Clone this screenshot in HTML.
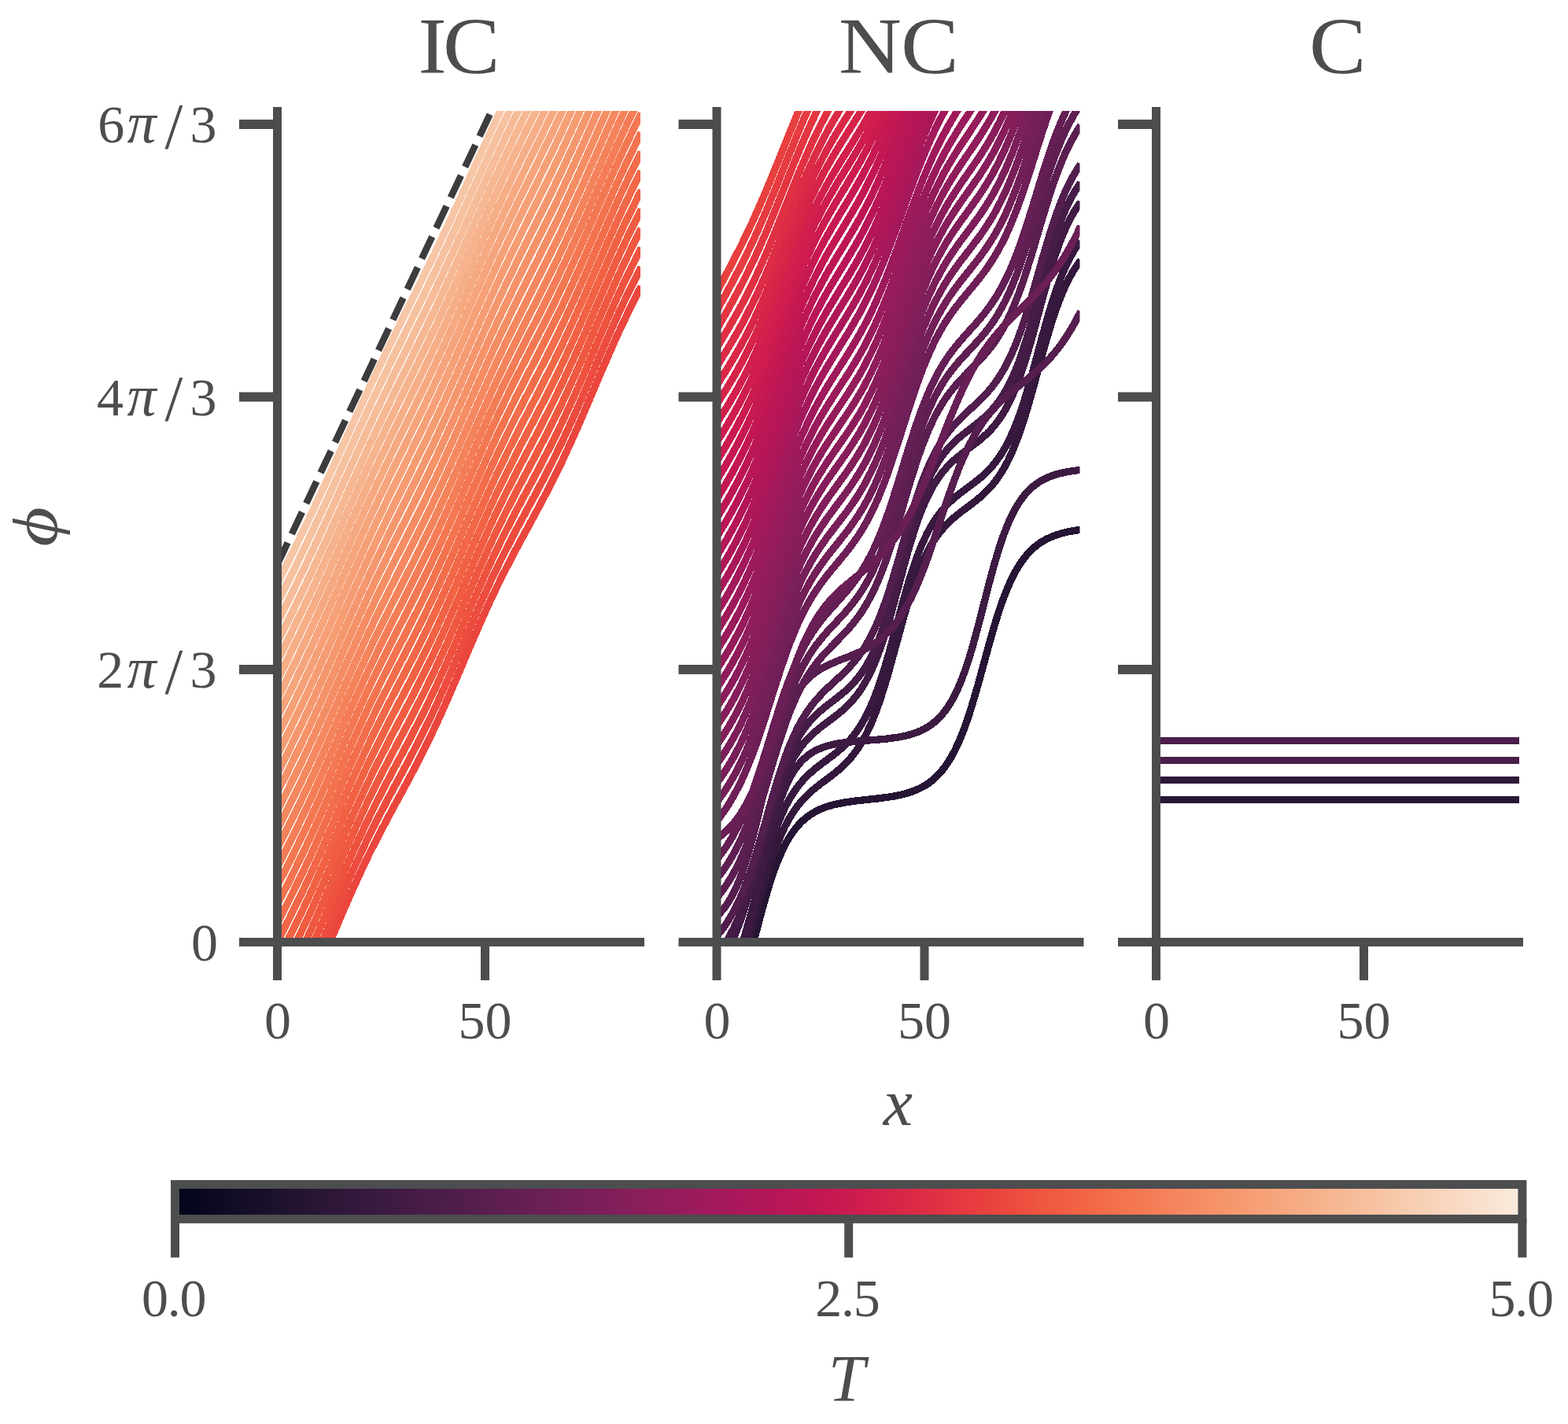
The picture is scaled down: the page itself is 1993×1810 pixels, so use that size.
<!DOCTYPE html>
<html lang="en"><head><meta charset="utf-8"><title>CDW phase profiles: IC, NC, C</title>
<style>html,body{margin:0;padding:0;background:#fff;}svg{display:block;}text{font-family:"Liberation Serif","DejaVu Serif",serif;fill:#4c4d4f;}.it{font-style:italic;}</style></head><body>
<svg xmlns="http://www.w3.org/2000/svg" width="1993" height="1810" viewBox="0 0 1993 1810">
<rect width="1993" height="1810" fill="#fff"/>
<defs>
<clipPath id="c0"><rect x="352.5" y="141.0" width="461.5" height="1056.5"/></clipPath>
<clipPath id="c1"><rect x="911.0" y="141.0" width="461.5" height="1056.5"/></clipPath>
<clipPath id="c2"><rect x="1469.5" y="141.0" width="461.5" height="1056.5"/></clipPath>
<linearGradient id="rk" x1="0" y1="0" x2="1" y2="0"><stop offset="0.0000" stop-color="#03051a"/><stop offset="0.0156" stop-color="#07071d"/><stop offset="0.0312" stop-color="#0d0a21"/><stop offset="0.0469" stop-color="#130d25"/><stop offset="0.0625" stop-color="#180f29"/><stop offset="0.0781" stop-color="#1e122d"/><stop offset="0.0938" stop-color="#241432"/><stop offset="0.1094" stop-color="#2a1636"/><stop offset="0.1250" stop-color="#30173a"/><stop offset="0.1406" stop-color="#35193e"/><stop offset="0.1562" stop-color="#3c1a42"/><stop offset="0.1719" stop-color="#421b45"/><stop offset="0.1875" stop-color="#481c48"/><stop offset="0.2031" stop-color="#4e1d4b"/><stop offset="0.2188" stop-color="#541e4e"/><stop offset="0.2344" stop-color="#5b1e51"/><stop offset="0.2500" stop-color="#611f53"/><stop offset="0.2656" stop-color="#681f55"/><stop offset="0.2812" stop-color="#6e1f57"/><stop offset="0.2969" stop-color="#751f58"/><stop offset="0.3125" stop-color="#7b1f59"/><stop offset="0.3281" stop-color="#821e5a"/><stop offset="0.3438" stop-color="#891e5b"/><stop offset="0.3594" stop-color="#901d5b"/><stop offset="0.3750" stop-color="#971c5b"/><stop offset="0.3906" stop-color="#9e1a5b"/><stop offset="0.4062" stop-color="#a4195b"/><stop offset="0.4219" stop-color="#ab185a"/><stop offset="0.4375" stop-color="#b21758"/><stop offset="0.4531" stop-color="#b91657"/><stop offset="0.4688" stop-color="#bf1654"/><stop offset="0.4844" stop-color="#c51852"/><stop offset="0.5000" stop-color="#cb1b4f"/><stop offset="0.5156" stop-color="#d11f4c"/><stop offset="0.5312" stop-color="#d62449"/><stop offset="0.5469" stop-color="#db2946"/><stop offset="0.5625" stop-color="#df2f44"/><stop offset="0.5781" stop-color="#e33641"/><stop offset="0.5938" stop-color="#e73d3f"/><stop offset="0.6094" stop-color="#ea443e"/><stop offset="0.6250" stop-color="#ec4c3e"/><stop offset="0.6406" stop-color="#ee543f"/><stop offset="0.6562" stop-color="#f05c42"/><stop offset="0.6719" stop-color="#f16445"/><stop offset="0.6875" stop-color="#f26b49"/><stop offset="0.7031" stop-color="#f3734e"/><stop offset="0.7188" stop-color="#f47a54"/><stop offset="0.7344" stop-color="#f4815a"/><stop offset="0.7500" stop-color="#f58860"/><stop offset="0.7656" stop-color="#f58f66"/><stop offset="0.7812" stop-color="#f5966c"/><stop offset="0.7969" stop-color="#f69c73"/><stop offset="0.8125" stop-color="#f6a37a"/><stop offset="0.8281" stop-color="#f6a981"/><stop offset="0.8438" stop-color="#f6b089"/><stop offset="0.8594" stop-color="#f6b691"/><stop offset="0.8750" stop-color="#f6bc99"/><stop offset="0.8906" stop-color="#f7c2a2"/><stop offset="0.9062" stop-color="#f7c9aa"/><stop offset="0.9219" stop-color="#f7cfb3"/><stop offset="0.9375" stop-color="#f8d4bc"/><stop offset="0.9531" stop-color="#f8dac5"/><stop offset="0.9688" stop-color="#f9e0cd"/><stop offset="0.9844" stop-color="#fae6d6"/><stop offset="1.0000" stop-color="#faebdd"/></linearGradient>
</defs>
<g clip-path="url(#c0)" fill="none" stroke-width="9.3" stroke-linecap="butt" stroke-linejoin="round" shape-rendering="crispEdges">
<path d="M406.9 1226.6L410.8 1217.6L414.7 1208.5L418.6 1199.4L422.5 1190.2L426.4 1181.1L430.3 1171.9L434.1 1162.8L438.0 1153.8L441.9 1144.9L445.8 1136.0L449.7 1127.3L453.6 1118.8L457.5 1110.3L461.4 1102.0L465.2 1093.9L469.1 1085.9L473.0 1078.1L476.9 1070.4L480.8 1062.8L484.7 1055.3L488.6 1047.9L492.5 1040.6L496.3 1033.4L500.2 1026.2L504.1 1019.0L508.0 1011.9L511.9 1004.7L515.8 997.5L519.7 990.2L523.6 982.9L527.4 975.5L531.3 968.0L535.2 960.4L539.1 952.6L543.0 944.7L546.9 936.7L550.8 928.5L554.7 920.2L558.5 911.8L562.4 903.1L566.3 894.4L570.2 885.5L574.1 876.6L578.0 867.5L581.9 858.4L585.8 849.3L589.6 840.1L593.5 830.9L597.4 821.8L601.3 812.7L605.2 803.8L609.1 794.9L613.0 786.1L616.9 777.4L620.7 768.9L624.6 760.5L628.5 752.3L632.4 744.2L636.3 736.3L640.2 728.5L644.1 720.9L648.0 713.3L651.9 705.9L655.7 698.5L659.6 691.3L663.5 684.0L667.4 676.9L671.3 669.7L675.2 662.5L679.1 655.3L683.0 648.1L686.8 640.8L690.7 633.5L694.6 626.1L698.5 618.5L702.4 610.8L706.3 603.0L710.2 595.1L714.1 587.0L717.9 578.8L721.8 570.4L725.7 561.9L729.6 553.2L733.5 544.4L737.4 535.5L741.3 526.5L745.2 517.4L749.0 508.3L752.9 499.2L756.8 490.0L760.7 480.8L764.6 471.7L768.5 462.7L772.4 453.7L776.3 444.9L780.1 436.1L784.0 427.5L787.9 419.1L791.8 410.8L795.7 402.6L799.6 394.6L803.5 386.7L807.4 379.0L811.2 371.4L815.1 363.9" stroke="#eb463e"/>
<path d="M395.3 1229.3L399.2 1220.6L403.0 1211.9L406.9 1203.0L410.8 1194.0L414.7 1185.0L418.6 1175.9L422.5 1166.8L426.4 1157.6L430.3 1148.5L434.1 1139.5L438.0 1130.4L441.9 1121.5L445.8 1112.7L449.7 1104.0L453.6 1095.4L457.5 1087.0L461.4 1078.6L465.2 1070.5L469.1 1062.5L473.0 1054.6L476.9 1046.8L480.8 1039.2L484.7 1031.6L488.6 1024.2L492.5 1016.8L496.3 1009.5L500.2 1002.3L504.1 995.1L508.0 987.9L511.9 980.6L515.8 973.4L519.7 966.1L523.6 958.7L527.4 951.3L531.3 943.8L535.2 936.1L539.1 928.4L543.0 920.5L546.9 912.5L550.8 904.3L554.7 896.0L558.5 887.5L562.4 879.0L566.3 870.3L570.2 861.4L574.1 852.5L578.0 843.5L581.9 834.4L585.8 825.3L589.6 816.2L593.5 807.1L597.4 798.0L601.3 788.9L605.2 780.0L609.1 771.1L613.0 762.3L616.9 753.6L620.7 745.1L624.6 736.7L628.5 728.5L632.4 720.4L636.3 712.4L640.2 704.6L644.1 696.9L648.0 689.3L651.9 681.8L655.7 674.4L659.6 667.1L663.5 659.8L667.4 652.6L671.3 645.4L675.2 638.1L679.1 630.9L683.0 623.6L686.8 616.3L690.7 608.9L694.6 601.5L698.5 593.9L702.4 586.2L706.3 578.4L710.2 570.4L714.1 562.3L717.9 554.1L721.8 545.7L725.7 537.2L729.6 528.6L733.5 519.8L737.4 511.0L741.3 502.0L745.2 493.0L749.0 483.9L752.9 474.8L756.8 465.6L760.7 456.5L764.6 447.4L768.5 438.4L772.4 429.5L776.3 420.6L780.1 411.9L784.0 403.3L787.9 394.9L791.8 386.5L795.7 378.4L799.6 370.3L803.5 362.4L807.4 354.6L811.2 347.0L815.1 339.4" stroke="#ec4c3e"/>
<path d="M383.6 1230.6L387.5 1222.4L391.4 1214.0L395.3 1205.5L399.2 1196.9L403.0 1188.2L406.9 1179.3L410.8 1170.4L414.7 1161.4L418.6 1152.3L422.5 1143.3L426.4 1134.2L430.3 1125.1L434.1 1116.0L438.0 1107.1L441.9 1098.1L445.8 1089.3L449.7 1080.6L453.6 1072.0L457.5 1063.6L461.4 1055.2L465.2 1047.0L469.1 1039.0L473.0 1031.0L476.9 1023.2L480.8 1015.5L484.7 1008.0L488.6 1000.5L492.5 993.0L496.3 985.7L500.2 978.4L504.1 971.1L508.0 963.9L511.9 956.6L515.8 949.3L519.7 942.0L523.6 934.6L527.4 927.1L531.3 919.5L535.2 911.9L539.1 904.1L543.0 896.2L546.9 888.2L550.8 880.0L554.7 871.8L558.5 863.3L562.4 854.8L566.3 846.1L570.2 837.3L574.1 828.4L578.0 819.5L581.9 810.4L585.8 801.4L589.6 792.3L593.5 783.2L597.4 774.1L601.3 765.1L605.2 756.1L609.1 747.3L613.0 738.5L616.9 729.8L620.7 721.3L624.6 712.9L628.5 704.6L632.4 696.5L636.3 688.5L640.2 680.7L644.1 672.9L648.0 665.3L651.9 657.7L655.7 650.3L659.6 642.9L663.5 635.6L667.4 628.3L671.3 621.0L675.2 613.8L679.1 606.5L683.0 599.2L686.8 591.8L690.7 584.4L694.6 576.9L698.5 569.3L702.4 561.6L706.3 553.7L710.2 545.8L714.1 537.7L717.9 529.5L721.8 521.1L725.7 512.6L729.6 504.0L733.5 495.3L737.4 486.4L741.3 477.5L745.2 468.5L749.0 459.4L752.9 450.4L756.8 441.3L760.7 432.2L764.6 423.1L768.5 414.1L772.4 405.2L776.3 396.4L780.1 387.7L784.0 379.1L787.9 370.6L791.8 362.3L795.7 354.1L799.6 346.0L803.5 338.1L807.4 330.3L811.2 322.6L815.1 315.0" stroke="#ee523f"/>
<path d="M375.8 1222.8L379.7 1214.8L383.6 1206.7L387.5 1198.5L391.4 1190.2L395.3 1181.7L399.2 1173.1L403.0 1164.4L406.9 1155.6L410.8 1146.8L414.7 1137.8L418.6 1128.8L422.5 1119.7L426.4 1110.7L430.3 1101.6L434.1 1092.6L438.0 1083.6L441.9 1074.7L445.8 1065.9L449.7 1057.2L453.6 1048.6L457.5 1040.1L461.4 1031.8L465.2 1023.6L469.1 1015.5L473.0 1007.5L476.9 999.6L480.8 991.9L484.7 984.3L488.6 976.7L492.5 969.3L496.3 961.9L500.2 954.5L504.1 947.2L508.0 939.9L511.9 932.5L515.8 925.2L519.7 917.8L523.6 910.4L527.4 902.9L531.3 895.3L535.2 887.7L539.1 879.9L543.0 872.0L546.9 864.0L550.8 855.8L554.7 847.5L558.5 839.1L562.4 830.6L566.3 821.9L570.2 813.2L574.1 804.3L578.0 795.4L581.9 786.4L585.8 777.4L589.6 768.3L593.5 759.3L597.4 750.2L601.3 741.2L605.2 732.3L609.1 723.4L613.0 714.7L616.9 706.0L620.7 697.5L624.6 689.1L628.5 680.8L632.4 672.6L636.3 664.6L640.2 656.7L644.1 648.9L648.0 641.2L651.9 633.7L655.7 626.2L659.6 618.7L663.5 611.4L667.4 604.0L671.3 596.7L675.2 589.4L679.1 582.1L683.0 574.7L686.8 567.3L690.7 559.8L694.6 552.3L698.5 544.7L702.4 536.9L706.3 529.1L710.2 521.1L714.1 513.0L717.9 504.8L721.8 496.5L725.7 488.0L729.6 479.4L733.5 470.7L737.4 461.9L741.3 453.0L745.2 444.0L749.0 435.0L752.9 425.9L756.8 416.9L760.7 407.8L764.6 398.8L768.5 389.9L772.4 381.0L776.3 372.2L780.1 363.5L784.0 354.9L787.9 346.4L791.8 338.1L795.7 329.8L799.6 321.8L803.5 313.8L807.4 306.0L811.2 298.2L815.1 290.6" stroke="#ef5840"/>
<path d="M360.3 1229.7L364.2 1222.1L368.1 1214.5L371.9 1206.8L375.8 1198.9L379.7 1191.0L383.6 1182.9L387.5 1174.7L391.4 1166.4L395.3 1157.9L399.2 1149.4L403.0 1140.7L406.9 1131.9L410.8 1123.1L414.7 1114.2L418.6 1105.2L422.5 1096.2L426.4 1087.2L430.3 1078.1L434.1 1069.1L438.0 1060.2L441.9 1051.3L445.8 1042.5L449.7 1033.8L453.6 1025.2L457.5 1016.7L461.4 1008.3L465.2 1000.1L469.1 991.9L473.0 983.9L476.9 976.0L480.8 968.3L484.7 960.6L488.6 953.0L492.5 945.5L496.3 938.0L500.2 930.6L504.1 923.2L508.0 915.9L511.9 908.5L515.8 901.1L519.7 893.7L523.6 886.3L527.4 878.7L531.3 871.1L535.2 863.4L539.1 855.6L543.0 847.7L546.9 839.7L550.8 831.6L554.7 823.3L558.5 814.9L562.4 806.4L566.3 797.8L570.2 789.0L574.1 780.2L578.0 771.3L581.9 762.4L585.8 753.4L589.6 744.3L593.5 735.3L597.4 726.3L601.3 717.3L605.2 708.4L609.1 699.6L613.0 690.8L616.9 682.2L620.7 673.6L624.6 665.2L628.5 656.9L632.4 648.7L636.3 640.7L640.2 632.7L644.1 624.9L648.0 617.2L651.9 609.6L655.7 602.0L659.6 594.6L663.5 587.1L667.4 579.7L671.3 572.4L675.2 565.0L679.1 557.7L683.0 550.3L686.8 542.8L690.7 535.3L694.6 527.8L698.5 520.1L702.4 512.3L706.3 504.5L710.2 496.5L714.1 488.4L717.9 480.2L721.8 471.9L725.7 463.4L729.6 454.8L733.5 446.1L737.4 437.3L741.3 428.5L745.2 419.5L749.0 410.6L752.9 401.5L756.8 392.5L760.7 383.5L764.6 374.5L768.5 365.6L772.4 356.7L776.3 347.9L780.1 339.2L784.0 330.6L787.9 322.2L791.8 313.8L795.7 305.6L799.6 297.5L803.5 289.5L807.4 281.6L811.2 273.9L815.1 266.2" stroke="#f05c42"/>
<path d="M352.5 1220.9L356.4 1213.4L360.3 1205.9L364.2 1198.3L368.1 1190.6L371.9 1182.9L375.8 1175.0L379.7 1167.1L383.6 1159.0L387.5 1150.8L391.4 1142.5L395.3 1134.1L399.2 1125.6L403.0 1116.9L406.9 1108.2L410.8 1099.4L414.7 1090.5L418.6 1081.6L422.5 1072.6L426.4 1063.6L430.3 1054.6L434.1 1045.6L438.0 1036.7L441.9 1027.8L445.8 1019.0L449.7 1010.3L453.6 1001.7L457.5 993.2L461.4 984.8L465.2 976.5L469.1 968.4L473.0 960.3L476.9 952.4L480.8 944.6L484.7 936.9L488.6 929.2L492.5 921.7L496.3 914.2L500.2 906.7L504.1 899.3L508.0 891.9L511.9 884.5L515.8 877.1L519.7 869.6L523.6 862.1L527.4 854.6L531.3 846.9L535.2 839.2L539.1 831.4L543.0 823.5L546.9 815.5L550.8 807.3L554.7 799.1L558.5 790.7L562.4 782.2L566.3 773.6L570.2 764.9L574.1 756.1L578.0 747.2L581.9 738.3L585.8 729.4L589.6 720.4L593.5 711.4L597.4 702.4L601.3 693.4L605.2 684.6L609.1 675.7L613.0 667.0L616.9 658.3L620.7 649.8L624.6 641.4L628.5 633.0L632.4 624.8L636.3 616.8L640.2 608.8L644.1 600.9L648.0 593.2L651.9 585.5L655.7 577.9L659.6 570.4L663.5 562.9L667.4 555.5L671.3 548.1L675.2 540.7L679.1 533.3L683.0 525.8L686.8 518.3L690.7 510.8L694.6 503.2L698.5 495.5L702.4 487.8L706.3 479.9L710.2 471.9L714.1 463.8L717.9 455.6L721.8 447.3L725.7 438.8L729.6 430.2L733.5 421.6L737.4 412.8L741.3 404.0L745.2 395.1L749.0 386.1L752.9 377.1L756.8 368.1L760.7 359.2L764.6 350.2L768.5 341.3L772.4 332.4L776.3 323.7L780.1 315.0L784.0 306.4L787.9 297.9L791.8 289.5L795.7 281.3L799.6 273.2L803.5 265.2L807.4 257.3L811.2 249.5L815.1 241.8" stroke="#f16244"/>
<path d="M352.5 1197.1L356.4 1189.6L360.3 1182.1L364.2 1174.5L368.1 1166.8L371.9 1159.0L375.8 1151.2L379.7 1143.2L383.6 1135.1L387.5 1127.0L391.4 1118.7L395.3 1110.3L399.2 1101.8L403.0 1093.2L406.9 1084.5L410.8 1075.7L414.7 1066.8L418.6 1057.9L422.5 1049.0L426.4 1040.0L430.3 1031.1L434.1 1022.1L438.0 1013.2L441.9 1004.3L445.8 995.5L449.7 986.8L453.6 978.2L457.5 969.7L461.4 961.3L465.2 953.0L469.1 944.8L473.0 936.7L476.9 928.8L480.8 920.9L484.7 913.1L488.6 905.5L492.5 897.9L496.3 890.3L500.2 882.8L504.1 875.3L508.0 867.9L511.9 860.4L515.8 853.0L519.7 845.5L523.6 838.0L527.4 830.4L531.3 822.7L535.2 815.0L539.1 807.2L543.0 799.3L546.9 791.2L550.8 783.1L554.7 774.8L558.5 766.5L562.4 758.0L566.3 749.4L570.2 740.8L574.1 732.0L578.0 723.2L581.9 714.3L585.8 705.3L589.6 696.4L593.5 687.4L597.4 678.5L601.3 669.5L605.2 660.7L609.1 651.8L613.0 643.1L616.9 634.5L620.7 625.9L624.6 617.5L628.5 609.1L632.4 600.9L636.3 592.8L640.2 584.8L644.1 576.9L648.0 569.1L651.9 561.4L655.7 553.8L659.6 546.2L663.5 538.7L667.4 531.2L671.3 523.8L675.2 516.3L679.1 508.9L683.0 501.4L686.8 493.9L690.7 486.3L694.6 478.7L698.5 471.0L702.4 463.2L706.3 455.3L710.2 447.3L714.1 439.2L717.9 431.0L721.8 422.7L725.7 414.2L729.6 405.7L733.5 397.0L737.4 388.3L741.3 379.5L745.2 370.6L749.0 361.7L752.9 352.7L756.8 343.8L760.7 334.8L764.6 325.9L768.5 317.0L772.4 308.1L776.3 299.4L780.1 290.7L784.0 282.1L787.9 273.6L791.8 265.3L795.7 257.0L799.6 248.9L803.5 240.8L807.4 232.9L811.2 225.1L815.1 217.4" stroke="#f26747"/>
<path d="M352.5 1173.4L356.4 1165.8L360.3 1158.2L364.2 1150.6L368.1 1142.9L371.9 1135.2L375.8 1127.3L379.7 1119.3L383.6 1111.3L387.5 1103.1L391.4 1094.8L395.3 1086.4L399.2 1078.0L403.0 1069.4L406.9 1060.7L410.8 1051.9L414.7 1043.1L418.6 1034.3L422.5 1025.3L426.4 1016.4L430.3 1007.5L434.1 998.5L438.0 989.7L441.9 980.8L445.8 972.0L449.7 963.3L453.6 954.7L457.5 946.2L461.4 937.8L465.2 929.4L469.1 921.2L473.0 913.1L476.9 905.1L480.8 897.2L484.7 889.4L488.6 881.7L492.5 874.0L496.3 866.5L500.2 858.9L504.1 851.4L508.0 843.9L511.9 836.4L515.8 828.9L519.7 821.4L523.6 813.8L527.4 806.2L531.3 798.6L535.2 790.8L539.1 783.0L543.0 775.0L546.9 767.0L550.8 758.9L554.7 750.6L558.5 742.3L562.4 733.8L566.3 725.3L570.2 716.6L574.1 707.9L578.0 699.1L581.9 690.2L585.8 681.3L589.6 672.4L593.5 663.4L597.4 654.5L601.3 645.6L605.2 636.7L609.1 627.9L613.0 619.2L616.9 610.6L620.7 602.0L624.6 593.6L628.5 585.2L632.4 577.0L636.3 568.8L640.2 560.8L644.1 552.9L648.0 545.1L651.9 537.3L655.7 529.6L659.6 522.0L663.5 514.5L667.4 507.0L671.3 499.5L675.2 492.0L679.1 484.5L683.0 477.0L686.8 469.4L690.7 461.8L694.6 454.2L698.5 446.4L702.4 438.6L706.3 430.7L710.2 422.7L714.1 414.6L717.9 406.4L721.8 398.1L725.7 389.7L729.6 381.1L733.5 372.5L737.4 363.8L741.3 355.0L745.2 346.1L749.0 337.3L752.9 328.3L756.8 319.4L760.7 310.5L764.6 301.6L768.5 292.7L772.4 283.9L776.3 275.1L780.1 266.4L784.0 257.9L787.9 249.4L791.8 241.0L795.7 232.7L799.6 224.6L803.5 216.5L807.4 208.6L811.2 200.7L815.1 192.9" stroke="#f26d4b"/>
<path d="M352.5 1149.6L356.4 1142.0L360.3 1134.4L364.2 1126.8L368.1 1119.1L371.9 1111.3L375.8 1103.4L379.7 1095.4L383.6 1087.4L387.5 1079.2L391.4 1071.0L395.3 1062.6L399.2 1054.1L403.0 1045.6L406.9 1036.9L410.8 1028.2L414.7 1019.4L418.6 1010.6L422.5 1001.7L426.4 992.8L430.3 983.9L434.1 975.0L438.0 966.1L441.9 957.3L445.8 948.5L449.7 939.8L453.6 931.2L457.5 922.6L461.4 914.2L465.2 905.9L469.1 897.6L473.0 889.5L476.9 881.5L480.8 873.5L484.7 865.7L488.6 857.9L492.5 850.2L496.3 842.6L500.2 835.0L504.1 827.5L508.0 819.9L511.9 812.4L515.8 804.9L519.7 797.3L523.6 789.7L527.4 782.1L531.3 774.4L535.2 766.6L539.1 758.8L543.0 750.8L546.9 742.8L550.8 734.6L554.7 726.4L558.5 718.1L562.4 709.6L566.3 701.1L570.2 692.4L574.1 683.7L578.0 675.0L581.9 666.1L585.8 657.3L589.6 648.4L593.5 639.4L597.4 630.5L601.3 621.7L605.2 612.8L609.1 604.0L613.0 595.3L616.9 586.7L620.7 578.1L624.6 569.7L628.5 561.3L632.4 553.0L636.3 544.9L640.2 536.8L644.1 528.9L648.0 521.0L651.9 513.2L655.7 505.5L659.6 497.9L663.5 490.3L667.4 482.7L671.3 475.2L675.2 467.6L679.1 460.1L683.0 452.6L686.8 445.0L690.7 437.4L694.6 429.7L698.5 421.9L702.4 414.1L706.3 406.2L710.2 398.2L714.1 390.0L717.9 381.8L721.8 373.5L725.7 365.1L729.6 356.6L733.5 348.0L737.4 339.3L741.3 330.5L745.2 321.7L749.0 312.8L752.9 303.9L756.8 295.0L760.7 286.1L764.6 277.2L768.5 268.4L772.4 259.6L776.3 250.8L780.1 242.2L784.0 233.6L787.9 225.1L791.8 216.7L795.7 208.4L799.6 200.3L803.5 192.2L807.4 184.2L811.2 176.3L815.1 168.5" stroke="#f3734e"/>
<path d="M352.5 1125.8L356.4 1118.3L360.3 1110.6L364.2 1103.0L368.1 1095.2L371.9 1087.4L375.8 1079.5L379.7 1071.6L383.6 1063.5L387.5 1055.4L391.4 1047.1L395.3 1038.7L399.2 1030.3L403.0 1021.8L406.9 1013.1L410.8 1004.4L414.7 995.7L418.6 986.9L422.5 978.0L426.4 969.1L430.3 960.2L434.1 951.4L438.0 942.5L441.9 933.7L445.8 924.9L449.7 916.2L453.6 907.6L457.5 899.1L461.4 890.6L465.2 882.3L469.1 874.0L473.0 865.9L476.9 857.8L480.8 849.8L484.7 841.9L488.6 834.1L492.5 826.4L496.3 818.7L500.2 811.1L504.1 803.5L508.0 795.9L511.9 788.4L515.8 780.8L519.7 773.2L523.6 765.6L527.4 757.9L531.3 750.2L535.2 742.4L539.1 734.5L543.0 726.6L546.9 718.6L550.8 710.4L554.7 702.2L558.5 693.9L562.4 685.4L566.3 676.9L570.2 668.3L574.1 659.6L578.0 650.9L581.9 642.0L585.8 633.2L589.6 624.3L593.5 615.4L597.4 606.6L601.3 597.7L605.2 588.9L609.1 580.1L613.0 571.4L616.9 562.7L620.7 554.2L624.6 545.7L628.5 537.4L632.4 529.1L636.3 520.9L640.2 512.8L644.1 504.8L648.0 496.9L651.9 489.1L655.7 481.4L659.6 473.7L663.5 466.1L667.4 458.5L671.3 450.9L675.2 443.3L679.1 435.7L683.0 428.2L686.8 420.5L690.7 412.9L694.6 405.2L698.5 397.4L702.4 389.6L706.3 381.6L710.2 373.6L714.1 365.5L717.9 357.3L721.8 349.0L725.7 340.5L729.6 332.0L733.5 323.4L737.4 314.8L741.3 306.0L745.2 297.2L749.0 288.4L752.9 279.5L756.8 270.6L760.7 261.8L764.6 252.9L768.5 244.1L772.4 235.3L776.3 226.5L780.1 217.9L784.0 209.3L787.9 200.8L791.8 192.4L795.7 184.2L799.6 176.0L803.5 167.9L807.4 159.9L811.2 152.0L815.1 144.1" stroke="#f37852"/>
<path d="M352.5 1102.1L356.4 1094.5L360.3 1086.8L364.2 1079.1L368.1 1071.4L371.9 1063.6L375.8 1055.7L379.7 1047.7L383.6 1039.7L387.5 1031.5L391.4 1023.3L395.3 1015.0L399.2 1006.5L403.0 998.0L406.9 989.4L410.8 980.8L414.7 972.0L418.6 963.3L422.5 954.4L426.4 945.6L430.3 936.7L434.1 927.9L438.0 919.0L441.9 910.2L445.8 901.5L449.7 892.8L453.6 884.2L457.5 875.6L461.4 867.2L465.2 858.8L469.1 850.6L473.0 842.4L476.9 834.3L480.8 826.3L484.7 818.4L488.6 810.6L492.5 802.8L496.3 795.1L500.2 787.4L504.1 779.8L508.0 772.2L511.9 764.6L515.8 757.0L519.7 749.4L523.6 741.7L527.4 734.1L531.3 726.3L535.2 718.5L539.1 710.7L543.0 702.7L546.9 694.7L550.8 686.5L554.7 678.3L558.5 670.0L562.4 661.6L566.3 653.1L570.2 644.5L574.1 635.9L578.0 627.2L581.9 618.4L585.8 609.6L589.6 600.7L593.5 591.9L597.4 583.0L601.3 574.2L605.2 565.4L609.1 556.6L613.0 547.9L616.9 539.3L620.7 530.7L624.6 522.2L628.5 513.9L632.4 505.6L636.3 497.4L640.2 489.3L644.1 481.3L648.0 473.3L651.9 465.5L655.7 457.7L659.6 450.0L663.5 442.3L667.4 434.7L671.3 427.1L675.2 419.5L679.1 411.9L683.0 404.3L686.8 396.7L690.7 389.0L694.6 381.3L698.5 373.5L702.4 365.6L706.3 357.7L710.2 349.7L714.1 341.6L717.9 333.4L721.8 325.1L725.7 316.7L729.6 308.2L733.5 299.6L737.4 291.0L741.3 282.3L745.2 273.5L749.0 264.7L752.9 255.9L756.8 247.0L760.7 238.1L764.6 229.3L768.5 220.5L772.4 211.7L776.3 203.0L780.1 194.4L784.0 185.8L787.9 177.3L791.8 168.9L795.7 160.6L799.6 152.4L803.5 144.3L807.4 136.2L811.2 128.3L815.1 120.4" stroke="#f47d57"/>
<path d="M352.5 1078.3L356.4 1070.7L360.3 1063.0L364.2 1055.3L368.1 1047.6L371.9 1039.8L375.8 1031.9L379.7 1023.9L383.6 1015.9L387.5 1007.7L391.4 999.5L395.3 991.2L399.2 982.8L403.0 974.3L406.9 965.7L410.8 957.1L414.7 948.4L418.6 939.6L422.5 930.8L426.4 922.0L430.3 913.2L434.1 904.4L438.0 895.5L441.9 886.8L445.8 878.0L449.7 869.3L453.6 860.7L457.5 852.2L461.4 843.7L465.2 835.4L469.1 827.1L473.0 818.9L476.9 810.8L480.8 802.8L484.7 794.8L488.6 787.0L492.5 779.2L496.3 771.4L500.2 763.7L504.1 756.1L508.0 748.4L511.9 740.8L515.8 733.2L519.7 725.5L523.6 717.9L527.4 710.2L531.3 702.4L535.2 694.6L539.1 686.7L543.0 678.8L546.9 670.8L550.8 662.6L554.7 654.4L558.5 646.1L562.4 637.7L566.3 629.3L570.2 620.7L574.1 612.1L578.0 603.4L581.9 594.7L585.8 585.9L589.6 577.0L593.5 568.2L597.4 559.4L601.3 550.6L605.2 541.8L609.1 533.0L613.0 524.3L616.9 515.7L620.7 507.2L624.6 498.7L628.5 490.3L632.4 482.0L636.3 473.8L640.2 465.7L644.1 457.6L648.0 449.7L651.9 441.8L655.7 434.0L659.6 426.3L663.5 418.5L667.4 410.9L671.3 403.2L675.2 395.6L679.1 388.0L683.0 380.4L686.8 372.7L690.7 365.0L694.6 357.3L698.5 349.5L702.4 341.6L706.3 333.7L710.2 325.7L714.1 317.6L717.9 309.4L721.8 301.1L725.7 292.7L729.6 284.2L733.5 275.7L737.4 267.1L741.3 258.4L745.2 249.7L749.0 240.9L752.9 232.1L756.8 223.3L760.7 214.4L764.6 205.6L768.5 196.8L772.4 188.1L776.3 179.4L780.1 170.7L784.0 162.1L787.9 153.7L791.8 145.3L795.7 136.9L799.6 128.7L803.5 120.6L807.4 112.5" stroke="#f4835b"/>
<path d="M352.5 1054.6L356.4 1046.9L360.3 1039.2L364.2 1031.5L368.1 1023.7L371.9 1015.9L375.8 1008.0L379.7 1000.0L383.6 992.0L387.5 983.8L391.4 975.6L395.3 967.3L399.2 958.9L403.0 950.4L406.9 941.9L410.8 933.3L414.7 924.6L418.6 915.9L422.5 907.1L426.4 898.3L430.3 889.5L434.1 880.7L438.0 871.9L441.9 863.1L445.8 854.4L449.7 845.7L453.6 837.1L457.5 828.5L461.4 820.1L465.2 811.7L469.1 803.4L473.0 795.2L476.9 787.0L480.8 779.0L484.7 771.0L488.6 763.1L492.5 755.3L496.3 747.5L500.2 739.8L504.1 732.1L508.0 724.4L511.9 716.7L515.8 709.1L519.7 701.4L523.6 693.7L527.4 686.0L531.3 678.2L535.2 670.4L539.1 662.5L543.0 654.5L546.9 646.5L550.8 638.4L554.7 630.1L558.5 621.9L562.4 613.5L566.3 605.0L570.2 596.5L574.1 587.9L578.0 579.2L581.9 570.5L585.8 561.7L589.6 552.9L593.5 544.1L597.4 535.3L601.3 526.5L605.2 517.7L609.1 509.0L613.0 500.3L616.9 491.7L620.7 483.1L624.6 474.6L628.5 466.2L632.4 457.9L636.3 449.7L640.2 441.6L644.1 433.5L648.0 425.5L651.9 417.6L655.7 409.8L659.6 402.0L663.5 394.2L667.4 386.5L671.3 378.9L675.2 371.2L679.1 363.5L683.0 355.9L686.8 348.2L690.7 340.5L694.6 332.7L698.5 324.9L702.4 317.0L706.3 309.0L710.2 301.0L714.1 292.9L717.9 284.7L721.8 276.4L725.7 268.0L729.6 259.6L733.5 251.1L737.4 242.5L741.3 233.8L745.2 225.1L749.0 216.3L752.9 207.5L756.8 198.7L760.7 189.9L764.6 181.1L768.5 172.3L772.4 163.6L776.3 154.9L780.1 146.3L784.0 137.7L787.9 129.2L791.8 120.8L795.7 112.5" stroke="#f58860"/>
<path d="M352.5 1030.8L356.4 1023.1L360.3 1015.4L364.2 1007.6L368.1 999.8L371.9 992.0L375.8 984.1L379.7 976.1L383.6 968.0L387.5 959.9L391.4 951.6L395.3 943.3L399.2 934.9L403.0 926.5L406.9 917.9L410.8 909.3L414.7 900.7L418.6 892.0L422.5 883.2L426.4 874.4L430.3 865.6L434.1 856.8L438.0 848.1L441.9 839.3L445.8 830.6L449.7 821.9L453.6 813.3L457.5 804.7L461.4 796.2L465.2 787.8L469.1 779.5L473.0 771.3L476.9 763.1L480.8 755.0L484.7 747.0L488.6 739.1L492.5 731.2L496.3 723.4L500.2 715.6L504.1 707.9L508.0 700.2L511.9 692.5L515.8 684.8L519.7 677.1L523.6 669.3L527.4 661.6L531.3 653.8L535.2 645.9L539.1 638.0L543.0 630.0L546.9 622.0L550.8 613.8L554.7 605.6L558.5 597.3L562.4 588.9L566.3 580.5L570.2 571.9L574.1 563.3L578.0 554.7L581.9 545.9L585.8 537.2L589.6 528.4L593.5 519.6L597.4 510.8L601.3 502.0L605.2 493.3L609.1 484.6L613.0 475.9L616.9 467.3L620.7 458.7L624.6 450.2L628.5 441.8L632.4 433.5L636.3 425.2L640.2 417.1L644.1 409.0L648.0 401.0L651.9 393.0L655.7 385.2L659.6 377.3L663.5 369.6L667.4 361.8L671.3 354.1L675.2 346.4L679.1 338.7L683.0 331.0L686.8 323.3L690.7 315.5L694.6 307.7L698.5 299.8L702.4 291.9L706.3 284.0L710.2 275.9L714.1 267.8L717.9 259.6L721.8 251.3L725.7 242.9L729.6 234.4L733.5 225.9L737.4 217.3L741.3 208.6L745.2 199.9L749.0 191.2L752.9 182.4L756.8 173.6L760.7 164.8L764.6 156.0L768.5 147.3L772.4 138.5L776.3 129.9L780.1 121.2L784.0 112.7" stroke="#f58d64"/>
<path d="M352.5 1007.1L356.4 999.3L360.3 991.6L364.2 983.8L368.1 975.9L371.9 968.1L375.8 960.1L379.7 952.1L383.6 944.0L387.5 935.9L391.4 927.6L395.3 919.3L399.2 911.0L403.0 902.5L406.9 894.0L410.8 885.4L414.7 876.7L418.6 868.0L422.5 859.3L426.4 850.5L430.3 841.7L434.1 832.9L438.0 824.2L441.9 815.4L445.8 806.7L449.7 798.0L453.6 789.4L457.5 780.8L461.4 772.3L465.2 763.9L469.1 755.6L473.0 747.3L476.9 739.1L480.8 731.0L484.7 723.0L488.6 715.0L492.5 707.1L496.3 699.2L500.2 691.4L504.1 683.6L508.0 675.9L511.9 668.1L515.8 660.4L519.7 652.6L523.6 644.9L527.4 637.1L531.3 629.2L535.2 621.3L539.1 613.4L543.0 605.4L546.9 597.3L550.8 589.1L554.7 580.9L558.5 572.6L562.4 564.2L566.3 555.7L570.2 547.2L574.1 538.6L578.0 530.0L581.9 521.3L585.8 512.5L589.6 503.8L593.5 495.0L597.4 486.2L601.3 477.4L605.2 468.7L609.1 459.9L613.0 451.3L616.9 442.6L620.7 434.1L624.6 425.6L628.5 417.2L632.4 408.8L636.3 400.6L640.2 392.4L644.1 384.3L648.0 376.2L651.9 368.3L655.7 360.3L659.6 352.5L663.5 344.7L667.4 336.9L671.3 329.1L675.2 321.4L679.1 313.6L683.0 305.9L686.8 298.1L690.7 290.3L694.6 282.5L698.5 274.6L702.4 266.6L706.3 258.6L710.2 250.6L714.1 242.4L717.9 234.2L721.8 225.9L725.7 217.5L729.6 209.0L733.5 200.5L737.4 191.9L741.3 183.2L745.2 174.5L749.0 165.8L752.9 157.0L756.8 148.2L760.7 139.4L764.6 130.7L768.5 121.9L772.4 113.2" stroke="#f59269"/>
<path d="M352.5 983.4L356.4 975.6L360.3 967.8L364.2 959.9L368.1 952.1L371.9 944.1L375.8 936.2L379.7 928.1L383.6 920.1L387.5 911.9L391.4 903.7L395.3 895.3L399.2 887.0L403.0 878.5L406.9 870.0L410.8 861.4L414.7 852.7L418.6 844.1L422.5 835.3L426.4 826.6L430.3 817.8L434.1 809.0L438.0 800.3L441.9 791.5L445.8 782.8L449.7 774.1L453.6 765.5L457.5 756.9L461.4 748.4L465.2 740.0L469.1 731.6L473.0 723.3L476.9 715.1L480.8 707.0L484.7 698.9L488.6 690.9L492.5 682.9L496.3 675.0L500.2 667.2L504.1 659.3L508.0 651.5L511.9 643.8L515.8 636.0L519.7 628.2L523.6 620.4L527.4 612.5L531.3 604.7L535.2 596.7L539.1 588.8L543.0 580.7L546.9 572.6L550.8 564.5L554.7 556.2L558.5 547.9L562.4 539.5L566.3 531.0L570.2 522.5L574.1 513.9L578.0 505.3L581.9 496.6L585.8 487.8L589.6 479.1L593.5 470.3L597.4 461.5L601.3 452.8L605.2 444.0L609.1 435.3L613.0 426.6L616.9 418.0L620.7 409.4L624.6 400.9L628.5 392.5L632.4 384.2L636.3 375.9L640.2 367.7L644.1 359.5L648.0 351.5L651.9 343.5L655.7 335.5L659.6 327.6L663.5 319.8L667.4 312.0L671.3 304.2L675.2 296.4L679.1 288.6L683.0 280.8L686.8 273.0L690.7 265.1L694.6 257.3L698.5 249.3L702.4 241.4L706.3 233.3L710.2 225.2L714.1 217.0L717.9 208.8L721.8 200.4L725.7 192.0L729.6 183.6L733.5 175.0L737.4 166.4L741.3 157.8L745.2 149.1L749.0 140.3L752.9 131.6L756.8 122.8L760.7 114.0" stroke="#f5976e"/>
<path d="M352.5 959.6L356.4 951.8L360.3 943.9L364.2 936.1L368.1 928.2L371.9 920.2L375.8 912.2L379.7 904.2L383.6 896.1L387.5 887.9L391.4 879.7L395.3 871.4L399.2 863.0L403.0 854.5L406.9 846.0L410.8 837.4L414.7 828.8L418.6 820.1L422.5 811.4L426.4 802.7L430.3 793.9L434.1 785.1L438.0 776.4L441.9 767.6L445.8 758.9L449.7 750.2L453.6 741.6L457.5 733.0L461.4 724.5L465.2 716.1L469.1 707.7L473.0 699.4L476.9 691.1L480.8 683.0L484.7 674.9L488.6 666.8L492.5 658.8L496.3 650.9L500.2 643.0L504.1 635.1L508.0 627.3L511.9 619.5L515.8 611.7L519.7 603.8L523.6 596.0L527.4 588.1L531.3 580.2L535.2 572.3L539.1 564.3L543.0 556.2L546.9 548.1L550.8 539.9L554.7 531.6L558.5 523.3L562.4 514.9L566.3 506.5L570.2 497.9L574.1 489.3L578.0 480.7L581.9 472.0L585.8 463.3L589.6 454.5L593.5 445.8L597.4 437.0L601.3 428.3L605.2 419.5L609.1 410.8L613.0 402.1L616.9 393.5L620.7 385.0L624.6 376.4L628.5 368.0L632.4 359.6L636.3 351.3L640.2 343.1L644.1 335.0L648.0 326.9L651.9 318.8L655.7 310.9L659.6 302.9L663.5 295.0L667.4 287.2L671.3 279.3L675.2 271.5L679.1 263.7L683.0 255.9L686.8 248.0L690.7 240.2L694.6 232.2L698.5 224.3L702.4 216.3L706.3 208.2L710.2 200.1L714.1 191.9L717.9 183.6L721.8 175.3L725.7 166.9L729.6 158.4L733.5 149.8L737.4 141.2L741.3 132.6L745.2 123.9L749.0 115.2" stroke="#f69c73"/>
<path d="M352.5 935.9L356.4 928.0L360.3 920.1L364.2 912.2L368.1 904.3L371.9 896.4L375.8 888.4L379.7 880.3L383.6 872.2L387.5 864.0L391.4 855.8L395.3 847.5L399.2 839.1L403.0 830.6L406.9 822.1L410.8 813.5L414.7 804.9L418.6 796.3L422.5 787.6L426.4 778.8L430.3 770.1L434.1 761.3L438.0 752.6L441.9 743.9L445.8 735.1L449.7 726.5L453.6 717.8L457.5 709.3L461.4 700.7L465.2 692.3L469.1 683.9L473.0 675.6L476.9 667.3L480.8 659.1L484.7 651.0L488.6 642.9L492.5 634.9L496.3 626.9L500.2 619.0L504.1 611.1L508.0 603.2L511.9 595.4L515.8 587.5L519.7 579.6L523.6 571.8L527.4 563.9L531.3 556.0L535.2 548.0L539.1 540.0L543.0 531.9L546.9 523.8L550.8 515.6L554.7 507.3L558.5 499.0L562.4 490.6L566.3 482.1L570.2 473.6L574.1 465.0L578.0 456.4L581.9 447.7L585.8 439.0L589.6 430.3L593.5 421.5L597.4 412.8L601.3 404.0L605.2 395.3L609.1 386.6L613.0 377.9L616.9 369.3L620.7 360.8L624.6 352.2L628.5 343.8L632.4 335.4L636.3 327.1L640.2 318.9L644.1 310.7L648.0 302.6L651.9 294.5L655.7 286.5L659.6 278.5L663.5 270.6L667.4 262.7L671.3 254.9L675.2 247.0L679.1 239.2L683.0 231.3L686.8 223.4L690.7 215.5L694.6 207.6L698.5 199.6L702.4 191.6L706.3 183.5L710.2 175.4L714.1 167.1L717.9 158.9L721.8 150.5L725.7 142.1L729.6 133.6L733.5 125.1L737.4 116.5L741.3 107.9" stroke="#f6a077"/>
<path d="M352.5 912.1L356.4 904.2L360.3 896.3L364.2 888.4L368.1 880.5L371.9 872.5L375.8 864.5L379.7 856.4L383.6 848.3L387.5 840.1L391.4 831.9L395.3 823.6L399.2 815.2L403.0 806.8L406.9 798.3L410.8 789.7L414.7 781.1L418.6 772.5L422.5 763.8L426.4 755.1L430.3 746.4L434.1 737.6L438.0 728.9L441.9 720.2L445.8 711.5L449.7 702.8L453.6 694.2L457.5 685.6L461.4 677.1L465.2 668.6L469.1 660.2L473.0 651.9L476.9 643.6L480.8 635.4L484.7 627.2L488.6 619.2L492.5 611.1L496.3 603.1L500.2 595.2L504.1 587.2L508.0 579.3L511.9 571.5L515.8 563.6L519.7 555.7L523.6 547.8L527.4 539.9L531.3 532.0L535.2 524.0L539.1 516.0L543.0 507.9L546.9 499.7L550.8 491.5L554.7 483.3L558.5 475.0L562.4 466.6L566.3 458.1L570.2 449.6L574.1 441.1L578.0 432.4L581.9 423.8L585.8 415.1L589.6 406.4L593.5 397.7L597.4 388.9L601.3 380.2L605.2 371.5L609.1 362.8L613.0 354.1L616.9 345.5L620.7 336.9L624.6 328.4L628.5 320.0L632.4 311.6L636.3 303.3L640.2 295.0L644.1 286.8L648.0 278.7L651.9 270.6L655.7 262.6L659.6 254.6L663.5 246.6L667.4 238.7L671.3 230.8L675.2 223.0L679.1 215.1L683.0 207.2L686.8 199.3L690.7 191.4L694.6 183.4L698.5 175.4L702.4 167.4L706.3 159.3L710.2 151.2L714.1 142.9L717.9 134.7L721.8 126.3L725.7 117.9L729.6 109.5" stroke="#f6a47c"/>
<path d="M352.5 888.4L356.4 880.5L360.3 872.6L364.2 864.6L368.1 856.7L371.9 848.7L375.8 840.7L379.7 832.6L383.6 824.5L387.5 816.3L391.4 808.1L395.3 799.8L399.2 791.5L403.0 783.0L406.9 774.6L410.8 766.0L414.7 757.5L418.6 748.8L422.5 740.2L426.4 731.5L430.3 722.8L434.1 714.1L438.0 705.4L441.9 696.7L445.8 688.0L449.7 679.3L453.6 670.7L457.5 662.1L461.4 653.6L465.2 645.1L469.1 636.7L473.0 628.4L476.9 620.1L480.8 611.9L484.7 603.7L488.6 595.6L492.5 587.5L496.3 579.5L500.2 571.6L504.1 563.6L508.0 555.7L511.9 547.8L515.8 539.9L519.7 532.0L523.6 524.1L527.4 516.2L531.3 508.2L535.2 500.2L539.1 492.2L543.0 484.1L546.9 476.0L550.8 467.8L554.7 459.6L558.5 451.3L562.4 442.9L566.3 434.5L570.2 426.0L574.1 417.4L578.0 408.8L581.9 400.2L585.8 391.5L589.6 382.9L593.5 374.1L597.4 365.4L601.3 356.7L605.2 348.0L609.1 339.3L613.0 330.7L616.9 322.1L620.7 313.5L624.6 305.0L628.5 296.6L632.4 288.2L636.3 279.8L640.2 271.6L644.1 263.4L648.0 255.2L651.9 247.1L655.7 239.1L659.6 231.1L663.5 223.1L667.4 215.2L671.3 207.3L675.2 199.4L679.1 191.5L683.0 183.6L686.8 175.7L690.7 167.7L694.6 159.8L698.5 151.8L702.4 143.7L706.3 135.6L710.2 127.5L714.1 119.3L717.9 111.0" stroke="#f6a981"/>
<path d="M352.5 864.6L356.4 856.7L360.3 848.8L364.2 840.9L368.1 832.9L371.9 824.9L375.8 816.9L379.7 808.9L383.6 800.8L387.5 792.6L391.4 784.4L395.3 776.1L399.2 767.8L403.0 759.4L406.9 750.9L410.8 742.4L414.7 733.9L418.6 725.3L422.5 716.6L426.4 708.0L430.3 699.3L434.1 690.6L438.0 681.9L441.9 673.2L445.8 664.6L449.7 655.9L453.6 647.3L457.5 638.8L461.4 630.2L465.2 621.8L469.1 613.4L473.0 605.0L476.9 596.7L480.8 588.5L484.7 580.3L488.6 572.2L492.5 564.1L496.3 556.1L500.2 548.1L504.1 540.2L508.0 532.2L511.9 524.3L515.8 516.4L519.7 508.5L523.6 500.6L527.4 492.7L531.3 484.7L535.2 476.8L539.1 468.7L543.0 460.7L546.9 452.5L550.8 444.4L554.7 436.1L558.5 427.9L562.4 419.5L566.3 411.1L570.2 402.6L574.1 394.1L578.0 385.6L581.9 376.9L585.8 368.3L589.6 359.6L593.5 351.0L597.4 342.3L601.3 333.6L605.2 324.9L609.1 316.2L613.0 307.6L616.9 299.0L620.7 290.5L624.6 282.0L628.5 273.5L632.4 265.1L636.3 256.8L640.2 248.5L644.1 240.3L648.0 232.1L651.9 224.0L655.7 215.9L659.6 207.9L663.5 200.0L667.4 192.0L671.3 184.1L675.2 176.2L679.1 168.3L683.0 160.4L686.8 152.5L690.7 144.5L694.6 136.6L698.5 128.6L702.4 120.5L706.3 112.5" stroke="#f6ae87"/>
<path d="M352.5 840.9L356.4 832.9L360.3 825.0L364.2 817.1L368.1 809.2L371.9 801.2L375.8 793.2L379.7 785.1L383.6 777.0L387.5 768.9L391.4 760.7L395.3 752.4L399.2 744.1L403.0 735.7L406.9 727.3L410.8 718.8L414.7 710.3L418.6 701.7L422.5 693.1L426.4 684.5L430.3 675.9L434.1 667.2L438.0 658.5L441.9 649.9L445.8 641.2L449.7 632.6L453.6 624.0L457.5 615.5L461.4 607.0L465.2 598.5L469.1 590.1L473.0 581.7L476.9 573.5L480.8 565.2L484.7 557.0L488.6 548.9L492.5 540.8L496.3 532.8L500.2 524.8L504.1 516.8L508.0 508.9L511.9 501.0L515.8 493.1L519.7 485.2L523.6 477.3L527.4 469.3L531.3 461.4L535.2 453.4L539.1 445.4L543.0 437.3L546.9 429.2L550.8 421.1L554.7 412.9L558.5 404.6L562.4 396.3L566.3 387.9L570.2 379.5L574.1 371.0L578.0 362.4L581.9 353.9L585.8 345.3L589.6 336.6L593.5 328.0L597.4 319.3L601.3 310.6L605.2 302.0L609.1 293.3L613.0 284.7L616.9 276.1L620.7 267.6L624.6 259.1L628.5 250.7L632.4 242.3L636.3 233.9L640.2 225.6L644.1 217.4L648.0 209.2L651.9 201.1L655.7 193.1L659.6 185.0L663.5 177.0L667.4 169.1L671.3 161.1L675.2 153.2L679.1 145.3L683.0 137.4L686.8 129.5L690.7 121.6L694.6 113.6" stroke="#f6b38d"/>
<path d="M352.5 817.1L356.4 809.2L360.3 801.3L364.2 793.3L368.1 785.4L371.9 777.4L375.8 769.4L379.7 761.4L383.6 753.3L387.5 745.2L391.4 737.0L395.3 728.7L399.2 720.4L403.0 712.1L406.9 703.7L410.8 695.2L414.7 686.7L418.6 678.2L422.5 669.6L426.4 661.0L430.3 652.4L434.1 643.8L438.0 635.1L441.9 626.5L445.8 617.9L449.7 609.3L453.6 600.7L457.5 592.2L461.4 583.7L465.2 575.2L469.1 566.8L473.0 558.5L476.9 550.2L480.8 541.9L484.7 533.8L488.6 525.6L492.5 517.5L496.3 509.5L500.2 501.5L504.1 493.5L508.0 485.6L511.9 477.7L515.8 469.7L519.7 461.8L523.6 453.9L527.4 446.0L531.3 438.0L535.2 430.1L539.1 422.1L543.0 414.0L546.9 405.9L550.8 397.8L554.7 389.6L558.5 381.3L562.4 373.0L566.3 364.7L570.2 356.3L574.1 347.8L578.0 339.3L581.9 330.8L585.8 322.2L589.6 313.6L593.5 305.0L597.4 296.3L601.3 287.7L605.2 279.1L609.1 270.4L613.0 261.8L616.9 253.3L620.7 244.7L624.6 236.2L628.5 227.8L632.4 219.4L636.3 211.1L640.2 202.8L644.1 194.6L648.0 186.4L651.9 178.2L655.7 170.2L659.6 162.1L663.5 154.1L667.4 146.2L671.3 138.2L675.2 130.3L679.1 122.4L683.0 114.5" stroke="#f6b893"/>
<path d="M352.5 792.1L356.4 784.2L360.3 776.3L364.2 768.4L368.1 760.5L371.9 752.5L375.8 744.5L379.7 736.5L383.6 728.4L387.5 720.3L391.4 712.1L395.3 703.9L399.2 695.7L403.0 687.3L406.9 679.0L410.8 670.5L414.7 662.1L418.6 653.6L422.5 645.0L426.4 636.5L430.3 627.9L434.1 619.3L438.0 610.7L441.9 602.1L445.8 593.5L449.7 584.9L453.6 576.4L457.5 567.9L461.4 559.4L465.2 551.0L469.1 542.6L473.0 534.3L476.9 526.0L480.8 517.8L484.7 509.6L488.6 501.5L492.5 493.4L496.3 485.4L500.2 477.4L504.1 469.5L508.0 461.5L511.9 453.6L515.8 445.7L519.7 437.8L523.6 429.9L527.4 422.0L531.3 414.1L535.2 406.1L539.1 398.1L543.0 390.1L546.9 382.0L550.8 373.9L554.7 365.8L558.5 357.5L562.4 349.3L566.3 341.0L570.2 332.6L574.1 324.2L578.0 315.7L581.9 307.2L585.8 298.7L589.6 290.1L593.5 281.5L597.4 272.9L601.3 264.3L605.2 255.7L609.1 247.1L613.0 238.6L616.9 230.0L620.7 221.5L624.6 213.0L628.5 204.6L632.4 196.2L636.3 187.9L640.2 179.6L644.1 171.4L648.0 163.2L651.9 155.1L655.7 147.1L659.6 139.0L663.5 131.0L667.4 123.1L671.3 115.1" stroke="#f6bc99"/>
<path d="M352.5 767.1L356.4 759.2L360.3 751.3L364.2 743.4L368.1 735.5L371.9 727.5L375.8 719.6L379.7 711.6L383.6 703.5L387.5 695.4L391.4 687.3L395.3 679.1L399.2 670.8L403.0 662.5L406.9 654.2L410.8 645.8L414.7 637.4L418.6 628.9L422.5 620.4L426.4 611.8L430.3 603.3L434.1 594.7L438.0 586.1L441.9 577.6L445.8 569.0L449.7 560.5L453.6 552.0L457.5 543.5L461.4 535.1L465.2 526.7L469.1 518.3L473.0 510.0L476.9 501.7L480.8 493.5L484.7 485.4L488.6 477.3L492.5 469.2L496.3 461.2L500.2 453.2L504.1 445.3L508.0 437.3L511.9 429.4L515.8 421.5L519.7 413.6L523.6 405.8L527.4 397.8L531.3 389.9L535.2 382.0L539.1 374.0L543.0 366.0L546.9 358.0L550.8 349.9L554.7 341.7L558.5 333.5L562.4 325.3L566.3 317.0L570.2 308.7L574.1 300.3L578.0 291.9L581.9 283.4L585.8 274.9L589.6 266.3L593.5 257.8L597.4 249.2L601.3 240.7L605.2 232.1L609.1 223.5L613.0 215.0L616.9 206.5L620.7 198.0L624.6 189.5L628.5 181.1L632.4 172.8L636.3 164.5L640.2 156.2L644.1 148.0L648.0 139.8L651.9 131.7L655.7 123.7L659.6 115.6" stroke="#f6c19f"/>
<path d="M352.5 742.1L356.4 734.2L360.3 726.3L364.2 718.4L368.1 710.5L371.9 702.6L375.8 694.6L379.7 686.6L383.6 678.5L387.5 670.5L391.4 662.3L395.3 654.2L399.2 645.9L403.0 637.6L406.9 629.3L410.8 621.0L414.7 612.5L418.6 604.1L422.5 595.6L426.4 587.1L430.3 578.6L434.1 570.0L438.0 561.5L441.9 553.0L445.8 544.4L449.7 535.9L453.6 527.4L457.5 519.0L461.4 510.6L465.2 502.2L469.1 493.8L473.0 485.5L476.9 477.3L480.8 469.1L484.7 461.0L488.6 452.9L492.5 444.8L496.3 436.8L500.2 428.8L504.1 420.9L508.0 413.0L511.9 405.0L515.8 397.2L519.7 389.3L523.6 381.4L527.4 373.5L531.3 365.6L535.2 357.6L539.1 349.7L543.0 341.7L546.9 333.6L550.8 325.6L554.7 317.4L558.5 309.3L562.4 301.1L566.3 292.8L570.2 284.5L574.1 276.1L578.0 267.7L581.9 259.3L585.8 250.8L589.6 242.3L593.5 233.8L597.4 225.2L601.3 216.7L605.2 208.1L609.1 199.6L613.0 191.1L616.9 182.6L620.7 174.1L624.6 165.7L628.5 157.3L632.4 149.0L636.3 140.7L640.2 132.4L644.1 124.2L648.0 116.1" stroke="#f7c6a6"/>
</g>
<path clip-path="url(#c0)" d="M352.5 717.6L652.5 82.2" fill="none" stroke="#3c3c3e" stroke-width="8.6" stroke-dasharray="30.8 12.2"/>
<g clip-path="url(#c1)" fill="none" stroke-width="9.3" stroke-linecap="butt" stroke-linejoin="round" shape-rendering="crispEdges">
<path d="M951.1 1222.7L953.2 1214.9L955.4 1207.0L957.5 1198.9L959.6 1190.8L961.7 1182.7L963.8 1174.6L965.9 1166.6L968.0 1158.8L970.1 1151.1L972.3 1143.6L974.4 1136.3L976.5 1129.2L978.6 1122.4L980.7 1115.9L982.8 1109.7L984.9 1103.8L987.0 1098.2L989.2 1092.9L991.3 1087.8L993.4 1083.1L995.5 1078.6L997.6 1074.4L999.7 1070.5L1001.8 1066.8L1003.9 1063.3L1006.1 1060.1L1008.2 1057.0L1010.3 1054.2L1012.4 1051.6L1014.5 1049.1L1016.6 1046.8L1018.7 1044.7L1020.8 1042.7L1023.0 1040.8L1025.1 1039.1L1027.2 1037.5L1029.3 1036.0L1031.4 1034.6L1033.5 1033.3L1035.6 1032.1L1037.7 1030.9L1039.9 1029.9L1042.0 1028.9L1044.1 1028.0L1046.2 1027.1L1048.3 1026.3L1050.4 1025.6L1052.5 1024.9L1054.6 1024.3L1056.8 1023.7L1058.9 1023.1L1061.0 1022.6L1063.1 1022.1L1065.2 1021.6L1067.3 1021.2L1069.4 1020.8L1071.5 1020.4L1073.7 1020.0L1075.8 1019.7L1077.9 1019.4L1080.0 1019.0L1082.1 1018.8L1084.2 1018.5L1086.3 1018.2L1088.4 1017.9L1090.6 1017.7L1092.7 1017.4L1094.8 1017.2L1096.9 1017.0L1099.0 1016.7L1101.1 1016.5L1103.2 1016.3L1105.3 1016.1L1107.5 1015.8L1109.6 1015.6L1111.7 1015.4L1113.8 1015.1L1115.9 1014.9L1118.0 1014.6L1120.1 1014.4L1122.2 1014.1L1124.4 1013.8L1126.5 1013.6L1128.6 1013.3L1130.7 1012.9L1132.8 1012.6L1134.9 1012.2L1137.0 1011.9L1139.1 1011.5L1141.3 1011.0L1143.4 1010.6L1145.5 1010.1L1147.6 1009.6L1149.7 1009.1L1151.8 1008.5L1153.9 1007.9L1156.0 1007.2L1158.2 1006.5L1160.3 1005.7L1162.4 1004.9L1164.5 1004.1L1166.6 1003.2L1168.7 1002.2L1170.8 1001.1L1172.9 1000.0L1175.1 998.8L1177.2 997.5L1179.3 996.1L1181.4 994.6L1183.5 993.0L1185.6 991.3L1187.7 989.5L1189.8 987.5L1192.0 985.4L1194.1 983.2L1196.2 980.8L1198.3 978.2L1200.4 975.5L1202.5 972.6L1204.6 969.5L1206.7 966.1L1208.9 962.6L1211.0 958.8L1213.1 954.8L1215.2 950.6L1217.3 946.1L1219.4 941.3L1221.5 936.3L1223.6 931.0L1225.8 925.5L1227.9 919.6L1230.0 913.5L1232.1 907.1L1234.2 900.5L1236.3 893.6L1238.4 886.6L1240.5 879.3L1242.7 871.9L1244.8 864.3L1246.9 856.6L1249.0 848.9L1251.1 841.1L1253.2 833.4L1255.3 825.7L1257.4 818.0L1259.6 810.5L1261.7 803.2L1263.8 796.0L1265.9 789.0L1268.0 782.3L1270.1 775.8L1272.2 769.6L1274.3 763.6L1276.5 757.9L1278.6 752.5L1280.7 747.3L1282.8 742.4L1284.9 737.8L1287.0 733.5L1289.1 729.3L1291.2 725.5L1293.4 721.8L1295.5 718.4L1297.6 715.2L1299.7 712.2L1301.8 709.4L1303.9 706.7L1306.0 704.3L1308.1 702.0L1310.3 699.8L1312.4 697.8L1314.5 695.9L1316.6 694.1L1318.7 692.5L1320.8 691.0L1322.9 689.5L1325.0 688.2L1327.2 686.9L1329.3 685.8L1331.4 684.7L1333.5 683.7L1335.6 682.7L1337.7 681.9L1339.8 681.0L1341.9 680.3L1344.1 679.5L1346.2 678.9L1348.3 678.2L1350.4 677.7L1352.5 677.1L1354.6 676.6L1356.7 676.1L1358.8 675.7L1361.0 675.3L1363.1 674.9L1365.2 674.5L1367.3 674.2L1369.4 673.9L1371.5 673.6L1373.6 673.3" stroke="#251433"/>
<path d="M942.7 1224.7L944.8 1217.9L946.9 1210.8L949.0 1203.6L951.1 1196.1L953.2 1188.6L955.4 1180.9L957.5 1173.2L959.6 1165.4L961.7 1157.6L963.8 1149.8L965.9 1142.1L968.0 1134.5L970.1 1127.1L972.3 1119.8L974.4 1112.7L976.5 1105.8L978.6 1099.2L980.7 1092.8L982.8 1086.6L984.9 1080.7L987.0 1075.1L989.2 1069.7L991.3 1064.6L993.4 1059.8L995.5 1055.2L997.6 1050.9L999.7 1046.8L1001.8 1042.9L1003.9 1039.2L1006.1 1035.7L1008.2 1032.4L1010.3 1029.3L1012.4 1026.4L1014.5 1023.6L1016.6 1021.0L1018.7 1018.5L1020.8 1016.1L1023.0 1013.8L1025.1 1011.7L1027.2 1009.6L1029.3 1007.7L1031.4 1005.8L1033.5 1003.9L1035.6 1002.2L1037.7 1000.5L1039.9 998.8L1042.0 997.1L1044.1 995.5L1046.2 993.9L1048.3 992.4L1050.4 990.8L1052.5 989.2L1054.6 987.6L1056.8 986.0L1058.9 984.4L1061.0 982.7L1063.1 981.0L1065.2 979.3L1067.3 977.5L1069.4 975.6L1071.5 973.6L1073.7 971.6L1075.8 969.4L1077.9 967.2L1080.0 964.9L1082.1 962.4L1084.2 959.8L1086.3 957.0L1088.4 954.1L1090.6 951.1L1092.7 947.8L1094.8 944.4L1096.9 940.8L1099.0 936.9L1101.1 932.9L1103.2 928.6L1105.3 924.0L1107.5 919.3L1109.6 914.2L1111.7 908.9L1113.8 903.4L1115.9 897.5L1118.0 891.5L1120.1 885.1L1122.2 878.5L1124.4 871.7L1126.5 864.6L1128.6 857.4L1130.7 850.0L1132.8 842.4L1134.9 834.7L1137.0 827.0L1139.1 819.2L1141.3 811.4L1143.4 803.6L1145.5 795.9L1147.6 788.3L1149.7 780.9L1151.8 773.6L1153.9 766.5L1156.0 759.6L1158.2 752.9L1160.3 746.5L1162.4 740.4L1164.5 734.5L1166.6 728.8L1168.7 723.5L1170.8 718.4L1172.9 713.5L1175.1 708.9L1177.2 704.6L1179.3 700.4L1181.4 696.5L1183.5 692.9L1185.6 689.4L1187.7 686.1L1189.8 683.0L1192.0 680.0L1194.1 677.2L1196.2 674.6L1198.3 672.1L1200.4 669.7L1202.5 667.4L1204.6 665.3L1206.7 663.2L1208.9 661.2L1211.0 659.3L1213.1 657.5L1215.2 655.7L1217.3 654.0L1219.4 652.4L1221.5 650.7L1223.6 649.1L1225.8 647.5L1227.9 645.9L1230.0 644.4L1232.1 642.8L1234.2 641.2L1236.3 639.6L1238.4 638.0L1240.5 636.3L1242.7 634.6L1244.8 632.8L1246.9 631.0L1249.0 629.2L1251.1 627.2L1253.2 625.2L1255.3 623.0L1257.4 620.8L1259.6 618.5L1261.7 616.0L1263.8 613.4L1265.9 610.7L1268.0 607.8L1270.1 604.7L1272.2 601.5L1274.3 598.1L1276.5 594.4L1278.6 590.6L1280.7 586.6L1282.8 582.3L1284.9 577.8L1287.0 573.0L1289.1 568.0L1291.2 562.7L1293.4 557.1L1295.5 551.3L1297.6 545.2L1299.7 538.9L1301.8 532.3L1303.9 525.5L1306.0 518.5L1308.1 511.2L1310.3 503.8L1312.4 496.3L1314.5 488.6L1316.6 480.8L1318.7 473.0L1320.8 465.2L1322.9 457.5L1325.0 449.8L1327.2 442.2L1329.3 434.7L1331.4 427.4L1333.5 420.3L1335.6 413.4L1337.7 406.7L1339.8 400.3L1341.9 394.1L1344.1 388.2L1346.2 382.6L1348.3 377.2L1350.4 372.1L1352.5 367.2L1354.6 362.6L1356.7 358.2L1358.8 354.1L1361.0 350.2L1363.1 346.5L1365.2 343.0L1367.3 339.7L1369.4 336.6L1371.5 333.6L1373.6 330.9" stroke="#33183c"/>
<path d="M934.2 1226.7L936.3 1221.0L938.5 1214.9L940.6 1208.6L942.7 1202.1L944.8 1195.3L946.9 1188.3L949.0 1181.1L951.1 1173.7L953.2 1166.1L955.4 1158.4L957.5 1150.6L959.6 1142.8L961.7 1135.0L963.8 1127.2L965.9 1119.4L968.0 1111.8L970.1 1104.2L972.3 1096.9L974.4 1089.7L976.5 1082.7L978.6 1076.0L980.7 1069.5L982.8 1063.2L984.9 1057.2L987.0 1051.5L989.2 1046.1L991.3 1040.9L993.4 1036.0L995.5 1031.3L997.6 1026.9L999.7 1022.7L1001.8 1018.8L1003.9 1015.0L1006.1 1011.5L1008.2 1008.2L1010.3 1005.0L1012.4 1002.0L1014.5 999.2L1016.6 996.5L1018.7 994.0L1020.8 991.6L1023.0 989.3L1025.1 987.2L1027.2 985.1L1029.3 983.1L1031.4 981.2L1033.5 979.4L1035.6 977.6L1037.7 975.9L1039.9 974.2L1042.0 972.6L1044.1 971.0L1046.2 969.4L1048.3 967.8L1050.4 966.3L1052.5 964.7L1054.6 963.1L1056.8 961.6L1058.9 959.9L1061.0 958.3L1063.1 956.6L1065.2 954.9L1067.3 953.1L1069.4 951.3L1071.5 949.4L1073.7 947.4L1075.8 945.3L1077.9 943.1L1080.0 940.8L1082.1 938.4L1084.2 935.8L1086.3 933.1L1088.4 930.3L1090.6 927.3L1092.7 924.1L1094.8 920.7L1096.9 917.2L1099.0 913.4L1101.1 909.4L1103.2 905.2L1105.3 900.7L1107.5 896.0L1109.6 891.1L1111.7 885.8L1113.8 880.3L1115.9 874.6L1118.0 868.6L1120.1 862.3L1122.2 855.7L1124.4 848.9L1126.5 841.9L1128.6 834.7L1130.7 827.3L1132.8 819.8L1134.9 812.1L1137.0 804.3L1139.1 796.5L1141.3 788.7L1143.4 780.8L1145.5 773.1L1147.6 765.4L1149.7 757.9L1151.8 750.5L1153.9 743.3L1156.0 736.3L1158.2 729.6L1160.3 723.1L1162.4 716.8L1164.5 710.9L1166.6 705.1L1168.7 699.7L1170.8 694.5L1172.9 689.6L1175.1 684.9L1177.2 680.5L1179.3 676.3L1181.4 672.3L1183.5 668.6L1185.6 665.1L1187.7 661.7L1189.8 658.6L1192.0 655.6L1194.1 652.8L1196.2 650.1L1198.3 647.6L1200.4 645.2L1202.5 642.9L1204.6 640.7L1206.7 638.6L1208.9 636.7L1211.0 634.7L1213.1 632.9L1215.2 631.1L1217.3 629.4L1219.4 627.7L1221.5 626.1L1223.6 624.5L1225.8 622.9L1227.9 621.4L1230.0 619.8L1232.1 618.2L1234.2 616.7L1236.3 615.1L1238.4 613.5L1240.5 611.8L1242.7 610.2L1244.8 608.4L1246.9 606.7L1249.0 604.8L1251.1 602.9L1253.2 600.9L1255.3 598.8L1257.4 596.6L1259.6 594.3L1261.7 591.9L1263.8 589.4L1265.9 586.7L1268.0 583.8L1270.1 580.8L1272.2 577.7L1274.3 574.3L1276.5 570.7L1278.6 567.0L1280.7 563.0L1282.8 558.8L1284.9 554.3L1287.0 549.6L1289.1 544.7L1291.2 539.4L1293.4 534.0L1295.5 528.2L1297.6 522.2L1299.7 515.9L1301.8 509.4L1303.9 502.6L1306.0 495.6L1308.1 488.4L1310.3 481.0L1312.4 473.4L1314.5 465.7L1316.6 458.0L1318.7 450.2L1320.8 442.3L1322.9 434.5L1325.0 426.7L1327.2 419.1L1329.3 411.5L1331.4 404.2L1333.5 397.0L1335.6 390.0L1337.7 383.2L1339.8 376.7L1341.9 370.5L1344.1 364.5L1346.2 358.8L1348.3 353.3L1350.4 348.1L1352.5 343.2L1354.6 338.5L1356.7 334.1L1358.8 329.9L1361.0 325.9L1363.1 322.2L1365.2 318.6L1367.3 315.3L1369.4 312.1L1371.5 309.2L1373.6 306.3" stroke="#37193f"/>
<path d="M936.3 1225.7L938.5 1220.3L940.6 1214.6L942.7 1208.6L944.8 1202.1L946.9 1195.2L949.0 1187.9L951.1 1180.2L953.2 1172.1L955.4 1163.7L957.5 1154.9L959.6 1145.9L961.7 1136.7L963.8 1127.3L965.9 1117.8L968.0 1108.3L970.1 1098.9L972.3 1089.6L974.4 1080.4L976.5 1071.5L978.6 1062.9L980.7 1054.6L982.8 1046.6L984.9 1039.1L987.0 1031.9L989.2 1025.2L991.3 1018.9L993.4 1012.9L995.5 1007.4L997.6 1002.2L999.7 997.4L1001.8 993.0L1003.9 988.9L1006.1 985.1L1008.2 981.5L1010.3 978.3L1012.4 975.3L1014.5 972.5L1016.6 970.0L1018.7 967.6L1020.8 965.5L1023.0 963.5L1025.1 961.7L1027.2 960.0L1029.3 958.5L1031.4 957.1L1033.5 955.8L1035.6 954.6L1037.7 953.5L1039.9 952.5L1042.0 951.5L1044.1 950.7L1046.2 949.9L1048.3 949.2L1050.4 948.5L1052.5 947.9L1054.6 947.3L1056.8 946.8L1058.9 946.3L1061.0 945.9L1063.1 945.5L1065.2 945.1L1067.3 944.7L1069.4 944.4L1071.5 944.1L1073.7 943.8L1075.8 943.6L1077.9 943.3L1080.0 943.1L1082.1 942.9L1084.2 942.7L1086.3 942.5L1088.4 942.3L1090.6 942.1L1092.7 941.9L1094.8 941.7L1096.9 941.6L1099.0 941.4L1101.1 941.2L1103.2 941.1L1105.3 940.9L1107.5 940.8L1109.6 940.6L1111.7 940.4L1113.8 940.3L1115.9 940.1L1118.0 939.9L1120.1 939.7L1122.2 939.5L1124.4 939.3L1126.5 939.1L1128.6 938.8L1130.7 938.6L1132.8 938.3L1134.9 938.0L1137.0 937.7L1139.1 937.4L1141.3 937.1L1143.4 936.7L1145.5 936.3L1147.6 935.9L1149.7 935.4L1151.8 935.0L1153.9 934.4L1156.0 933.9L1158.2 933.3L1160.3 932.6L1162.4 931.9L1164.5 931.2L1166.6 930.4L1168.7 929.5L1170.8 928.6L1172.9 927.5L1175.1 926.5L1177.2 925.3L1179.3 924.0L1181.4 922.7L1183.5 921.2L1185.6 919.6L1187.7 917.9L1189.8 916.1L1192.0 914.1L1194.1 912.0L1196.2 909.7L1198.3 907.3L1200.4 904.7L1202.5 901.8L1204.6 898.8L1206.7 895.6L1208.9 892.1L1211.0 888.4L1213.1 884.4L1215.2 880.2L1217.3 875.7L1219.4 870.8L1221.5 865.7L1223.6 860.3L1225.8 854.6L1227.9 848.5L1230.0 842.2L1232.1 835.5L1234.2 828.6L1236.3 821.3L1238.4 813.8L1240.5 806.1L1242.7 798.2L1244.8 790.1L1246.9 781.9L1249.0 773.7L1251.1 765.3L1253.2 757.1L1255.3 748.8L1257.4 740.7L1259.6 732.7L1261.7 724.9L1263.8 717.4L1265.9 710.1L1268.0 703.0L1270.1 696.3L1272.2 689.8L1274.3 683.6L1276.5 677.8L1278.6 672.3L1280.7 667.1L1282.8 662.2L1284.9 657.6L1287.0 653.2L1289.1 649.2L1291.2 645.4L1293.4 641.8L1295.5 638.5L1297.6 635.4L1299.7 632.5L1301.8 629.8L1303.9 627.3L1306.0 625.0L1308.1 622.8L1310.3 620.8L1312.4 618.9L1314.5 617.2L1316.6 615.6L1318.7 614.1L1320.8 612.7L1322.9 611.4L1325.0 610.2L1327.2 609.1L1329.3 608.0L1331.4 607.1L1333.5 606.2L1335.6 605.4L1337.7 604.6L1339.8 603.9L1341.9 603.2L1344.1 602.6L1346.2 602.0L1348.3 601.5L1350.4 601.0L1352.5 600.5L1354.6 600.1L1356.7 599.7L1358.8 599.3L1361.0 599.0L1363.1 598.7L1365.2 598.4L1367.3 598.1L1369.4 597.8L1371.5 597.6L1373.6 597.4" stroke="#3c1a42"/>
<path d="M915.2 1224.4L917.3 1221.2L919.4 1217.8L921.6 1214.3L923.7 1210.5L925.8 1206.5L927.9 1202.3L930.0 1197.8L932.1 1193.1L934.2 1188.1L936.3 1182.9L938.5 1177.3L940.6 1171.5L942.7 1165.5L944.8 1159.2L946.9 1152.6L949.0 1145.7L951.1 1138.6L953.2 1131.4L955.4 1123.9L957.5 1116.3L959.6 1108.5L961.7 1100.7L963.8 1092.8L965.9 1084.8L968.0 1076.9L970.1 1069.1L972.3 1061.4L974.4 1053.8L976.5 1046.3L978.6 1039.1L980.7 1032.1L982.8 1025.3L984.9 1018.8L987.0 1012.5L989.2 1006.5L991.3 1000.7L993.4 995.3L995.5 990.1L997.6 985.2L999.7 980.5L1001.8 976.1L1003.9 971.9L1006.1 968.0L1008.2 964.2L1010.3 960.7L1012.4 957.4L1014.5 954.3L1016.6 951.3L1018.7 948.5L1020.8 945.8L1023.0 943.3L1025.1 940.9L1027.2 938.7L1029.3 936.5L1031.4 934.5L1033.5 932.5L1035.6 930.6L1037.7 928.8L1039.9 927.0L1042.0 925.3L1044.1 923.6L1046.2 922.0L1048.3 920.4L1050.4 918.8L1052.5 917.2L1054.6 915.6L1056.8 914.1L1058.9 912.5L1061.0 910.9L1063.1 909.2L1065.2 907.6L1067.3 905.8L1069.4 904.1L1071.5 902.3L1073.7 900.4L1075.8 898.4L1077.9 896.3L1080.0 894.2L1082.1 891.9L1084.2 889.5L1086.3 887.0L1088.4 884.4L1090.6 881.6L1092.7 878.6L1094.8 875.5L1096.9 872.2L1099.0 868.6L1101.1 864.9L1103.2 861.0L1105.3 856.8L1107.5 852.4L1109.6 847.7L1111.7 842.8L1113.8 837.6L1115.9 832.2L1118.0 826.4L1120.1 820.4L1122.2 814.2L1124.4 807.6L1126.5 800.9L1128.6 793.8L1130.7 786.6L1132.8 779.2L1134.9 771.6L1137.0 763.8L1139.1 756.0L1141.3 748.1L1143.4 740.2L1145.5 732.3L1147.6 724.5L1149.7 716.7L1151.8 709.1L1153.9 701.6L1156.0 694.3L1158.2 687.2L1160.3 680.4L1162.4 673.8L1164.5 667.4L1166.6 661.4L1168.7 655.6L1170.8 650.0L1172.9 644.8L1175.1 639.8L1177.2 635.1L1179.3 630.6L1181.4 626.4L1183.5 622.4L1185.6 618.6L1187.7 615.0L1189.8 611.7L1192.0 608.5L1194.1 605.5L1196.2 602.6L1198.3 599.9L1200.4 597.4L1202.5 595.0L1204.6 592.7L1206.7 590.5L1208.9 588.4L1211.0 586.4L1213.1 584.5L1215.2 582.7L1217.3 580.9L1219.4 579.2L1221.5 577.5L1223.6 575.9L1225.8 574.2L1227.9 572.6L1230.0 571.1L1232.1 569.5L1234.2 567.9L1236.3 566.3L1238.4 564.7L1240.5 563.1L1242.7 561.5L1244.8 559.8L1246.9 558.0L1249.0 556.2L1251.1 554.3L1253.2 552.4L1255.3 550.3L1257.4 548.2L1259.6 546.0L1261.7 543.6L1263.8 541.1L1265.9 538.5L1268.0 535.7L1270.1 532.8L1272.2 529.7L1274.3 526.5L1276.5 523.0L1278.6 519.3L1280.7 515.4L1282.8 511.3L1284.9 507.0L1287.0 502.4L1289.1 497.5L1291.2 492.4L1293.4 487.0L1295.5 481.3L1297.6 475.4L1299.7 469.2L1301.8 462.7L1303.9 456.0L1306.0 449.0L1308.1 441.8L1310.3 434.4L1312.4 426.9L1314.5 419.2L1316.6 411.4L1318.7 403.5L1320.8 395.6L1322.9 387.7L1325.0 379.8L1327.2 372.0L1329.3 364.3L1331.4 356.8L1333.5 349.5L1335.6 342.4L1337.7 335.5L1339.8 328.8L1341.9 322.4L1344.1 316.3L1346.2 310.4L1348.3 304.8L1350.4 299.5L1352.5 294.5L1354.6 289.7L1356.7 285.1L1358.8 280.8L1361.0 276.8L1363.1 273.0L1365.2 269.3L1367.3 265.9L1369.4 262.7L1371.5 259.7L1373.6 256.8" stroke="#401b44"/>
<path d="M911.0 1212.7L913.1 1210.3L915.2 1207.7L917.3 1205.0L919.4 1202.1L921.6 1199.0L923.7 1195.8L925.8 1192.4L927.9 1188.7L930.0 1184.9L932.1 1180.8L934.2 1176.5L936.3 1172.0L938.5 1167.2L940.6 1162.1L942.7 1156.7L944.8 1151.1L946.9 1145.2L949.0 1139.1L951.1 1132.6L953.2 1125.9L955.4 1119.0L957.5 1111.8L959.6 1104.4L961.7 1096.9L963.8 1089.2L965.9 1081.3L968.0 1073.4L970.1 1065.5L972.3 1057.5L974.4 1049.6L976.5 1041.7L978.6 1034.0L980.7 1026.4L982.8 1019.0L984.9 1011.8L987.0 1004.8L989.2 998.0L991.3 991.6L993.4 985.3L995.5 979.4L997.6 973.7L999.7 968.3L1001.8 963.2L1003.9 958.3L1006.1 953.7L1008.2 949.4L1010.3 945.2L1012.4 941.4L1014.5 937.7L1016.6 934.2L1018.7 930.9L1020.8 927.9L1023.0 924.9L1025.1 922.2L1027.2 919.5L1029.3 917.1L1031.4 914.7L1033.5 912.4L1035.6 910.3L1037.7 908.2L1039.9 906.3L1042.0 904.4L1044.1 902.5L1046.2 900.8L1048.3 899.0L1050.4 897.3L1052.5 895.7L1054.6 894.0L1056.8 892.4L1058.9 890.8L1061.0 889.2L1063.1 887.5L1065.2 885.9L1067.3 884.2L1069.4 882.5L1071.5 880.7L1073.7 878.9L1075.8 877.0L1077.9 875.0L1080.0 873.0L1082.1 870.9L1084.2 868.7L1086.3 866.3L1088.4 863.9L1090.6 861.3L1092.7 858.6L1094.8 855.7L1096.9 852.6L1099.0 849.4L1101.1 846.0L1103.2 842.4L1105.3 838.5L1107.5 834.5L1109.6 830.2L1111.7 825.6L1113.8 820.8L1115.9 815.8L1118.0 810.4L1120.1 804.8L1122.2 799.0L1124.4 792.8L1126.5 786.4L1128.6 779.7L1130.7 772.8L1132.8 765.6L1134.9 758.2L1137.0 750.7L1139.1 743.0L1141.3 735.1L1143.4 727.2L1145.5 719.3L1147.6 711.3L1149.7 703.4L1151.8 695.5L1153.9 687.8L1156.0 680.2L1158.2 672.8L1160.3 665.6L1162.4 658.6L1164.5 651.8L1166.6 645.3L1168.7 639.1L1170.8 633.1L1172.9 627.4L1175.1 622.0L1177.2 616.9L1179.3 612.0L1181.4 607.4L1183.5 603.0L1185.6 598.9L1187.7 595.0L1189.8 591.3L1192.0 587.8L1194.1 584.6L1196.2 581.5L1198.3 578.5L1200.4 575.8L1202.5 573.1L1204.6 570.6L1206.7 568.3L1208.9 566.0L1211.0 563.9L1213.1 561.8L1215.2 559.8L1217.3 557.9L1219.4 556.1L1221.5 554.3L1223.6 552.6L1225.8 550.9L1227.9 549.2L1230.0 547.6L1232.1 546.0L1234.2 544.4L1236.3 542.7L1238.4 541.1L1240.5 539.4L1242.7 537.7L1244.8 536.0L1246.9 534.3L1249.0 532.4L1251.1 530.6L1253.2 528.6L1255.3 526.6L1257.4 524.5L1259.6 522.3L1261.7 519.9L1263.8 517.5L1265.9 514.9L1268.0 512.2L1270.1 509.3L1272.2 506.3L1274.3 503.0L1276.5 499.6L1278.6 496.0L1280.7 492.2L1282.8 488.1L1284.9 483.8L1287.0 479.3L1289.1 474.5L1291.2 469.5L1293.4 464.2L1295.5 458.6L1297.6 452.7L1299.7 446.5L1301.8 440.1L1303.9 433.5L1306.0 426.5L1308.1 419.4L1310.3 412.0L1312.4 404.5L1314.5 396.8L1316.6 388.9L1318.7 381.0L1320.8 373.1L1322.9 365.1L1325.0 357.2L1327.2 349.3L1329.3 341.6L1331.4 334.0L1333.5 326.6L1335.6 319.3L1337.7 312.3L1339.8 305.6L1341.9 299.0L1344.1 292.8L1346.2 286.8L1348.3 281.1L1350.4 275.7L1352.5 270.6L1354.6 265.7L1356.7 261.1L1358.8 256.7L1361.0 252.5L1363.1 248.6L1365.2 245.0L1367.3 241.5L1369.4 238.2L1371.5 235.1L1373.6 232.1" stroke="#451c47"/>
<path d="M911.0 1189.9L913.1 1187.4L915.2 1184.8L917.3 1182.1L919.4 1179.3L921.6 1176.3L923.7 1173.2L925.8 1169.9L927.9 1166.5L930.0 1162.9L932.1 1159.1L934.2 1155.1L936.3 1150.9L938.5 1146.5L940.6 1141.8L942.7 1137.0L944.8 1131.9L946.9 1126.6L949.0 1121.0L951.1 1115.3L953.2 1109.2L955.4 1103.0L957.5 1096.5L959.6 1089.9L961.7 1083.0L963.8 1076.0L965.9 1068.9L968.0 1061.6L970.1 1054.3L972.3 1046.8L974.4 1039.4L976.5 1031.9L978.6 1024.5L980.7 1017.2L982.8 1009.9L984.9 1002.8L987.0 995.8L989.2 988.9L991.3 982.3L993.4 975.8L995.5 969.6L997.6 963.6L999.7 957.9L1001.8 952.3L1003.9 947.0L1006.1 942.0L1008.2 937.1L1010.3 932.5L1012.4 928.1L1014.5 923.9L1016.6 920.0L1018.7 916.2L1020.8 912.6L1023.0 909.2L1025.1 905.9L1027.2 902.8L1029.3 899.8L1031.4 897.0L1033.5 894.3L1035.6 891.7L1037.7 889.2L1039.9 886.8L1042.0 884.5L1044.1 882.3L1046.2 880.1L1048.3 878.0L1050.4 876.0L1052.5 874.0L1054.6 872.0L1056.8 870.0L1058.9 868.1L1061.0 866.1L1063.1 864.2L1065.2 862.3L1067.3 860.3L1069.4 858.3L1071.5 856.3L1073.7 854.2L1075.8 852.1L1077.9 849.9L1080.0 847.7L1082.1 845.3L1084.2 842.9L1086.3 840.4L1088.4 837.8L1090.6 835.1L1092.7 832.2L1094.8 829.2L1096.9 826.1L1099.0 822.8L1101.1 819.3L1103.2 815.7L1105.3 811.8L1107.5 807.8L1109.6 803.6L1111.7 799.1L1113.8 794.4L1115.9 789.5L1118.0 784.4L1120.1 779.1L1122.2 773.5L1124.4 767.6L1126.5 761.6L1128.6 755.3L1130.7 748.8L1132.8 742.1L1134.9 735.2L1137.0 728.2L1139.1 721.0L1141.3 713.7L1143.4 706.4L1145.5 698.9L1147.6 691.5L1149.7 684.0L1151.8 676.6L1153.9 669.3L1156.0 662.0L1158.2 654.9L1160.3 648.0L1162.4 641.2L1164.5 634.6L1166.6 628.2L1168.7 622.0L1170.8 616.0L1172.9 610.3L1175.1 604.8L1177.2 599.5L1179.3 594.5L1181.4 589.7L1183.5 585.2L1185.6 580.8L1187.7 576.7L1189.8 572.7L1192.0 569.0L1194.1 565.4L1196.2 562.0L1198.3 558.8L1200.4 555.7L1202.5 552.8L1204.6 550.0L1206.7 547.3L1208.9 544.7L1211.0 542.3L1213.1 539.9L1215.2 537.6L1217.3 535.4L1219.4 533.2L1221.5 531.1L1223.6 529.1L1225.8 527.1L1227.9 525.1L1230.0 523.2L1232.1 521.2L1234.2 519.3L1236.3 517.3L1238.4 515.4L1240.5 513.4L1242.7 511.4L1244.8 509.4L1246.9 507.3L1249.0 505.2L1251.1 503.0L1253.2 500.7L1255.3 498.4L1257.4 496.0L1259.6 493.4L1261.7 490.8L1263.8 488.0L1265.9 485.2L1268.0 482.1L1270.1 479.0L1272.2 475.6L1274.3 472.1L1276.5 468.4L1278.6 464.6L1280.7 460.5L1282.8 456.2L1284.9 451.7L1287.0 447.0L1289.1 442.1L1291.2 436.9L1293.4 431.5L1295.5 425.9L1297.6 420.0L1299.7 413.9L1301.8 407.6L1303.9 401.1L1306.0 394.3L1308.1 387.4L1310.3 380.4L1312.4 373.2L1314.5 365.8L1316.6 358.5L1318.7 351.0L1320.8 343.6L1322.9 336.1L1325.0 328.7L1327.2 321.4L1329.3 314.2L1331.4 307.1L1333.5 300.2L1335.6 293.4L1337.7 286.8L1339.8 280.5L1341.9 274.3L1344.1 268.4L1346.2 262.7L1348.3 257.3L1350.4 252.1L1352.5 247.1L1354.6 242.4L1356.7 237.8L1358.8 233.5L1361.0 229.4L1363.1 225.5L1365.2 221.8L1367.3 218.3L1369.4 214.9L1371.5 211.7L1373.6 208.7" stroke="#511e4d"/>
<path d="M911.0 1164.7L913.1 1162.7L915.2 1160.5L917.3 1158.1L919.4 1155.6L921.6 1152.8L923.7 1149.8L925.8 1146.6L927.9 1143.2L930.0 1139.5L932.1 1135.5L934.2 1131.2L936.3 1126.6L938.5 1121.7L940.6 1116.5L942.7 1110.9L944.8 1104.9L946.9 1098.6L949.0 1092.0L951.1 1085.0L953.2 1077.6L955.4 1069.9L957.5 1061.9L959.6 1053.6L961.7 1045.1L963.8 1036.4L965.9 1027.6L968.0 1018.7L970.1 1009.7L972.3 1000.8L974.4 992.0L976.5 983.3L978.6 974.8L980.7 966.5L982.8 958.5L984.9 950.8L987.0 943.4L989.2 936.4L991.3 929.7L993.4 923.4L995.5 917.4L997.6 911.8L999.7 906.5L1001.8 901.5L1003.9 896.9L1006.1 892.6L1008.2 888.6L1010.3 884.8L1012.4 881.3L1014.5 878.0L1016.6 875.0L1018.7 872.2L1020.8 869.5L1023.0 867.1L1025.1 864.8L1027.2 862.7L1029.3 860.7L1031.4 858.8L1033.5 857.1L1035.6 855.5L1037.7 854.0L1039.9 852.5L1042.0 851.2L1044.1 849.9L1046.2 848.7L1048.3 847.6L1050.4 846.5L1052.5 845.5L1054.6 844.5L1056.8 843.5L1058.9 842.6L1061.0 841.7L1063.1 840.8L1065.2 840.0L1067.3 839.1L1069.4 838.3L1071.5 837.4L1073.7 836.6L1075.8 835.8L1077.9 835.0L1080.0 834.1L1082.1 833.3L1084.2 832.4L1086.3 831.5L1088.4 830.6L1090.6 829.6L1092.7 828.7L1094.8 827.7L1096.9 826.6L1099.0 825.5L1101.1 824.4L1103.2 823.2L1105.3 822.0L1107.5 820.7L1109.6 819.3L1111.7 817.9L1113.8 816.4L1115.9 814.9L1118.0 813.2L1120.1 811.5L1122.2 809.7L1124.4 807.8L1126.5 805.7L1128.6 803.6L1130.7 801.4L1132.8 799.1L1134.9 796.6L1137.0 794.0L1139.1 791.3L1141.3 788.4L1143.4 785.4L1145.5 782.2L1147.6 778.9L1149.7 775.4L1151.8 771.8L1153.9 768.0L1156.0 764.0L1158.2 759.8L1160.3 755.5L1162.4 750.9L1164.5 746.2L1166.6 741.4L1168.7 736.3L1170.8 731.1L1172.9 725.7L1175.1 720.1L1177.2 714.4L1179.3 708.6L1181.4 702.6L1183.5 696.5L1185.6 690.4L1187.7 684.1L1189.8 677.8L1192.0 671.5L1194.1 665.1L1196.2 658.7L1198.3 652.4L1200.4 646.1L1202.5 639.8L1204.6 633.6L1206.7 627.5L1208.9 621.6L1211.0 615.7L1213.1 610.0L1215.2 604.4L1217.3 599.0L1219.4 593.7L1221.5 588.6L1223.6 583.7L1225.8 578.9L1227.9 574.3L1230.0 569.9L1232.1 565.6L1234.2 561.5L1236.3 557.6L1238.4 553.8L1240.5 550.2L1242.7 546.7L1244.8 543.4L1246.9 540.2L1249.0 537.1L1251.1 534.1L1253.2 531.3L1255.3 528.6L1257.4 526.0L1259.6 523.5L1261.7 521.0L1263.8 518.7L1265.9 516.4L1268.0 514.3L1270.1 512.1L1272.2 510.1L1274.3 508.1L1276.5 506.2L1278.6 504.3L1280.7 502.4L1282.8 500.6L1284.9 498.8L1287.0 497.0L1289.1 495.3L1291.2 493.6L1293.4 491.9L1295.5 490.2L1297.6 488.5L1299.7 486.8L1301.8 485.1L1303.9 483.4L1306.0 481.7L1308.1 480.0L1310.3 478.2L1312.4 476.4L1314.5 474.6L1316.6 472.8L1318.7 470.9L1320.8 469.0L1322.9 467.0L1325.0 465.0L1327.2 462.9L1329.3 460.8L1331.4 458.6L1333.5 456.3L1335.6 454.0L1337.7 451.6L1339.8 449.1L1341.9 446.5L1344.1 443.9L1346.2 441.1L1348.3 438.3L1350.4 435.3L1352.5 432.3L1354.6 429.1L1356.7 425.9L1358.8 422.5L1361.0 419.1L1363.1 415.5L1365.2 411.8L1367.3 408.0L1369.4 404.0L1371.5 400.0L1373.6 395.8" stroke="#561e4f"/>
<path d="M911.0 1141.2L913.1 1138.6L915.2 1136.0L917.3 1133.2L919.4 1130.4L921.6 1127.4L923.7 1124.3L925.8 1121.0L927.9 1117.7L930.0 1114.1L932.1 1110.4L934.2 1106.5L936.3 1102.5L938.5 1098.2L940.6 1093.8L942.7 1089.1L944.8 1084.3L946.9 1079.2L949.0 1073.9L951.1 1068.5L953.2 1062.8L955.4 1056.9L957.5 1050.8L959.6 1044.5L961.7 1038.0L963.8 1031.4L965.9 1024.6L968.0 1017.7L970.1 1010.7L972.3 1003.6L974.4 996.5L976.5 989.3L978.6 982.2L980.7 975.0L982.8 968.0L984.9 961.0L987.0 954.1L989.2 947.3L991.3 940.7L993.4 934.2L995.5 928.0L997.6 921.9L999.7 916.0L1001.8 910.3L1003.9 904.9L1006.1 899.6L1008.2 894.6L1010.3 889.7L1012.4 885.1L1014.5 880.7L1016.6 876.5L1018.7 872.4L1020.8 868.6L1023.0 864.9L1025.1 861.3L1027.2 858.0L1029.3 854.7L1031.4 851.6L1033.5 848.7L1035.6 845.8L1037.7 843.1L1039.9 840.5L1042.0 837.9L1044.1 835.4L1046.2 833.0L1048.3 830.7L1050.4 828.4L1052.5 826.2L1054.6 824.0L1056.8 821.8L1058.9 819.7L1061.0 817.5L1063.1 815.4L1065.2 813.3L1067.3 811.1L1069.4 809.0L1071.5 806.8L1073.7 804.5L1075.8 802.3L1077.9 799.9L1080.0 797.5L1082.1 795.1L1084.2 792.5L1086.3 789.9L1088.4 787.1L1090.6 784.3L1092.7 781.4L1094.8 778.3L1096.9 775.0L1099.0 771.7L1101.1 768.2L1103.2 764.5L1105.3 760.6L1107.5 756.6L1109.6 752.4L1111.7 748.0L1113.8 743.4L1115.9 738.5L1118.0 733.5L1120.1 728.3L1122.2 722.8L1124.4 717.2L1126.5 711.3L1128.6 705.2L1130.7 699.0L1132.8 692.5L1134.9 685.9L1137.0 679.2L1139.1 672.3L1141.3 665.3L1143.4 658.2L1145.5 651.1L1147.6 643.9L1149.7 636.8L1151.8 629.6L1153.9 622.5L1156.0 615.5L1158.2 608.6L1160.3 601.8L1162.4 595.2L1164.5 588.7L1166.6 582.4L1168.7 576.3L1170.8 570.4L1172.9 564.7L1175.1 559.2L1177.2 553.9L1179.3 548.8L1181.4 544.0L1183.5 539.3L1185.6 534.9L1187.7 530.6L1189.8 526.5L1192.0 522.6L1194.1 518.9L1196.2 515.4L1198.3 512.0L1200.4 508.7L1202.5 505.6L1204.6 502.6L1206.7 499.8L1208.9 497.0L1211.0 494.4L1213.1 491.8L1215.2 489.3L1217.3 486.9L1219.4 484.6L1221.5 482.3L1223.6 480.0L1225.8 477.8L1227.9 475.7L1230.0 473.5L1232.1 471.4L1234.2 469.2L1236.3 467.1L1238.4 465.0L1240.5 462.8L1242.7 460.6L1244.8 458.4L1246.9 456.1L1249.0 453.8L1251.1 451.4L1253.2 448.9L1255.3 446.4L1257.4 443.8L1259.6 441.1L1261.7 438.3L1263.8 435.3L1265.9 432.3L1268.0 429.1L1270.1 425.7L1272.2 422.2L1274.3 418.6L1276.5 414.7L1278.6 410.7L1280.7 406.6L1282.8 402.2L1284.9 397.6L1287.0 392.8L1289.1 387.8L1291.2 382.6L1293.4 377.2L1295.5 371.6L1297.6 365.7L1299.7 359.7L1301.8 353.5L1303.9 347.0L1306.0 340.5L1308.1 333.7L1310.3 326.9L1312.4 319.9L1314.5 312.8L1316.6 305.7L1318.7 298.5L1320.8 291.4L1322.9 284.2L1325.0 277.1L1327.2 270.1L1329.3 263.2L1331.4 256.4L1333.5 249.7L1335.6 243.2L1337.7 236.9L1339.8 230.8L1341.9 224.8L1344.1 219.1L1346.2 213.5L1348.3 208.2L1350.4 203.1L1352.5 198.2L1354.6 193.5L1356.7 189.0L1358.8 184.7L1361.0 180.6L1363.1 176.7L1365.2 173.0L1367.3 169.4L1369.4 166.0L1371.5 162.7L1373.6 159.6" stroke="#5b1e51"/>
<path d="M911.0 1116.9L913.1 1114.3L915.2 1111.6L917.3 1108.8L919.4 1105.9L921.6 1102.9L923.7 1099.7L925.8 1096.5L927.9 1093.1L930.0 1089.5L932.1 1085.9L934.2 1082.0L936.3 1078.0L938.5 1073.8L940.6 1069.4L942.7 1064.8L944.8 1060.0L946.9 1055.0L949.0 1049.9L951.1 1044.5L953.2 1038.9L955.4 1033.1L957.5 1027.2L959.6 1021.0L961.7 1014.7L963.8 1008.2L965.9 1001.6L968.0 994.9L970.1 988.0L972.3 981.1L974.4 974.1L976.5 967.1L978.6 960.0L980.7 953.0L982.8 946.0L984.9 939.1L987.0 932.3L989.2 925.6L991.3 919.0L993.4 912.6L995.5 906.3L997.6 900.2L999.7 894.3L1001.8 888.6L1003.9 883.1L1006.1 877.8L1008.2 872.7L1010.3 867.8L1012.4 863.0L1014.5 858.5L1016.6 854.2L1018.7 850.0L1020.8 846.1L1023.0 842.3L1025.1 838.6L1027.2 835.1L1029.3 831.8L1031.4 828.6L1033.5 825.5L1035.6 822.5L1037.7 819.6L1039.9 816.9L1042.0 814.2L1044.1 811.6L1046.2 809.1L1048.3 806.6L1050.4 804.2L1052.5 801.9L1054.6 799.5L1056.8 797.3L1058.9 795.0L1061.0 792.7L1063.1 790.5L1065.2 788.2L1067.3 786.0L1069.4 783.7L1071.5 781.4L1073.7 779.0L1075.8 776.6L1077.9 774.2L1080.0 771.7L1082.1 769.1L1084.2 766.4L1086.3 763.7L1088.4 760.8L1090.6 757.9L1092.7 754.8L1094.8 751.6L1096.9 748.3L1099.0 744.8L1101.1 741.2L1103.2 737.5L1105.3 733.5L1107.5 729.4L1109.6 725.1L1111.7 720.6L1113.8 715.9L1115.9 711.1L1118.0 706.0L1120.1 700.7L1122.2 695.2L1124.4 689.5L1126.5 683.7L1128.6 677.6L1130.7 671.4L1132.8 665.0L1134.9 658.4L1137.0 651.8L1139.1 645.0L1141.3 638.1L1143.4 631.1L1145.5 624.1L1147.6 617.0L1149.7 610.0L1151.8 603.0L1153.9 596.1L1156.0 589.2L1158.2 582.4L1160.3 575.8L1162.4 569.3L1164.5 562.9L1166.6 556.8L1168.7 550.8L1170.8 544.9L1172.9 539.3L1175.1 533.9L1177.2 528.7L1179.3 523.7L1181.4 518.9L1183.5 514.3L1185.6 509.8L1187.7 505.6L1189.8 501.5L1192.0 497.6L1194.1 493.9L1196.2 490.4L1198.3 486.9L1200.4 483.7L1202.5 480.5L1204.6 477.5L1206.7 474.6L1208.9 471.7L1211.0 469.0L1213.1 466.4L1215.2 463.8L1217.3 461.3L1219.4 458.9L1221.5 456.5L1223.6 454.2L1225.8 451.9L1227.9 449.6L1230.0 447.4L1232.1 445.1L1234.2 442.9L1236.3 440.6L1238.4 438.3L1240.5 436.0L1242.7 433.7L1244.8 431.3L1246.9 428.9L1249.0 426.4L1251.1 423.9L1253.2 421.3L1255.3 418.6L1257.4 415.8L1259.6 412.9L1261.7 409.9L1263.8 406.7L1265.9 403.5L1268.0 400.1L1270.1 396.6L1272.2 392.9L1274.3 389.0L1276.5 385.0L1278.6 380.8L1280.7 376.4L1282.8 371.8L1284.9 367.0L1287.0 362.1L1289.1 356.9L1291.2 351.5L1293.4 345.9L1295.5 340.1L1297.6 334.2L1299.7 328.0L1301.8 321.7L1303.9 315.2L1306.0 308.6L1308.1 301.9L1310.3 295.0L1312.4 288.1L1314.5 281.1L1316.6 274.1L1318.7 267.0L1320.8 260.0L1322.9 253.0L1325.0 246.1L1327.2 239.3L1329.3 232.6L1331.4 226.0L1333.5 219.6L1335.6 213.3L1337.7 207.2L1339.8 201.3L1341.9 195.6L1344.1 190.1L1346.2 184.8L1348.3 179.7L1350.4 174.8L1352.5 170.1L1354.6 165.5L1356.7 161.2L1358.8 157.0L1361.0 153.1L1363.1 149.3L1365.2 145.6L1367.3 142.1L1369.4 138.8L1371.5 135.6L1373.6 132.5" stroke="#601f52"/>
<path d="M911.0 1092.5L913.1 1089.9L915.2 1087.1L917.3 1084.3L919.4 1081.4L921.6 1078.4L923.7 1075.2L925.8 1072.0L927.9 1068.6L930.0 1065.1L932.1 1061.4L934.2 1057.6L936.3 1053.6L938.5 1049.5L940.6 1045.1L942.7 1040.6L944.8 1035.9L946.9 1031.0L949.0 1026.0L951.1 1020.7L953.2 1015.2L955.4 1009.6L957.5 1003.8L959.6 997.8L961.7 991.6L963.8 985.3L965.9 978.8L968.0 972.2L970.1 965.5L972.3 958.8L974.4 951.9L976.5 945.0L978.6 938.1L980.7 931.2L982.8 924.3L984.9 917.5L987.0 910.8L989.2 904.1L991.3 897.6L993.4 891.2L995.5 884.9L997.6 878.8L999.7 872.9L1001.8 867.2L1003.9 861.6L1006.1 856.2L1008.2 851.0L1010.3 846.1L1012.4 841.3L1014.5 836.7L1016.6 832.2L1018.7 828.0L1020.8 823.9L1023.0 820.0L1025.1 816.2L1027.2 812.6L1029.3 809.2L1031.4 805.8L1033.5 802.6L1035.6 799.6L1037.7 796.6L1039.9 793.7L1042.0 790.9L1044.1 788.2L1046.2 785.6L1048.3 783.0L1050.4 780.5L1052.5 778.1L1054.6 775.7L1056.8 773.3L1058.9 770.9L1061.0 768.6L1063.1 766.2L1065.2 763.9L1067.3 761.5L1069.4 759.2L1071.5 756.8L1073.7 754.4L1075.8 751.9L1077.9 749.4L1080.0 746.8L1082.1 744.2L1084.2 741.5L1086.3 738.7L1088.4 735.8L1090.6 732.8L1092.7 729.7L1094.8 726.5L1096.9 723.1L1099.0 719.6L1101.1 716.0L1103.2 712.2L1105.3 708.3L1107.5 704.2L1109.6 699.9L1111.7 695.5L1113.8 690.8L1115.9 686.0L1118.0 681.0L1120.1 675.8L1122.2 670.4L1124.4 664.8L1126.5 659.0L1128.6 653.0L1130.7 646.9L1132.8 640.6L1134.9 634.2L1137.0 627.7L1139.1 621.0L1141.3 614.2L1143.4 607.4L1145.5 600.5L1147.6 593.6L1149.7 586.7L1151.8 579.8L1153.9 573.0L1156.0 566.2L1158.2 559.6L1160.3 553.0L1162.4 546.5L1164.5 540.2L1166.6 534.1L1168.7 528.1L1170.8 522.3L1172.9 516.7L1175.1 511.3L1177.2 506.0L1179.3 501.0L1181.4 496.1L1183.5 491.5L1185.6 487.0L1187.7 482.7L1189.8 478.6L1192.0 474.6L1194.1 470.8L1196.2 467.2L1198.3 463.7L1200.4 460.3L1202.5 457.1L1204.6 453.9L1206.7 450.9L1208.9 448.0L1211.0 445.2L1213.1 442.5L1215.2 439.9L1217.3 437.3L1219.4 434.8L1221.5 432.3L1223.6 429.9L1225.8 427.5L1227.9 425.1L1230.0 422.7L1232.1 420.4L1234.2 418.1L1236.3 415.7L1238.4 413.4L1240.5 411.0L1242.7 408.6L1244.8 406.1L1246.9 403.6L1249.0 401.1L1251.1 398.5L1253.2 395.8L1255.3 393.0L1257.4 390.1L1259.6 387.2L1261.7 384.1L1263.8 380.9L1265.9 377.6L1268.0 374.2L1270.1 370.6L1272.2 366.8L1274.3 363.0L1276.5 358.9L1278.6 354.7L1280.7 350.3L1282.8 345.7L1284.9 340.9L1287.0 336.0L1289.1 330.8L1291.2 325.5L1293.4 319.9L1295.5 314.2L1297.6 308.3L1299.7 302.2L1301.8 296.0L1303.9 289.6L1306.0 283.1L1308.1 276.5L1310.3 269.7L1312.4 262.9L1314.5 256.1L1316.6 249.2L1318.7 242.2L1320.8 235.4L1322.9 228.5L1325.0 221.7L1327.2 215.0L1329.3 208.4L1331.4 201.9L1333.5 195.6L1335.6 189.4L1337.7 183.4L1339.8 177.5L1341.9 171.8L1344.1 166.3L1346.2 161.1L1348.3 156.0L1350.4 151.0L1352.5 146.3L1354.6 141.8L1356.7 137.4L1358.8 133.3L1361.0 129.3L1363.1 125.4L1365.2 121.7L1367.3 118.2L1369.4 114.8" stroke="#641f54"/>
<path d="M911.0 1066.0L913.1 1064.6L915.2 1063.0L917.3 1061.4L919.4 1059.6L921.6 1057.8L923.7 1055.8L925.8 1053.7L927.9 1051.5L930.0 1049.2L932.1 1046.7L934.2 1044.1L936.3 1041.3L938.5 1038.4L940.6 1035.3L942.7 1032.1L944.8 1028.6L946.9 1025.0L949.0 1021.2L951.1 1017.1L953.2 1012.9L955.4 1008.5L957.5 1003.8L959.6 998.9L961.7 993.9L963.8 988.6L965.9 983.1L968.0 977.4L970.1 971.5L972.3 965.4L974.4 959.1L976.5 952.7L978.6 946.1L980.7 939.4L982.8 932.6L984.9 925.8L987.0 918.8L989.2 911.9L991.3 904.9L993.4 898.0L995.5 891.1L997.6 884.3L999.7 877.6L1001.8 871.0L1003.9 864.5L1006.1 858.2L1008.2 852.1L1010.3 846.2L1012.4 840.4L1014.5 834.8L1016.6 829.5L1018.7 824.3L1020.8 819.3L1023.0 814.6L1025.1 810.0L1027.2 805.6L1029.3 801.5L1031.4 797.5L1033.5 793.7L1035.6 790.0L1037.7 786.6L1039.9 783.2L1042.0 780.1L1044.1 777.1L1046.2 774.2L1048.3 771.4L1050.4 768.7L1052.5 766.2L1054.6 763.7L1056.8 761.4L1058.9 759.1L1061.0 757.0L1063.1 754.9L1065.2 752.8L1067.3 750.8L1069.4 748.9L1071.5 747.0L1073.7 745.2L1075.8 743.4L1077.9 741.6L1080.0 739.9L1082.1 738.1L1084.2 736.4L1086.3 734.7L1088.4 733.0L1090.6 731.3L1092.7 729.6L1094.8 727.9L1096.9 726.2L1099.0 724.5L1101.1 722.7L1103.2 720.9L1105.3 719.1L1107.5 717.2L1109.6 715.3L1111.7 713.3L1113.8 711.3L1115.9 709.3L1118.0 707.1L1120.1 705.0L1122.2 702.7L1124.4 700.4L1126.5 698.0L1128.6 695.5L1130.7 692.9L1132.8 690.2L1134.9 687.5L1137.0 684.6L1139.1 681.7L1141.3 678.6L1143.4 675.5L1145.5 672.2L1147.6 668.8L1149.7 665.3L1151.8 661.6L1153.9 657.9L1156.0 654.0L1158.2 650.0L1160.3 645.9L1162.4 641.6L1164.5 637.2L1166.6 632.8L1168.7 628.1L1170.8 623.4L1172.9 618.6L1175.1 613.7L1177.2 608.7L1179.3 603.6L1181.4 598.4L1183.5 593.1L1185.6 587.8L1187.7 582.5L1189.8 577.1L1192.0 571.6L1194.1 566.2L1196.2 560.8L1198.3 555.3L1200.4 549.9L1202.5 544.5L1204.6 539.2L1206.7 533.9L1208.9 528.7L1211.0 523.5L1213.1 518.5L1215.2 513.5L1217.3 508.6L1219.4 503.8L1221.5 499.1L1223.6 494.6L1225.8 490.1L1227.9 485.8L1230.0 481.5L1232.1 477.4L1234.2 473.4L1236.3 469.5L1238.4 465.8L1240.5 462.1L1242.7 458.5L1244.8 455.1L1246.9 451.8L1249.0 448.5L1251.1 445.4L1253.2 442.4L1255.3 439.4L1257.4 436.5L1259.6 433.8L1261.7 431.0L1263.8 428.4L1265.9 425.9L1268.0 423.4L1270.1 420.9L1272.2 418.5L1274.3 416.2L1276.5 413.9L1278.6 411.7L1280.7 409.5L1282.8 407.3L1284.9 405.1L1287.0 403.0L1289.1 400.9L1291.2 398.8L1293.4 396.8L1295.5 394.7L1297.6 392.7L1299.7 390.6L1301.8 388.5L1303.9 386.5L1306.0 384.4L1308.1 382.3L1310.3 380.2L1312.4 378.0L1314.5 375.9L1316.6 373.6L1318.7 371.4L1320.8 369.1L1322.9 366.8L1325.0 364.4L1327.2 362.0L1329.3 359.5L1331.4 356.9L1333.5 354.3L1335.6 351.6L1337.7 348.8L1339.8 346.0L1341.9 343.0L1344.1 340.0L1346.2 336.9L1348.3 333.7L1350.4 330.4L1352.5 327.0L1354.6 323.5L1356.7 320.0L1358.8 316.3L1361.0 312.5L1363.1 308.6L1365.2 304.6L1367.3 300.4L1369.4 296.2L1371.5 291.9L1373.6 287.5" stroke="#691f55"/>
<path d="M911.0 1044.0L913.1 1041.2L915.2 1038.3L917.3 1035.4L919.4 1032.4L921.6 1029.3L923.7 1026.2L925.8 1022.9L927.9 1019.4L930.0 1015.9L932.1 1012.2L934.2 1008.4L936.3 1004.5L938.5 1000.4L940.6 996.1L942.7 991.7L944.8 987.1L946.9 982.4L949.0 977.5L951.1 972.4L953.2 967.1L955.4 961.7L957.5 956.0L959.6 950.3L961.7 944.4L963.8 938.3L965.9 932.1L968.0 925.8L970.1 919.3L972.3 912.8L974.4 906.2L976.5 899.6L978.6 892.9L980.7 886.2L982.8 879.6L984.9 872.9L987.0 866.3L989.2 859.8L991.3 853.4L993.4 847.1L995.5 840.9L997.6 834.8L999.7 828.9L1001.8 823.1L1003.9 817.5L1006.1 812.1L1008.2 806.8L1010.3 801.7L1012.4 796.8L1014.5 792.0L1016.6 787.5L1018.7 783.0L1020.8 778.8L1023.0 774.7L1025.1 770.8L1027.2 767.0L1029.3 763.3L1031.4 759.8L1033.5 756.4L1035.6 753.1L1037.7 749.9L1039.9 746.8L1042.0 743.8L1044.1 740.9L1046.2 738.0L1048.3 735.3L1050.4 732.6L1052.5 729.9L1054.6 727.3L1056.8 724.7L1058.9 722.1L1061.0 719.6L1063.1 717.0L1065.2 714.5L1067.3 712.0L1069.4 709.4L1071.5 706.8L1073.7 704.2L1075.8 701.6L1077.9 698.9L1080.0 696.2L1082.1 693.4L1084.2 690.5L1086.3 687.5L1088.4 684.5L1090.6 681.4L1092.7 678.1L1094.8 674.8L1096.9 671.3L1099.0 667.7L1101.1 664.0L1103.2 660.1L1105.3 656.1L1107.5 651.9L1109.6 647.6L1111.7 643.1L1113.8 638.4L1115.9 633.6L1118.0 628.6L1120.1 623.4L1122.2 618.1L1124.4 612.5L1126.5 606.8L1128.6 601.0L1130.7 595.0L1132.8 588.9L1134.9 582.6L1137.0 576.2L1139.1 569.8L1141.3 563.2L1143.4 556.6L1145.5 549.9L1147.6 543.3L1149.7 536.6L1151.8 529.9L1153.9 523.3L1156.0 516.7L1158.2 510.3L1160.3 503.9L1162.4 497.6L1164.5 491.5L1166.6 485.5L1168.7 479.6L1170.8 473.9L1172.9 468.4L1175.1 463.1L1177.2 457.9L1179.3 452.9L1181.4 448.0L1183.5 443.4L1185.6 438.9L1187.7 434.5L1189.8 430.3L1192.0 426.3L1194.1 422.5L1196.2 418.7L1198.3 415.1L1200.4 411.6L1202.5 408.3L1204.6 405.1L1206.7 401.9L1208.9 398.9L1211.0 395.9L1213.1 393.0L1215.2 390.2L1217.3 387.5L1219.4 384.8L1221.5 382.2L1223.6 379.5L1225.8 377.0L1227.9 374.4L1230.0 371.9L1232.1 369.3L1234.2 366.8L1236.3 364.3L1238.4 361.7L1240.5 359.1L1242.7 356.5L1244.8 353.8L1246.9 351.1L1249.0 348.3L1251.1 345.5L1253.2 342.6L1255.3 339.6L1257.4 336.5L1259.6 333.3L1261.7 330.0L1263.8 326.6L1265.9 323.1L1268.0 319.5L1270.1 315.7L1272.2 311.7L1274.3 307.6L1276.5 303.4L1278.6 299.0L1280.7 294.4L1282.8 289.7L1284.9 284.8L1287.0 279.7L1289.1 274.4L1291.2 269.0L1293.4 263.4L1295.5 257.6L1297.6 251.7L1299.7 245.6L1301.8 239.4L1303.9 233.1L1306.0 226.7L1308.1 220.2L1310.3 213.6L1312.4 207.0L1314.5 200.3L1316.6 193.6L1318.7 186.9L1320.8 180.3L1322.9 173.7L1325.0 167.2L1327.2 160.8L1329.3 154.4L1331.4 148.2L1333.5 142.1L1335.6 136.2L1337.7 130.4L1339.8 124.8L1341.9 119.4L1344.1 114.1" stroke="#6e1f57"/>
<path d="M911.0 1019.7L913.1 1016.8L915.2 1013.9L917.3 1011.0L919.4 1007.9L921.6 1004.8L923.7 1001.6L925.8 998.3L927.9 994.8L930.0 991.3L932.1 987.6L934.2 983.8L936.3 979.9L938.5 975.8L940.6 971.5L942.7 967.2L944.8 962.6L946.9 957.9L949.0 953.0L951.1 948.0L953.2 942.8L955.4 937.4L957.5 931.9L959.6 926.2L961.7 920.4L963.8 914.5L965.9 908.4L968.0 902.2L970.1 895.9L972.3 889.4L974.4 883.0L976.5 876.4L978.6 869.9L980.7 863.3L982.8 856.7L984.9 850.2L987.0 843.7L989.2 837.2L991.3 830.9L993.4 824.6L995.5 818.4L997.6 812.4L999.7 806.5L1001.8 800.7L1003.9 795.1L1006.1 789.7L1008.2 784.4L1010.3 779.2L1012.4 774.3L1014.5 769.5L1016.6 764.8L1018.7 760.3L1020.8 756.0L1023.0 751.8L1025.1 747.8L1027.2 743.9L1029.3 740.2L1031.4 736.6L1033.5 733.1L1035.6 729.7L1037.7 726.4L1039.9 723.2L1042.0 720.1L1044.1 717.1L1046.2 714.2L1048.3 711.3L1050.4 708.5L1052.5 705.7L1054.6 703.0L1056.8 700.3L1058.9 697.6L1061.0 695.0L1063.1 692.4L1065.2 689.7L1067.3 687.1L1069.4 684.5L1071.5 681.8L1073.7 679.1L1075.8 676.4L1077.9 673.6L1080.0 670.8L1082.1 667.9L1084.2 664.9L1086.3 661.9L1088.4 658.8L1090.6 655.5L1092.7 652.2L1094.8 648.8L1096.9 645.3L1099.0 641.6L1101.1 637.8L1103.2 633.9L1105.3 629.9L1107.5 625.6L1109.6 621.3L1111.7 616.8L1113.8 612.1L1115.9 607.2L1118.0 602.2L1120.1 597.0L1122.2 591.7L1124.4 586.2L1126.5 580.6L1128.6 574.8L1130.7 568.8L1132.8 562.7L1134.9 556.5L1137.0 550.2L1139.1 543.9L1141.3 537.4L1143.4 530.9L1145.5 524.3L1147.6 517.7L1149.7 511.2L1151.8 504.6L1153.9 498.1L1156.0 491.6L1158.2 485.3L1160.3 479.0L1162.4 472.8L1164.5 466.7L1166.6 460.8L1168.7 455.0L1170.8 449.4L1172.9 443.9L1175.1 438.6L1177.2 433.4L1179.3 428.5L1181.4 423.6L1183.5 419.0L1185.6 414.5L1187.7 410.1L1189.8 405.9L1192.0 401.9L1194.1 398.0L1196.2 394.2L1198.3 390.6L1200.4 387.1L1202.5 383.6L1204.6 380.4L1206.7 377.2L1208.9 374.0L1211.0 371.0L1213.1 368.1L1215.2 365.2L1217.3 362.4L1219.4 359.6L1221.5 356.9L1223.6 354.2L1225.8 351.5L1227.9 348.9L1230.0 346.2L1232.1 343.6L1234.2 341.0L1236.3 338.3L1238.4 335.7L1240.5 333.0L1242.7 330.2L1244.8 327.5L1246.9 324.7L1249.0 321.8L1251.1 318.8L1253.2 315.8L1255.3 312.7L1257.4 309.5L1259.6 306.2L1261.7 302.8L1263.8 299.3L1265.9 295.6L1268.0 291.9L1270.1 288.0L1272.2 283.9L1274.3 279.7L1276.5 275.4L1278.6 270.9L1280.7 266.2L1282.8 261.4L1284.9 256.4L1287.0 251.3L1289.1 246.0L1291.2 240.5L1293.4 234.9L1295.5 229.1L1297.6 223.2L1299.7 217.1L1301.8 210.9L1303.9 204.6L1306.0 198.3L1308.1 191.8L1310.3 185.3L1312.4 178.7L1314.5 172.2L1316.6 165.6L1318.7 159.0L1320.8 152.5L1322.9 146.0L1325.0 139.7L1327.2 133.4L1329.3 127.2L1331.4 121.1L1333.5 115.1" stroke="#731f58"/>
<path d="M911.0 995.4L913.1 992.5L915.2 989.6L917.3 986.5L919.4 983.4L921.6 980.3L923.7 977.0L925.8 973.6L927.9 970.2L930.0 966.6L932.1 962.9L934.2 959.1L936.3 955.1L938.5 951.1L940.6 946.8L942.7 942.5L944.8 937.9L946.9 933.3L949.0 928.5L951.1 923.5L953.2 918.3L955.4 913.0L957.5 907.6L959.6 902.0L961.7 896.3L963.8 890.4L965.9 884.4L968.0 878.3L970.1 872.1L972.3 865.8L974.4 859.4L976.5 853.0L978.6 846.5L980.7 840.1L982.8 833.6L984.9 827.1L987.0 820.7L989.2 814.3L991.3 808.0L993.4 801.8L995.5 795.7L997.6 789.7L999.7 783.8L1001.8 778.0L1003.9 772.4L1006.1 766.9L1008.2 761.6L1010.3 756.5L1012.4 751.5L1014.5 746.6L1016.6 741.9L1018.7 737.4L1020.8 733.0L1023.0 728.8L1025.1 724.7L1027.2 720.7L1029.3 716.9L1031.4 713.2L1033.5 709.6L1035.6 706.1L1037.7 702.7L1039.9 699.5L1042.0 696.3L1044.1 693.2L1046.2 690.1L1048.3 687.2L1050.4 684.2L1052.5 681.4L1054.6 678.6L1056.8 675.8L1058.9 673.0L1061.0 670.3L1063.1 667.5L1065.2 664.8L1067.3 662.1L1069.4 659.3L1071.5 656.6L1073.7 653.8L1075.8 650.9L1077.9 648.1L1080.0 645.1L1082.1 642.2L1084.2 639.1L1086.3 636.0L1088.4 632.8L1090.6 629.5L1092.7 626.1L1094.8 622.6L1096.9 619.0L1099.0 615.3L1101.1 611.4L1103.2 607.4L1105.3 603.3L1107.5 599.0L1109.6 594.6L1111.7 590.1L1113.8 585.4L1115.9 580.5L1118.0 575.5L1120.1 570.3L1122.2 564.9L1124.4 559.4L1126.5 553.8L1128.6 548.0L1130.7 542.1L1132.8 536.1L1134.9 530.0L1137.0 523.7L1139.1 517.4L1141.3 511.0L1143.4 504.6L1145.5 498.1L1147.6 491.6L1149.7 485.2L1151.8 478.7L1153.9 472.3L1156.0 465.9L1158.2 459.6L1160.3 453.5L1162.4 447.4L1164.5 441.4L1166.6 435.5L1168.7 429.8L1170.8 424.3L1172.9 418.8L1175.1 413.6L1177.2 408.5L1179.3 403.5L1181.4 398.7L1183.5 394.1L1185.6 389.6L1187.7 385.2L1189.8 381.0L1192.0 377.0L1194.1 373.1L1196.2 369.3L1198.3 365.6L1200.4 362.0L1202.5 358.6L1204.6 355.2L1206.7 352.0L1208.9 348.8L1211.0 345.7L1213.1 342.7L1215.2 339.8L1217.3 336.9L1219.4 334.0L1221.5 331.2L1223.6 328.4L1225.8 325.7L1227.9 322.9L1230.0 320.2L1232.1 317.5L1234.2 314.8L1236.3 312.0L1238.4 309.2L1240.5 306.4L1242.7 303.6L1244.8 300.7L1246.9 297.8L1249.0 294.8L1251.1 291.7L1253.2 288.5L1255.3 285.3L1257.4 282.0L1259.6 278.6L1261.7 275.0L1263.8 271.4L1265.9 267.6L1268.0 263.7L1270.1 259.7L1272.2 255.6L1274.3 251.2L1276.5 246.8L1278.6 242.2L1280.7 237.4L1282.8 232.5L1284.9 227.4L1287.0 222.2L1289.1 216.8L1291.2 211.3L1293.4 205.6L1295.5 199.8L1297.6 193.8L1299.7 187.8L1301.8 181.6L1303.9 175.3L1306.0 169.0L1308.1 162.6L1310.3 156.2L1312.4 149.7L1314.5 143.2L1316.6 136.7L1318.7 130.3L1320.8 123.9L1322.9 117.5L1325.0 111.3" stroke="#781f59"/>
<path d="M911.0 971.2L913.1 968.2L915.2 965.2L917.3 962.1L919.4 958.9L921.6 955.7L923.7 952.4L925.8 949.0L927.9 945.5L930.0 941.9L932.1 938.2L934.2 934.4L936.3 930.4L938.5 926.3L940.6 922.1L942.7 917.8L944.8 913.3L946.9 908.6L949.0 903.8L951.1 898.9L953.2 893.8L955.4 888.6L957.5 883.2L959.6 877.7L961.7 872.0L963.8 866.3L965.9 860.4L968.0 854.3L970.1 848.2L972.3 842.0L974.4 835.8L976.5 829.4L978.6 823.1L980.7 816.7L982.8 810.3L984.9 803.9L987.0 797.6L989.2 791.3L991.3 785.0L993.4 778.9L995.5 772.8L997.6 766.8L999.7 761.0L1001.8 755.2L1003.9 749.6L1006.1 744.1L1008.2 738.8L1010.3 733.6L1012.4 728.6L1014.5 723.7L1016.6 719.0L1018.7 714.4L1020.8 710.0L1023.0 705.7L1025.1 701.5L1027.2 697.5L1029.3 693.6L1031.4 689.8L1033.5 686.1L1035.6 682.5L1037.7 679.1L1039.9 675.7L1042.0 672.4L1044.1 669.2L1046.2 666.1L1048.3 663.0L1050.4 660.0L1052.5 657.1L1054.6 654.2L1056.8 651.3L1058.9 648.4L1061.0 645.6L1063.1 642.8L1065.2 639.9L1067.3 637.1L1069.4 634.3L1071.5 631.4L1073.7 628.5L1075.8 625.6L1077.9 622.7L1080.0 619.7L1082.1 616.6L1084.2 613.5L1086.3 610.3L1088.4 607.0L1090.6 603.6L1092.7 600.2L1094.8 596.6L1096.9 592.9L1099.0 589.1L1101.1 585.2L1103.2 581.2L1105.3 577.0L1107.5 572.7L1109.6 568.3L1111.7 563.7L1113.8 558.9L1115.9 554.0L1118.0 549.0L1120.1 543.8L1122.2 538.5L1124.4 533.0L1126.5 527.4L1128.6 521.7L1130.7 515.8L1132.8 509.8L1134.9 503.7L1137.0 497.6L1139.1 491.3L1141.3 485.0L1143.4 478.7L1145.5 472.3L1147.6 465.9L1149.7 459.5L1151.8 453.2L1153.9 446.8L1156.0 440.6L1158.2 434.4L1160.3 428.3L1162.4 422.3L1164.5 416.4L1166.6 410.6L1168.7 404.9L1170.8 399.4L1172.9 394.0L1175.1 388.8L1177.2 383.7L1179.3 378.8L1181.4 374.0L1183.5 369.4L1185.6 364.9L1187.7 360.6L1189.8 356.3L1192.0 352.3L1194.1 348.3L1196.2 344.5L1198.3 340.8L1200.4 337.2L1202.5 333.7L1204.6 330.3L1206.7 327.0L1208.9 323.8L1211.0 320.6L1213.1 317.5L1215.2 314.5L1217.3 311.5L1219.4 308.6L1221.5 305.7L1223.6 302.9L1225.8 300.0L1227.9 297.2L1230.0 294.4L1232.1 291.5L1234.2 288.7L1236.3 285.9L1238.4 283.0L1240.5 280.1L1242.7 277.2L1244.8 274.2L1246.9 271.1L1249.0 268.0L1251.1 264.8L1253.2 261.6L1255.3 258.2L1257.4 254.8L1259.6 251.3L1261.7 247.6L1263.8 243.9L1265.9 240.0L1268.0 236.0L1270.1 231.9L1272.2 227.6L1274.3 223.2L1276.5 218.7L1278.6 214.0L1280.7 209.2L1282.8 204.2L1284.9 199.0L1287.0 193.8L1289.1 188.3L1291.2 182.8L1293.4 177.1L1295.5 171.2L1297.6 165.3L1299.7 159.3L1301.8 153.1L1303.9 146.9L1306.0 140.6L1308.1 134.3L1310.3 127.9L1312.4 121.5L1314.5 115.1" stroke="#7d1f5a"/>
<path d="M911.0 946.9L913.1 943.9L915.2 940.8L917.3 937.6L919.4 934.4L921.6 931.2L923.7 927.8L925.8 924.4L927.9 920.9L930.0 917.2L932.1 913.5L934.2 909.7L936.3 905.7L938.5 901.6L940.6 897.4L942.7 893.1L944.8 888.6L946.9 884.0L949.0 879.3L951.1 874.4L953.2 869.3L955.4 864.2L957.5 858.8L959.6 853.4L961.7 847.8L963.8 842.1L965.9 836.3L968.0 830.4L970.1 824.4L972.3 818.3L974.4 812.1L976.5 805.9L978.6 799.6L980.7 793.3L982.8 787.0L984.9 780.7L987.0 774.4L989.2 768.2L991.3 762.0L993.4 755.9L995.5 749.9L997.6 743.9L999.7 738.1L1001.8 732.4L1003.9 726.8L1006.1 721.3L1008.2 716.0L1010.3 710.8L1012.4 705.7L1014.5 700.8L1016.6 696.0L1018.7 691.4L1020.8 686.9L1023.0 682.6L1025.1 678.3L1027.2 674.2L1029.3 670.3L1031.4 666.4L1033.5 662.7L1035.6 659.0L1037.7 655.5L1039.9 652.0L1042.0 648.7L1044.1 645.4L1046.2 642.2L1048.3 639.0L1050.4 635.9L1052.5 632.9L1054.6 629.9L1056.8 626.9L1058.9 624.0L1061.0 621.1L1063.1 618.2L1065.2 615.3L1067.3 612.3L1069.4 609.4L1071.5 606.5L1073.7 603.5L1075.8 600.5L1077.9 597.5L1080.0 594.4L1082.1 591.3L1084.2 588.1L1086.3 584.8L1088.4 581.5L1090.6 578.0L1092.7 574.5L1094.8 570.9L1096.9 567.2L1099.0 563.3L1101.1 559.4L1103.2 555.3L1105.3 551.1L1107.5 546.8L1109.6 542.3L1111.7 537.7L1113.8 533.0L1115.9 528.1L1118.0 523.1L1120.1 517.9L1122.2 512.6L1124.4 507.2L1126.5 501.6L1128.6 495.9L1130.7 490.1L1132.8 484.2L1134.9 478.2L1137.0 472.1L1139.1 465.9L1141.3 459.7L1143.4 453.4L1145.5 447.1L1147.6 440.8L1149.7 434.5L1151.8 428.2L1153.9 422.0L1156.0 415.8L1158.2 409.7L1160.3 403.7L1162.4 397.7L1164.5 391.9L1166.6 386.2L1168.7 380.5L1170.8 375.1L1172.9 369.7L1175.1 364.5L1177.2 359.5L1179.3 354.5L1181.4 349.8L1183.5 345.1L1185.6 340.6L1187.7 336.3L1189.8 332.0L1192.0 327.9L1194.1 323.9L1196.2 320.1L1198.3 316.3L1200.4 312.7L1202.5 309.1L1204.6 305.7L1206.7 302.3L1208.9 299.0L1211.0 295.8L1213.1 292.7L1215.2 289.6L1217.3 286.5L1219.4 283.5L1221.5 280.6L1223.6 277.6L1225.8 274.7L1227.9 271.8L1230.0 268.9L1232.1 266.0L1234.2 263.1L1236.3 260.1L1238.4 257.2L1240.5 254.2L1242.7 251.1L1244.8 248.1L1246.9 244.9L1249.0 241.7L1251.1 238.5L1253.2 235.1L1255.3 231.7L1257.4 228.2L1259.6 224.6L1261.7 220.9L1263.8 217.0L1265.9 213.1L1268.0 209.0L1270.1 204.8L1272.2 200.5L1274.3 196.0L1276.5 191.5L1278.6 186.7L1280.7 181.8L1282.8 176.8L1284.9 171.7L1287.0 166.4L1289.1 160.9L1291.2 155.4L1293.4 149.7L1295.5 143.9L1297.6 138.0L1299.7 131.9L1301.8 125.9L1303.9 119.7L1306.0 113.5" stroke="#821e5a"/>
<path d="M911.0 922.6L913.1 919.5L915.2 916.4L917.3 913.2L919.4 910.0L921.6 906.6L923.7 903.3L925.8 899.8L927.9 896.3L930.0 892.6L932.1 888.9L934.2 885.1L936.3 881.1L938.5 877.1L940.6 872.9L942.7 868.6L944.8 864.1L946.9 859.5L949.0 854.8L951.1 850.0L953.2 845.0L955.4 839.9L957.5 834.7L959.6 829.3L961.7 823.8L963.8 818.2L965.9 812.5L968.0 806.6L970.1 800.7L972.3 794.7L974.4 788.6L976.5 782.5L978.6 776.3L980.7 770.1L982.8 763.9L984.9 757.7L987.0 751.5L989.2 745.3L991.3 739.2L993.4 733.2L995.5 727.2L997.6 721.3L999.7 715.5L1001.8 709.8L1003.9 704.2L1006.1 698.7L1008.2 693.4L1010.3 688.2L1012.4 683.1L1014.5 678.2L1016.6 673.3L1018.7 668.7L1020.8 664.1L1023.0 659.7L1025.1 655.4L1027.2 651.3L1029.3 647.2L1031.4 643.3L1033.5 639.5L1035.6 635.8L1037.7 632.2L1039.9 628.7L1042.0 625.2L1044.1 621.9L1046.2 618.6L1048.3 615.4L1050.4 612.2L1052.5 609.1L1054.6 606.0L1056.8 603.0L1058.9 600.0L1061.0 597.0L1063.1 594.0L1065.2 591.0L1067.3 588.0L1069.4 585.1L1071.5 582.1L1073.7 579.1L1075.8 576.0L1077.9 572.9L1080.0 569.8L1082.1 566.6L1084.2 563.4L1086.3 560.1L1088.4 556.7L1090.6 553.2L1092.7 549.7L1094.8 546.1L1096.9 542.3L1099.0 538.5L1101.1 534.5L1103.2 530.5L1105.3 526.3L1107.5 522.0L1109.6 517.5L1111.7 512.9L1113.8 508.2L1115.9 503.4L1118.0 498.4L1120.1 493.3L1122.2 488.1L1124.4 482.7L1126.5 477.2L1128.6 471.6L1130.7 465.8L1132.8 460.0L1134.9 454.1L1137.0 448.1L1139.1 442.0L1141.3 435.9L1143.4 429.7L1145.5 423.5L1147.6 417.3L1149.7 411.1L1151.8 404.9L1153.9 398.7L1156.0 392.6L1158.2 386.5L1160.3 380.6L1162.4 374.7L1164.5 368.9L1166.6 363.2L1168.7 357.6L1170.8 352.1L1172.9 346.8L1175.1 341.6L1177.2 336.5L1179.3 331.5L1181.4 326.7L1183.5 322.1L1185.6 317.5L1187.7 313.1L1189.8 308.8L1192.0 304.7L1194.1 300.7L1196.2 296.7L1198.3 292.9L1200.4 289.2L1202.5 285.6L1204.6 282.1L1206.7 278.7L1208.9 275.3L1211.0 272.0L1213.1 268.8L1215.2 265.6L1217.3 262.5L1219.4 259.4L1221.5 256.4L1223.6 253.4L1225.8 250.4L1227.9 247.4L1230.0 244.5L1232.1 241.5L1234.2 238.5L1236.3 235.5L1238.4 232.5L1240.5 229.4L1242.7 226.4L1244.8 223.2L1246.9 220.0L1249.0 216.8L1251.1 213.5L1253.2 210.1L1255.3 206.7L1257.4 203.1L1259.6 199.5L1261.7 195.7L1263.8 191.9L1265.9 187.9L1268.0 183.9L1270.1 179.7L1272.2 175.4L1274.3 170.9L1276.5 166.3L1278.6 161.6L1280.7 156.8L1282.8 151.8L1284.9 146.7L1287.0 141.4L1289.1 136.1L1291.2 130.6L1293.4 125.0L1295.5 119.2L1297.6 113.4" stroke="#871e5b"/>
<path d="M911.0 898.6L913.1 895.5L915.2 892.3L917.3 889.1L919.4 885.8L921.6 882.5L923.7 879.1L925.8 875.6L927.9 872.1L930.0 868.5L932.1 864.7L934.2 860.9L936.3 857.0L938.5 853.0L940.6 848.8L942.7 844.5L944.8 840.1L946.9 835.6L949.0 831.0L951.1 826.2L953.2 821.3L955.4 816.3L957.5 811.1L959.6 805.8L961.7 800.4L963.8 794.9L965.9 789.3L968.0 783.6L970.1 777.7L972.3 771.8L974.4 765.9L976.5 759.8L978.6 753.8L980.7 747.6L982.8 741.5L984.9 735.4L987.0 729.3L989.2 723.2L991.3 717.1L993.4 711.1L995.5 705.1L997.6 699.3L999.7 693.5L1001.8 687.8L1003.9 682.2L1006.1 676.7L1008.2 671.4L1010.3 666.2L1012.4 661.0L1014.5 656.1L1016.6 651.2L1018.7 646.5L1020.8 641.9L1023.0 637.4L1025.1 633.1L1027.2 628.9L1029.3 624.8L1031.4 620.8L1033.5 616.9L1035.6 613.1L1037.7 609.4L1039.9 605.8L1042.0 602.3L1044.1 598.9L1046.2 595.5L1048.3 592.2L1050.4 589.0L1052.5 585.8L1054.6 582.6L1056.8 579.5L1058.9 576.4L1061.0 573.4L1063.1 570.3L1065.2 567.3L1067.3 564.3L1069.4 561.3L1071.5 558.2L1073.7 555.2L1075.8 552.1L1077.9 549.0L1080.0 545.8L1082.1 542.6L1084.2 539.3L1086.3 536.0L1088.4 532.6L1090.6 529.1L1092.7 525.6L1094.8 522.0L1096.9 518.2L1099.0 514.4L1101.1 510.5L1103.2 506.4L1105.3 502.3L1107.5 498.0L1109.6 493.6L1111.7 489.1L1113.8 484.5L1115.9 479.7L1118.0 474.8L1120.1 469.8L1122.2 464.6L1124.4 459.3L1126.5 453.9L1128.6 448.4L1130.7 442.8L1132.8 437.1L1134.9 431.2L1137.0 425.3L1139.1 419.4L1141.3 413.3L1143.4 407.3L1145.5 401.1L1147.6 395.0L1149.7 388.9L1151.8 382.8L1153.9 376.7L1156.0 370.6L1158.2 364.6L1160.3 358.6L1162.4 352.8L1164.5 347.0L1166.6 341.3L1168.7 335.7L1170.8 330.2L1172.9 324.9L1175.1 319.7L1177.2 314.5L1179.3 309.6L1181.4 304.7L1183.5 300.0L1185.6 295.4L1187.7 290.9L1189.8 286.6L1192.0 282.4L1194.1 278.3L1196.2 274.3L1198.3 270.4L1200.4 266.6L1202.5 262.9L1204.6 259.3L1206.7 255.8L1208.9 252.4L1211.0 249.0L1213.1 245.7L1215.2 242.5L1217.3 239.3L1219.4 236.1L1221.5 233.0L1223.6 229.9L1225.8 226.9L1227.9 223.8L1230.0 220.8L1232.1 217.8L1234.2 214.8L1236.3 211.7L1238.4 208.7L1240.5 205.6L1242.7 202.5L1244.8 199.3L1246.9 196.1L1249.0 192.8L1251.1 189.5L1253.2 186.1L1255.3 182.6L1257.4 179.1L1259.6 175.5L1261.7 171.7L1263.8 167.9L1265.9 164.0L1268.0 159.9L1270.1 155.8L1272.2 151.5L1274.3 147.1L1276.5 142.6L1278.6 138.0L1280.7 133.2L1282.8 128.3L1284.9 123.3L1287.0 118.1L1289.1 112.8" stroke="#8b1d5b"/>
<path d="M911.0 874.6L913.1 871.4L915.2 868.2L917.3 865.0L919.4 861.7L921.6 858.3L923.7 854.9L925.8 851.4L927.9 847.9L930.0 844.2L932.1 840.5L934.2 836.6L936.3 832.7L938.5 828.7L940.6 824.6L942.7 820.3L944.8 815.9L946.9 811.5L949.0 806.9L951.1 802.1L953.2 797.3L955.4 792.3L957.5 787.2L959.6 782.0L961.7 776.7L963.8 771.2L965.9 765.7L968.0 760.1L970.1 754.3L972.3 748.5L974.4 742.6L976.5 736.7L978.6 730.7L980.7 724.7L982.8 718.6L984.9 712.6L987.0 706.5L989.2 700.5L991.3 694.5L993.4 688.5L995.5 682.6L997.6 676.8L999.7 671.0L1001.8 665.4L1003.9 659.8L1006.1 654.3L1008.2 648.9L1010.3 643.7L1012.4 638.6L1014.5 633.6L1016.6 628.7L1018.7 623.9L1020.8 619.3L1023.0 614.7L1025.1 610.3L1027.2 606.1L1029.3 601.9L1031.4 597.8L1033.5 593.9L1035.6 590.0L1037.7 586.3L1039.9 582.6L1042.0 579.0L1044.1 575.5L1046.2 572.0L1048.3 568.7L1050.4 565.3L1052.5 562.1L1054.6 558.9L1056.8 555.7L1058.9 552.5L1061.0 549.4L1063.1 546.3L1065.2 543.2L1067.3 540.1L1069.4 537.0L1071.5 533.9L1073.7 530.8L1075.8 527.6L1077.9 524.5L1080.0 521.3L1082.1 518.0L1084.2 514.7L1086.3 511.3L1088.4 507.9L1090.6 504.4L1092.7 500.8L1094.8 497.2L1096.9 493.4L1099.0 489.6L1101.1 485.6L1103.2 481.6L1105.3 477.4L1107.5 473.2L1109.6 468.8L1111.7 464.3L1113.8 459.7L1115.9 454.9L1118.0 450.1L1120.1 445.1L1122.2 440.0L1124.4 434.7L1126.5 429.4L1128.6 423.9L1130.7 418.4L1132.8 412.7L1134.9 407.0L1137.0 401.2L1139.1 395.3L1141.3 389.3L1143.4 383.3L1145.5 377.3L1147.6 371.2L1149.7 365.2L1151.8 359.1L1153.9 353.1L1156.0 347.1L1158.2 341.2L1160.3 335.3L1162.4 329.4L1164.5 323.7L1166.6 318.0L1168.7 312.5L1170.8 307.0L1172.9 301.7L1175.1 296.4L1177.2 291.3L1179.3 286.3L1181.4 281.5L1183.5 276.7L1185.6 272.1L1187.7 267.6L1189.8 263.2L1192.0 258.9L1194.1 254.8L1196.2 250.7L1198.3 246.8L1200.4 243.0L1202.5 239.2L1204.6 235.6L1206.7 232.0L1208.9 228.5L1211.0 225.0L1213.1 221.7L1215.2 218.4L1217.3 215.1L1219.4 211.9L1221.5 208.7L1223.6 205.6L1225.8 202.5L1227.9 199.3L1230.0 196.3L1232.1 193.2L1234.2 190.1L1236.3 187.0L1238.4 183.8L1240.5 180.7L1242.7 177.5L1244.8 174.3L1246.9 171.0L1249.0 167.7L1251.1 164.3L1253.2 160.9L1255.3 157.4L1257.4 153.8L1259.6 150.1L1261.7 146.4L1263.8 142.5L1265.9 138.6L1268.0 134.5L1270.1 130.3L1272.2 126.1L1274.3 121.7L1276.5 117.1L1278.6 112.5" stroke="#901d5b"/>
<path d="M911.0 850.6L913.1 847.4L915.2 844.2L917.3 840.9L919.4 837.5L921.6 834.1L923.7 830.7L925.8 827.2L927.9 823.6L930.0 819.9L932.1 816.2L934.2 812.3L936.3 808.4L938.5 804.4L940.6 800.3L942.7 796.0L944.8 791.7L946.9 787.2L949.0 782.7L951.1 778.0L953.2 773.2L955.4 768.2L957.5 763.2L959.6 758.1L961.7 752.8L963.8 747.4L965.9 742.0L968.0 736.4L970.1 730.7L972.3 725.0L974.4 719.2L976.5 713.3L978.6 707.4L980.7 701.5L982.8 695.5L984.9 689.5L987.0 683.5L989.2 677.6L991.3 671.6L993.4 665.7L995.5 659.9L997.6 654.1L999.7 648.3L1001.8 642.7L1003.9 637.1L1006.1 631.6L1008.2 626.3L1010.3 621.0L1012.4 615.9L1014.5 610.8L1016.6 605.9L1018.7 601.1L1020.8 596.5L1023.0 591.9L1025.1 587.4L1027.2 583.1L1029.3 578.9L1031.4 574.7L1033.5 570.7L1035.6 566.8L1037.7 563.0L1039.9 559.2L1042.0 555.6L1044.1 552.0L1046.2 548.5L1048.3 545.0L1050.4 541.6L1052.5 538.3L1054.6 535.0L1056.8 531.7L1058.9 528.5L1061.0 525.3L1063.1 522.1L1065.2 519.0L1067.3 515.8L1069.4 512.6L1071.5 509.5L1073.7 506.3L1075.8 503.1L1077.9 499.9L1080.0 496.6L1082.1 493.3L1084.2 489.9L1086.3 486.5L1088.4 483.0L1090.6 479.5L1092.7 475.9L1094.8 472.2L1096.9 468.4L1099.0 464.6L1101.1 460.6L1103.2 456.5L1105.3 452.4L1107.5 448.1L1109.6 443.7L1111.7 439.2L1113.8 434.6L1115.9 429.9L1118.0 425.1L1120.1 420.1L1122.2 415.0L1124.4 409.8L1126.5 404.5L1128.6 399.1L1130.7 393.6L1132.8 388.0L1134.9 382.4L1137.0 376.6L1139.1 370.8L1141.3 364.9L1143.4 359.0L1145.5 353.0L1147.6 347.0L1149.7 341.0L1151.8 335.1L1153.9 329.1L1156.0 323.2L1158.2 317.3L1160.3 311.4L1162.4 305.7L1164.5 300.0L1166.6 294.3L1168.7 288.8L1170.8 283.4L1172.9 278.0L1175.1 272.8L1177.2 267.7L1179.3 262.7L1181.4 257.8L1183.5 253.1L1185.6 248.4L1187.7 243.9L1189.8 239.5L1192.0 235.2L1194.1 231.0L1196.2 226.9L1198.3 222.9L1200.4 219.0L1202.5 215.2L1204.6 211.5L1206.7 207.9L1208.9 204.3L1211.0 200.8L1213.1 197.4L1215.2 194.0L1217.3 190.7L1219.4 187.4L1221.5 184.2L1223.6 181.0L1225.8 177.8L1227.9 174.6L1230.0 171.4L1232.1 168.3L1234.2 165.1L1236.3 161.9L1238.4 158.7L1240.5 155.5L1242.7 152.3L1244.8 149.0L1246.9 145.7L1249.0 142.3L1251.1 138.9L1253.2 135.4L1255.3 131.8L1257.4 128.2L1259.6 124.5L1261.7 120.7L1263.8 116.8L1265.9 112.8" stroke="#951c5b"/>
<path d="M911.0 826.7L913.1 823.4L915.2 820.1L917.3 816.8L919.4 813.4L921.6 809.9L923.7 806.5L925.8 802.9L927.9 799.3L930.0 795.6L932.1 791.8L934.2 788.0L936.3 784.1L938.5 780.0L940.6 775.9L942.7 771.7L944.8 767.3L946.9 762.9L949.0 758.4L951.1 753.7L953.2 748.9L955.4 744.1L957.5 739.1L959.6 734.0L961.7 728.8L963.8 723.5L965.9 718.1L968.0 712.6L970.1 707.0L972.3 701.3L974.4 695.6L976.5 689.8L978.6 684.0L980.7 678.1L982.8 672.2L984.9 666.3L987.0 660.3L989.2 654.4L991.3 648.5L993.4 642.7L995.5 636.9L997.6 631.1L999.7 625.4L1001.8 619.8L1003.9 614.2L1006.1 608.8L1008.2 603.4L1010.3 598.2L1012.4 593.0L1014.5 588.0L1016.6 583.0L1018.7 578.2L1020.8 573.5L1023.0 568.9L1025.1 564.4L1027.2 560.0L1029.3 555.7L1031.4 551.5L1033.5 547.4L1035.6 543.5L1037.7 539.6L1039.9 535.7L1042.0 532.0L1044.1 528.4L1046.2 524.8L1048.3 521.3L1050.4 517.8L1052.5 514.4L1054.6 511.0L1056.8 507.7L1058.9 504.4L1061.0 501.1L1063.1 497.9L1065.2 494.6L1067.3 491.4L1069.4 488.2L1071.5 484.9L1073.7 481.7L1075.8 478.4L1077.9 475.1L1080.0 471.8L1082.1 468.4L1084.2 465.0L1086.3 461.5L1088.4 458.0L1090.6 454.4L1092.7 450.8L1094.8 447.1L1096.9 443.3L1099.0 439.4L1101.1 435.4L1103.2 431.3L1105.3 427.1L1107.5 422.8L1109.6 418.4L1111.7 413.9L1113.8 409.3L1115.9 404.6L1118.0 399.8L1120.1 394.9L1122.2 389.8L1124.4 384.6L1126.5 379.4L1128.6 374.0L1130.7 368.6L1132.8 363.0L1134.9 357.4L1137.0 351.7L1139.1 345.9L1141.3 340.1L1143.4 334.3L1145.5 328.4L1147.6 322.5L1149.7 316.5L1151.8 310.6L1153.9 304.7L1156.0 298.9L1158.2 293.0L1160.3 287.2L1162.4 281.5L1164.5 275.8L1166.6 270.3L1168.7 264.8L1170.8 259.4L1172.9 254.0L1175.1 248.8L1177.2 243.7L1179.3 238.8L1181.4 233.9L1183.5 229.1L1185.6 224.5L1187.7 219.9L1189.8 215.5L1192.0 211.1L1194.1 206.9L1196.2 202.8L1198.3 198.8L1200.4 194.8L1202.5 191.0L1204.6 187.2L1206.7 183.5L1208.9 179.9L1211.0 176.4L1213.1 172.9L1215.2 169.4L1217.3 166.0L1219.4 162.7L1221.5 159.4L1223.6 156.1L1225.8 152.9L1227.9 149.6L1230.0 146.4L1232.1 143.1L1234.2 139.9L1236.3 136.7L1238.4 133.4L1240.5 130.1L1242.7 126.8L1244.8 123.5L1246.9 120.1L1249.0 116.6L1251.1 113.1" stroke="#9a1b5b"/>
<path d="M911.0 802.8L913.1 799.4L915.2 796.1L917.3 792.7L919.4 789.2L921.6 785.7L923.7 782.2L925.8 778.6L927.9 774.9L930.0 771.2L932.1 767.4L934.2 763.5L936.3 759.5L938.5 755.5L940.6 751.3L942.7 747.1L944.8 742.8L946.9 738.3L949.0 733.8L951.1 729.1L953.2 724.4L955.4 719.5L957.5 714.5L959.6 709.5L961.7 704.3L963.8 699.0L965.9 693.7L968.0 688.2L970.1 682.7L972.3 677.1L974.4 671.4L976.5 665.7L978.6 659.9L980.7 654.1L982.8 648.3L984.9 642.4L987.0 636.5L989.2 630.7L991.3 624.8L993.4 619.0L995.5 613.3L997.6 607.5L999.7 601.9L1001.8 596.3L1003.9 590.7L1006.1 585.3L1008.2 579.9L1010.3 574.7L1012.4 569.5L1014.5 564.5L1016.6 559.5L1018.7 554.6L1020.8 549.9L1023.0 545.3L1025.1 540.7L1027.2 536.3L1029.3 532.0L1031.4 527.7L1033.5 523.6L1035.6 519.5L1037.7 515.6L1039.9 511.7L1042.0 507.9L1044.1 504.2L1046.2 500.5L1048.3 496.9L1050.4 493.4L1052.5 489.9L1054.6 486.4L1056.8 483.0L1058.9 479.7L1061.0 476.3L1063.1 473.0L1065.2 469.6L1067.3 466.3L1069.4 463.0L1071.5 459.7L1073.7 456.4L1075.8 453.0L1077.9 449.6L1080.0 446.2L1082.1 442.8L1084.2 439.3L1086.3 435.7L1088.4 432.1L1090.6 428.5L1092.7 424.7L1094.8 420.9L1096.9 417.1L1099.0 413.1L1101.1 409.0L1103.2 404.9L1105.3 400.7L1107.5 396.3L1109.6 391.9L1111.7 387.4L1113.8 382.7L1115.9 378.0L1118.0 373.1L1120.1 368.1L1122.2 363.1L1124.4 357.9L1126.5 352.6L1128.6 347.3L1130.7 341.8L1132.8 336.3L1134.9 330.7L1137.0 325.0L1139.1 319.3L1141.3 313.5L1143.4 307.7L1145.5 301.9L1147.6 296.0L1149.7 290.2L1151.8 284.3L1153.9 278.5L1156.0 272.6L1158.2 266.9L1160.3 261.1L1162.4 255.5L1164.5 249.9L1166.6 244.3L1168.7 238.9L1170.8 233.5L1172.9 228.3L1175.1 223.1L1177.2 218.0L1179.3 213.1L1181.4 208.2L1183.5 203.5L1185.6 198.8L1187.7 194.3L1189.8 189.9L1192.0 185.5L1194.1 181.3L1196.2 177.2L1198.3 173.1L1200.4 169.2L1202.5 165.3L1204.6 161.5L1206.7 157.8L1208.9 154.1L1211.0 150.5L1213.1 146.9L1215.2 143.5L1217.3 140.0L1219.4 136.6L1221.5 133.2L1223.6 129.9L1225.8 126.5L1227.9 123.2L1230.0 119.9L1232.1 116.6L1234.2 113.3" stroke="#9f1a5b"/>
<path d="M911.0 778.9L913.1 775.5L915.2 772.0L917.3 768.5L919.4 765.0L921.6 761.5L923.7 757.9L925.8 754.2L927.9 750.5L930.0 746.7L932.1 742.9L934.2 739.0L936.3 735.0L938.5 730.9L940.6 726.7L942.7 722.4L944.8 718.1L946.9 713.6L949.0 709.0L951.1 704.4L953.2 699.6L955.4 694.7L957.5 689.8L959.6 684.7L961.7 679.5L963.8 674.3L965.9 668.9L968.0 663.5L970.1 657.9L972.3 652.4L974.4 646.7L976.5 641.0L978.6 635.2L980.7 629.4L982.8 623.6L984.9 617.7L987.0 611.9L989.2 606.1L991.3 600.2L993.4 594.4L995.5 588.7L997.6 582.9L999.7 577.3L1001.8 571.7L1003.9 566.2L1006.1 560.7L1008.2 555.3L1010.3 550.1L1012.4 544.9L1014.5 539.8L1016.6 534.8L1018.7 530.0L1020.8 525.2L1023.0 520.5L1025.1 516.0L1027.2 511.5L1029.3 507.1L1031.4 502.9L1033.5 498.7L1035.6 494.6L1037.7 490.6L1039.9 486.6L1042.0 482.8L1044.1 479.0L1046.2 475.3L1048.3 471.6L1050.4 468.0L1052.5 464.5L1054.6 461.0L1056.8 457.5L1058.9 454.0L1061.0 450.6L1063.1 447.2L1065.2 443.8L1067.3 440.4L1069.4 437.0L1071.5 433.6L1073.7 430.2L1075.8 426.7L1077.9 423.3L1080.0 419.8L1082.1 416.2L1084.2 412.7L1086.3 409.0L1088.4 405.3L1090.6 401.6L1092.7 397.8L1094.8 393.9L1096.9 389.9L1099.0 385.8L1101.1 381.7L1103.2 377.5L1105.3 373.1L1107.5 368.7L1109.6 364.2L1111.7 359.5L1113.8 354.8L1115.9 350.0L1118.0 345.0L1120.1 340.0L1122.2 334.9L1124.4 329.6L1126.5 324.3L1128.6 318.9L1130.7 313.4L1132.8 307.8L1134.9 302.2L1137.0 296.5L1139.1 290.8L1141.3 285.0L1143.4 279.2L1145.5 273.3L1147.6 267.5L1149.7 261.6L1151.8 255.8L1153.9 250.0L1156.0 244.2L1158.2 238.5L1160.3 232.8L1162.4 227.2L1164.5 221.6L1166.6 216.1L1168.7 210.7L1170.8 205.4L1172.9 200.2L1175.1 195.1L1177.2 190.1L1179.3 185.2L1181.4 180.4L1183.5 175.7L1185.6 171.1L1187.7 166.6L1189.8 162.2L1192.0 157.9L1194.1 153.7L1196.2 149.5L1198.3 145.5L1200.4 141.5L1202.5 137.7L1204.6 133.9L1206.7 130.1L1208.9 126.4L1211.0 122.8L1213.1 119.2L1215.2 115.7" stroke="#a4195b"/>
<path d="M911.0 754.8L913.1 751.4L915.2 747.9L917.3 744.4L919.4 740.9L921.6 737.3L923.7 733.7L925.8 730.1L927.9 726.4L930.0 722.6L932.1 718.7L934.2 714.8L936.3 710.8L938.5 706.7L940.6 702.5L942.7 698.3L944.8 693.9L946.9 689.5L949.0 685.0L951.1 680.3L953.2 675.6L955.4 670.7L957.5 665.8L959.6 660.7L961.7 655.6L963.8 650.3L965.9 645.0L968.0 639.6L970.1 634.1L972.3 628.6L974.4 622.9L976.5 617.2L978.6 611.5L980.7 605.7L982.8 599.9L984.9 594.1L987.0 588.3L989.2 582.4L991.3 576.6L993.4 570.8L995.5 565.1L997.6 559.4L999.7 553.7L1001.8 548.1L1003.9 542.6L1006.1 537.1L1008.2 531.7L1010.3 526.5L1012.4 521.3L1014.5 516.2L1016.6 511.2L1018.7 506.3L1020.8 501.5L1023.0 496.8L1025.1 492.2L1027.2 487.7L1029.3 483.3L1031.4 479.0L1033.5 474.8L1035.6 470.6L1037.7 466.6L1039.9 462.6L1042.0 458.7L1044.1 454.9L1046.2 451.2L1048.3 447.5L1050.4 443.8L1052.5 440.3L1054.6 436.7L1056.8 433.2L1058.9 429.7L1061.0 426.3L1063.1 422.8L1065.2 419.4L1067.3 416.0L1069.4 412.6L1071.5 409.1L1073.7 405.7L1075.8 402.2L1077.9 398.7L1080.0 395.2L1082.1 391.7L1084.2 388.1L1086.3 384.4L1088.4 380.7L1090.6 376.9L1092.7 373.1L1094.8 369.2L1096.9 365.2L1099.0 361.1L1101.1 357.0L1103.2 352.8L1105.3 348.4L1107.5 344.0L1109.6 339.5L1111.7 334.9L1113.8 330.1L1115.9 325.3L1118.0 320.4L1120.1 315.4L1122.2 310.3L1124.4 305.0L1126.5 299.7L1128.6 294.3L1130.7 288.9L1132.8 283.3L1134.9 277.7L1137.0 272.0L1139.1 266.3L1141.3 260.5L1143.4 254.7L1145.5 248.9L1147.6 243.1L1149.7 237.3L1151.8 231.4L1153.9 225.6L1156.0 219.9L1158.2 214.2L1160.3 208.5L1162.4 202.9L1164.5 197.3L1166.6 191.8L1168.7 186.5L1170.8 181.1L1172.9 175.9L1175.1 170.8L1177.2 165.8L1179.3 160.9L1181.4 156.1L1183.5 151.3L1185.6 146.7L1187.7 142.2L1189.8 137.8L1192.0 133.4L1194.1 129.2L1196.2 125.1L1198.3 121.0L1200.4 117.0L1202.5 113.1" stroke="#aa185a"/>
<path d="M911.0 730.8L913.1 727.3L915.2 723.8L917.3 720.3L919.4 716.8L921.6 713.2L923.7 709.6L925.8 706.0L927.9 702.3L930.0 698.5L932.1 694.7L934.2 690.8L936.3 686.8L938.5 682.7L940.6 678.6L942.7 674.3L944.8 670.0L946.9 665.6L949.0 661.1L951.1 656.5L953.2 651.8L955.4 647.0L957.5 642.1L959.6 637.1L961.7 631.9L963.8 626.8L965.9 621.5L968.0 616.1L970.1 610.6L972.3 605.1L974.4 599.5L976.5 593.9L978.6 588.2L980.7 582.4L982.8 576.7L984.9 570.9L987.0 565.1L989.2 559.3L991.3 553.5L993.4 547.7L995.5 541.9L997.6 536.2L999.7 530.6L1001.8 525.0L1003.9 519.4L1006.1 514.0L1008.2 508.6L1010.3 503.3L1012.4 498.1L1014.5 493.0L1016.6 488.0L1018.7 483.0L1020.8 478.2L1023.0 473.5L1025.1 468.9L1027.2 464.3L1029.3 459.9L1031.4 455.6L1033.5 451.3L1035.6 447.2L1037.7 443.1L1039.9 439.1L1042.0 435.2L1044.1 431.3L1046.2 427.6L1048.3 423.8L1050.4 420.2L1052.5 416.6L1054.6 413.0L1056.8 409.5L1058.9 406.0L1061.0 402.5L1063.1 399.0L1065.2 395.6L1067.3 392.2L1069.4 388.7L1071.5 385.3L1073.7 381.8L1075.8 378.4L1077.9 374.9L1080.0 371.4L1082.1 367.8L1084.2 364.2L1086.3 360.6L1088.4 356.9L1090.6 353.1L1092.7 349.3L1094.8 345.4L1096.9 341.5L1099.0 337.5L1101.1 333.3L1103.2 329.1L1105.3 324.8L1107.5 320.4L1109.6 316.0L1111.7 311.4L1113.8 306.7L1115.9 301.9L1118.0 297.0L1120.1 292.1L1122.2 287.0L1124.4 281.8L1126.5 276.6L1128.6 271.2L1130.7 265.8L1132.8 260.3L1134.9 254.7L1137.0 249.1L1139.1 243.4L1141.3 237.7L1143.4 231.9L1145.5 226.1L1147.6 220.3L1149.7 214.5L1151.8 208.7L1153.9 202.9L1156.0 197.2L1158.2 191.4L1160.3 185.8L1162.4 180.2L1164.5 174.6L1166.6 169.1L1168.7 163.7L1170.8 158.4L1172.9 153.1L1175.1 148.0L1177.2 143.0L1179.3 138.0L1181.4 133.1L1183.5 128.4L1185.6 123.7L1187.7 119.2L1189.8 114.7" stroke="#af1759"/>
<path d="M911.0 706.6L913.1 703.2L915.2 699.7L917.3 696.2L919.4 692.7L921.6 689.2L923.7 685.6L925.8 681.9L927.9 678.2L930.0 674.5L932.1 670.7L934.2 666.8L936.3 662.9L938.5 658.8L940.6 654.7L942.7 650.5L944.8 646.2L946.9 641.8L949.0 637.4L951.1 632.8L953.2 628.1L955.4 623.4L957.5 618.5L959.6 613.6L961.7 608.5L963.8 603.4L965.9 598.1L968.0 592.8L970.1 587.4L972.3 581.9L974.4 576.4L976.5 570.8L978.6 565.1L980.7 559.4L982.8 553.7L984.9 547.9L987.0 542.1L989.2 536.4L991.3 530.6L993.4 524.8L995.5 519.1L997.6 513.4L999.7 507.7L1001.8 502.1L1003.9 496.6L1006.1 491.1L1008.2 485.7L1010.3 480.4L1012.4 475.2L1014.5 470.1L1016.6 465.0L1018.7 460.1L1020.8 455.2L1023.0 450.5L1025.1 445.8L1027.2 441.3L1029.3 436.8L1031.4 432.5L1033.5 428.2L1035.6 424.0L1037.7 419.9L1039.9 415.9L1042.0 411.9L1044.1 408.1L1046.2 404.3L1048.3 400.5L1050.4 396.8L1052.5 393.2L1054.6 389.6L1056.8 386.1L1058.9 382.6L1061.0 379.1L1063.1 375.6L1065.2 372.2L1067.3 368.7L1069.4 365.3L1071.5 361.9L1073.7 358.4L1075.8 355.0L1077.9 351.5L1080.0 348.0L1082.1 344.5L1084.2 340.9L1086.3 337.3L1088.4 333.6L1090.6 329.9L1092.7 326.1L1094.8 322.3L1096.9 318.4L1099.0 314.4L1101.1 310.3L1103.2 306.1L1105.3 301.9L1107.5 297.6L1109.6 293.1L1111.7 288.6L1113.8 284.0L1115.9 279.3L1118.0 274.5L1120.1 269.6L1122.2 264.6L1124.4 259.5L1126.5 254.3L1128.6 249.0L1130.7 243.6L1132.8 238.2L1134.9 232.7L1137.0 227.1L1139.1 221.5L1141.3 215.8L1143.4 210.1L1145.5 204.3L1147.6 198.6L1149.7 192.8L1151.8 187.0L1153.9 181.2L1156.0 175.5L1158.2 169.8L1160.3 164.1L1162.4 158.5L1164.5 152.9L1166.6 147.4L1168.7 142.0L1170.8 136.6L1172.9 131.3L1175.1 126.2L1177.2 121.1L1179.3 116.1" stroke="#b41658"/>
<path d="M911.0 682.6L913.1 679.1L915.2 675.6L917.3 672.1L919.4 668.6L921.6 665.1L923.7 661.5L925.8 657.8L927.9 654.2L930.0 650.4L932.1 646.6L934.2 642.7L936.3 638.8L938.5 634.8L940.6 630.7L942.7 626.5L944.8 622.3L946.9 617.9L949.0 613.5L951.1 608.9L953.2 604.3L955.4 599.5L957.5 594.7L959.6 589.8L961.7 584.8L963.8 579.7L965.9 574.5L968.0 569.2L970.1 563.8L972.3 558.4L974.4 552.9L976.5 547.3L978.6 541.7L980.7 536.0L982.8 530.3L984.9 524.6L987.0 518.8L989.2 513.1L991.3 507.3L993.4 501.6L995.5 495.8L997.6 490.1L999.7 484.5L1001.8 478.9L1003.9 473.4L1006.1 467.9L1008.2 462.5L1010.3 457.2L1012.4 451.9L1014.5 446.8L1016.6 441.7L1018.7 436.8L1020.8 431.9L1023.0 427.1L1025.1 422.4L1027.2 417.9L1029.3 413.4L1031.4 409.0L1033.5 404.7L1035.6 400.5L1037.7 396.3L1039.9 392.3L1042.0 388.3L1044.1 384.4L1046.2 380.6L1048.3 376.8L1050.4 373.1L1052.5 369.4L1054.6 365.8L1056.8 362.3L1058.9 358.7L1061.0 355.2L1063.1 351.7L1065.2 348.3L1067.3 344.8L1069.4 341.4L1071.5 337.9L1073.7 334.5L1075.8 331.0L1077.9 327.5L1080.0 324.0L1082.1 320.5L1084.2 316.9L1086.3 313.3L1088.4 309.7L1090.6 306.0L1092.7 302.2L1094.8 298.4L1096.9 294.5L1099.0 290.5L1101.1 286.4L1103.2 282.3L1105.3 278.1L1107.5 273.8L1109.6 269.4L1111.7 264.9L1113.8 260.3L1115.9 255.6L1118.0 250.9L1120.1 246.0L1122.2 241.0L1124.4 236.0L1126.5 230.8L1128.6 225.6L1130.7 220.3L1132.8 214.9L1134.9 209.4L1137.0 203.8L1139.1 198.2L1141.3 192.6L1143.4 186.9L1145.5 181.2L1147.6 175.4L1149.7 169.7L1151.8 163.9L1153.9 158.2L1156.0 152.4L1158.2 146.7L1160.3 141.1L1162.4 135.4L1164.5 129.9L1166.6 124.4L1168.7 118.9L1170.8 113.6" stroke="#b91657"/>
<path d="M911.0 658.5L913.1 655.0L915.2 651.5L917.3 648.0L919.4 644.5L921.6 640.9L923.7 637.3L925.8 633.7L927.9 630.0L930.0 626.2L932.1 622.4L934.2 618.6L936.3 614.6L938.5 610.6L940.6 606.5L942.7 602.4L944.8 598.1L946.9 593.8L949.0 589.4L951.1 584.8L953.2 580.2L955.4 575.5L957.5 570.7L959.6 565.8L961.7 560.8L963.8 555.7L965.9 550.6L968.0 545.3L970.1 540.0L972.3 534.5L974.4 529.1L976.5 523.5L978.6 517.9L980.7 512.3L982.8 506.6L984.9 500.9L987.0 495.2L989.2 489.4L991.3 483.7L993.4 478.0L995.5 472.2L997.6 466.6L999.7 460.9L1001.8 455.3L1003.9 449.8L1006.1 444.3L1008.2 438.9L1010.3 433.6L1012.4 428.3L1014.5 423.2L1016.6 418.1L1018.7 413.1L1020.8 408.2L1023.0 403.4L1025.1 398.7L1027.2 394.1L1029.3 389.6L1031.4 385.2L1033.5 380.8L1035.6 376.6L1037.7 372.4L1039.9 368.4L1042.0 364.4L1044.1 360.4L1046.2 356.6L1048.3 352.8L1050.4 349.0L1052.5 345.3L1054.6 341.7L1056.8 338.1L1058.9 334.5L1061.0 331.0L1063.1 327.5L1065.2 324.0L1067.3 320.5L1069.4 317.1L1071.5 313.6L1073.7 310.1L1075.8 306.6L1077.9 303.2L1080.0 299.6L1082.1 296.1L1084.2 292.5L1086.3 288.9L1088.4 285.2L1090.6 281.5L1092.7 277.7L1094.8 273.9L1096.9 270.0L1099.0 266.0L1101.1 261.9L1103.2 257.8L1105.3 253.6L1107.5 249.3L1109.6 244.9L1111.7 240.4L1113.8 235.9L1115.9 231.2L1118.0 226.4L1120.1 221.6L1122.2 216.6L1124.4 211.6L1126.5 206.5L1128.6 201.3L1130.7 196.0L1132.8 190.6L1134.9 185.1L1137.0 179.6L1139.1 174.0L1141.3 168.4L1143.4 162.7L1145.5 157.0L1147.6 151.3L1149.7 145.6L1151.8 139.9L1153.9 134.1L1156.0 128.4L1158.2 122.7L1160.3 117.0L1162.4 111.4" stroke="#bd1655"/>
<path d="M911.0 634.5L913.1 631.0L915.2 627.5L917.3 624.0L919.4 620.4L921.6 616.9L923.7 613.2L925.8 609.6L927.9 605.9L930.0 602.1L932.1 598.3L934.2 594.5L936.3 590.5L938.5 586.5L940.6 582.5L942.7 578.3L944.8 574.1L946.9 569.7L949.0 565.3L951.1 560.8L953.2 556.2L955.4 551.5L957.5 546.8L959.6 541.9L961.7 536.9L963.8 531.9L965.9 526.7L968.0 521.5L970.1 516.2L972.3 510.8L974.4 505.4L976.5 499.8L978.6 494.3L980.7 488.7L982.8 483.0L984.9 477.3L987.0 471.6L989.2 465.9L991.3 460.2L993.4 454.5L995.5 448.8L997.6 443.1L999.7 437.4L1001.8 431.9L1003.9 426.3L1006.1 420.8L1008.2 415.4L1010.3 410.1L1012.4 404.8L1014.5 399.6L1016.6 394.5L1018.7 389.5L1020.8 384.6L1023.0 379.8L1025.1 375.1L1027.2 370.4L1029.3 365.9L1031.4 361.5L1033.5 357.1L1035.6 352.8L1037.7 348.6L1039.9 344.5L1042.0 340.5L1044.1 336.5L1046.2 332.6L1048.3 328.8L1050.4 325.0L1052.5 321.3L1054.6 317.6L1056.8 314.0L1058.9 310.4L1061.0 306.9L1063.1 303.3L1065.2 299.8L1067.3 296.3L1069.4 292.8L1071.5 289.3L1073.7 285.8L1075.8 282.3L1077.9 278.8L1080.0 275.3L1082.1 271.7L1084.2 268.1L1086.3 264.5L1088.4 260.8L1090.6 257.1L1092.7 253.3L1094.8 249.5L1096.9 245.5L1099.0 241.6L1101.1 237.5L1103.2 233.4L1105.3 229.2L1107.5 224.9L1109.6 220.5L1111.7 216.1L1113.8 211.5L1115.9 206.8L1118.0 202.1L1120.1 197.3L1122.2 192.3L1124.4 187.3L1126.5 182.2L1128.6 177.0L1130.7 171.7L1132.8 166.4L1134.9 160.9L1137.0 155.5L1139.1 149.9L1141.3 144.3L1143.4 138.7L1145.5 133.0L1147.6 127.3L1149.7 121.6L1151.8 115.8" stroke="#c21753"/>
<path d="M911.0 610.5L913.1 607.0L915.2 603.5L917.3 599.9L919.4 596.4L921.6 592.8L923.7 589.2L925.8 585.6L927.9 581.9L930.0 578.1L932.1 574.3L934.2 570.5L936.3 566.6L938.5 562.6L940.6 558.5L942.7 554.4L944.8 550.2L946.9 545.9L949.0 541.5L951.1 537.0L953.2 532.4L955.4 527.8L957.5 523.0L959.6 518.2L961.7 513.3L963.8 508.3L965.9 503.2L968.0 498.0L970.1 492.7L972.3 487.4L974.4 481.9L976.5 476.5L978.6 470.9L980.7 465.3L982.8 459.7L984.9 454.1L987.0 448.4L989.2 442.7L991.3 437.0L993.4 431.3L995.5 425.6L997.6 419.9L999.7 414.3L1001.8 408.7L1003.9 403.2L1006.1 397.7L1008.2 392.3L1010.3 386.9L1012.4 381.7L1014.5 376.5L1016.6 371.4L1018.7 366.3L1020.8 361.4L1023.0 356.6L1025.1 351.8L1027.2 347.1L1029.3 342.6L1031.4 338.1L1033.5 333.7L1035.6 329.4L1037.7 325.2L1039.9 321.0L1042.0 317.0L1044.1 313.0L1046.2 309.1L1048.3 305.2L1050.4 301.4L1052.5 297.7L1054.6 294.0L1056.8 290.3L1058.9 286.7L1061.0 283.1L1063.1 279.6L1065.2 276.1L1067.3 272.5L1069.4 269.0L1071.5 265.5L1073.7 262.0L1075.8 258.5L1077.9 255.0L1080.0 251.5L1082.1 247.9L1084.2 244.3L1086.3 240.7L1088.4 237.0L1090.6 233.3L1092.7 229.5L1094.8 225.7L1096.9 221.8L1099.0 217.9L1101.1 213.8L1103.2 209.7L1105.3 205.6L1107.5 201.3L1109.6 197.0L1111.7 192.5L1113.8 188.0L1115.9 183.4L1118.0 178.7L1120.1 173.9L1122.2 169.0L1124.4 164.0L1126.5 159.0L1128.6 153.8L1130.7 148.6L1132.8 143.3L1134.9 137.9L1137.0 132.4L1139.1 126.9L1141.3 121.4L1143.4 115.7" stroke="#c71951"/>
<path d="M911.0 586.4L913.1 582.9L915.2 579.4L917.3 575.9L919.4 572.4L921.6 568.8L923.7 565.2L925.8 561.6L927.9 557.9L930.0 554.2L932.1 550.4L934.2 546.6L936.3 542.7L938.5 538.8L940.6 534.7L942.7 530.6L944.8 526.5L946.9 522.2L949.0 517.9L951.1 513.4L953.2 508.9L955.4 504.3L957.5 499.6L959.6 494.8L961.7 489.9L963.8 485.0L965.9 479.9L968.0 474.8L970.1 469.6L972.3 464.3L974.4 458.9L976.5 453.5L978.6 448.0L980.7 442.4L982.8 436.9L984.9 431.2L987.0 425.6L989.2 419.9L991.3 414.3L993.4 408.6L995.5 402.9L997.6 397.3L999.7 391.7L1001.8 386.1L1003.9 380.6L1006.1 375.1L1008.2 369.6L1010.3 364.3L1012.4 359.0L1014.5 353.8L1016.6 348.7L1018.7 343.6L1020.8 338.7L1023.0 333.8L1025.1 329.0L1027.2 324.4L1029.3 319.8L1031.4 315.3L1033.5 310.8L1035.6 306.5L1037.7 302.3L1039.9 298.1L1042.0 294.0L1044.1 290.0L1046.2 286.0L1048.3 282.2L1050.4 278.4L1052.5 274.6L1054.6 270.9L1056.8 267.2L1058.9 263.6L1061.0 260.0L1063.1 256.4L1065.2 252.9L1067.3 249.4L1069.4 245.9L1071.5 242.4L1073.7 238.9L1075.8 235.4L1077.9 231.9L1080.0 228.4L1082.1 224.8L1084.2 221.3L1086.3 217.7L1088.4 214.0L1090.6 210.4L1092.7 206.6L1094.8 202.8L1096.9 199.0L1099.0 195.1L1101.1 191.1L1103.2 187.1L1105.3 183.0L1107.5 178.8L1109.6 174.5L1111.7 170.1L1113.8 165.6L1115.9 161.1L1118.0 156.5L1120.1 151.7L1122.2 146.9L1124.4 142.0L1126.5 137.0L1128.6 132.0L1130.7 126.8L1132.8 121.6L1134.9 116.2" stroke="#cb1b4f"/>
<path d="M911.0 562.2L913.1 558.8L915.2 555.3L917.3 551.9L919.4 548.4L921.6 544.9L923.7 541.3L925.8 537.8L927.9 534.2L930.0 530.5L932.1 526.8L934.2 523.1L936.3 519.2L938.5 515.4L940.6 511.4L942.7 507.4L944.8 503.3L946.9 499.1L949.0 494.8L951.1 490.5L953.2 486.1L955.4 481.5L957.5 476.9L959.6 472.2L961.7 467.4L963.8 462.6L965.9 457.6L968.0 452.6L970.1 447.4L972.3 442.2L974.4 436.9L976.5 431.6L978.6 426.2L980.7 420.7L982.8 415.2L984.9 409.6L987.0 404.0L989.2 398.4L991.3 392.8L993.4 387.2L995.5 381.5L997.6 375.9L999.7 370.3L1001.8 364.8L1003.9 359.2L1006.1 353.8L1008.2 348.3L1010.3 343.0L1012.4 337.7L1014.5 332.5L1016.6 327.3L1018.7 322.3L1020.8 317.3L1023.0 312.4L1025.1 307.6L1027.2 302.9L1029.3 298.3L1031.4 293.7L1033.5 289.3L1035.6 284.9L1037.7 280.7L1039.9 276.5L1042.0 272.4L1044.1 268.4L1046.2 264.4L1048.3 260.5L1050.4 256.7L1052.5 252.9L1054.6 249.2L1056.8 245.5L1058.9 241.9L1061.0 238.4L1063.1 234.8L1065.2 231.3L1067.3 227.8L1069.4 224.4L1071.5 220.9L1073.7 217.5L1075.8 214.0L1077.9 210.6L1080.0 207.1L1082.1 203.6L1084.2 200.2L1086.3 196.6L1088.4 193.1L1090.6 189.5L1092.7 185.9L1094.8 182.2L1096.9 178.5L1099.0 174.7L1101.1 170.8L1103.2 166.9L1105.3 162.9L1107.5 158.9L1109.6 154.7L1111.7 150.5L1113.8 146.2L1115.9 141.8L1118.0 137.3L1120.1 132.8L1122.2 128.1L1124.4 123.4L1126.5 118.5L1128.6 113.6" stroke="#ce1d4e"/>
<path d="M911.0 538.0L913.1 534.6L915.2 531.2L917.3 527.8L919.4 524.4L921.6 521.0L923.7 517.6L925.8 514.1L927.9 510.6L930.0 507.0L932.1 503.4L934.2 499.7L936.3 496.0L938.5 492.2L940.6 488.4L942.7 484.4L944.8 480.5L946.9 476.4L949.0 472.2L951.1 468.0L953.2 463.7L955.4 459.3L957.5 454.8L959.6 450.2L961.7 445.5L963.8 440.7L965.9 435.9L968.0 431.0L970.1 425.9L972.3 420.8L974.4 415.6L976.5 410.4L978.6 405.1L980.7 399.7L982.8 394.3L984.9 388.8L987.0 383.3L989.2 377.7L991.3 372.2L993.4 366.6L995.5 361.0L997.6 355.4L999.7 349.9L1001.8 344.3L1003.9 338.8L1006.1 333.4L1008.2 328.0L1010.3 322.6L1012.4 317.3L1014.5 312.1L1016.6 306.9L1018.7 301.8L1020.8 296.8L1023.0 291.9L1025.1 287.1L1027.2 282.4L1029.3 277.7L1031.4 273.2L1033.5 268.7L1035.6 264.3L1037.7 260.0L1039.9 255.8L1042.0 251.7L1044.1 247.6L1046.2 243.7L1048.3 239.8L1050.4 235.9L1052.5 232.2L1054.6 228.5L1056.8 224.8L1058.9 221.2L1061.0 217.7L1063.1 214.2L1065.2 210.7L1067.3 207.2L1069.4 203.8L1071.5 200.4L1073.7 197.0L1075.8 193.7L1077.9 190.3L1080.0 186.9L1082.1 183.6L1084.2 180.2L1086.3 176.8L1088.4 173.3L1090.6 169.9L1092.7 166.4L1094.8 162.8L1096.9 159.3L1099.0 155.6L1101.1 151.9L1103.2 148.2L1105.3 144.4L1107.5 140.5L1109.6 136.6L1111.7 132.6L1113.8 128.5L1115.9 124.3L1118.0 120.0L1120.1 115.7" stroke="#d2204c"/>
<path d="M911.0 513.9L913.1 510.5L915.2 507.2L917.3 503.8L919.4 500.4L921.6 497.0L923.7 493.6L925.8 490.2L927.9 486.7L930.0 483.2L932.1 479.6L934.2 476.0L936.3 472.3L938.5 468.5L940.6 464.7L942.7 460.9L944.8 456.9L946.9 452.9L949.0 448.8L951.1 444.7L953.2 440.4L955.4 436.0L957.5 431.6L959.6 427.1L961.7 422.5L963.8 417.8L965.9 413.0L968.0 408.1L970.1 403.2L972.3 398.1L974.4 393.0L976.5 387.8L978.6 382.6L980.7 377.2L982.8 371.9L984.9 366.4L987.0 361.0L989.2 355.5L991.3 350.0L993.4 344.4L995.5 338.9L997.6 333.3L999.7 327.8L1001.8 322.3L1003.9 316.8L1006.1 311.3L1008.2 305.9L1010.3 300.6L1012.4 295.3L1014.5 290.0L1016.6 284.8L1018.7 279.8L1020.8 274.7L1023.0 269.8L1025.1 265.0L1027.2 260.2L1029.3 255.5L1031.4 250.9L1033.5 246.4L1035.6 242.0L1037.7 237.7L1039.9 233.5L1042.0 229.3L1044.1 225.2L1046.2 221.2L1048.3 217.3L1050.4 213.5L1052.5 209.7L1054.6 206.0L1056.8 202.3L1058.9 198.7L1061.0 195.2L1063.1 191.6L1065.2 188.2L1067.3 184.7L1069.4 181.3L1071.5 177.9L1073.7 174.6L1075.8 171.2L1077.9 167.8L1080.0 164.5L1082.1 161.2L1084.2 157.8L1086.3 154.4L1088.4 151.0L1090.6 147.6L1092.7 144.2L1094.8 140.7L1096.9 137.2L1099.0 133.6L1101.1 130.0L1103.2 126.3L1105.3 122.6L1107.5 118.8L1109.6 114.9" stroke="#d62449"/>
<path d="M911.0 489.8L913.1 486.5L915.2 483.1L917.3 479.8L919.4 476.4L921.6 473.0L923.7 469.6L925.8 466.2L927.9 462.7L930.0 459.2L932.1 455.7L934.2 452.1L936.3 448.4L938.5 444.7L940.6 441.0L942.7 437.2L944.8 433.3L946.9 429.3L949.0 425.3L951.1 421.1L953.2 416.9L955.4 412.7L957.5 408.3L959.6 403.9L961.7 399.3L963.8 394.7L965.9 390.0L968.0 385.2L970.1 380.4L972.3 375.4L974.4 370.4L976.5 365.3L978.6 360.2L980.7 354.9L982.8 349.7L984.9 344.3L987.0 339.0L989.2 333.5L991.3 328.1L993.4 322.6L995.5 317.2L997.6 311.7L999.7 306.2L1001.8 300.8L1003.9 295.3L1006.1 289.9L1008.2 284.6L1010.3 279.2L1012.4 274.0L1014.5 268.7L1016.6 263.6L1018.7 258.5L1020.8 253.5L1023.0 248.5L1025.1 243.7L1027.2 238.9L1029.3 234.2L1031.4 229.6L1033.5 225.1L1035.6 220.6L1037.7 216.3L1039.9 212.0L1042.0 207.8L1044.1 203.7L1046.2 199.7L1048.3 195.7L1050.4 191.9L1052.5 188.0L1054.6 184.3L1056.8 180.6L1058.9 176.9L1061.0 173.4L1063.1 169.8L1065.2 166.3L1067.3 162.9L1069.4 159.4L1071.5 156.0L1073.7 152.6L1075.8 149.3L1077.9 145.9L1080.0 142.6L1082.1 139.2L1084.2 135.9L1086.3 132.5L1088.4 129.2L1090.6 125.8L1092.7 122.4L1094.8 118.9L1096.9 115.5" stroke="#d92847"/>
<path d="M911.0 465.9L913.1 462.5L915.2 459.1L917.3 455.7L919.4 452.3L921.6 448.9L923.7 445.4L925.8 441.9L927.9 438.4L930.0 434.9L932.1 431.3L934.2 427.7L936.3 424.0L938.5 420.3L940.6 416.5L942.7 412.7L944.8 408.8L946.9 404.8L949.0 400.8L951.1 396.7L953.2 392.5L955.4 388.3L957.5 383.9L959.6 379.5L961.7 375.0L963.8 370.5L965.9 365.8L968.0 361.1L970.1 356.3L972.3 351.5L974.4 346.5L976.5 341.5L978.6 336.4L980.7 331.3L982.8 326.1L984.9 320.9L987.0 315.6L989.2 310.3L991.3 304.9L993.4 299.6L995.5 294.2L997.6 288.8L999.7 283.4L1001.8 278.1L1003.9 272.7L1006.1 267.4L1008.2 262.1L1010.3 256.8L1012.4 251.6L1014.5 246.4L1016.6 241.3L1018.7 236.3L1020.8 231.3L1023.0 226.3L1025.1 221.5L1027.2 216.7L1029.3 212.0L1031.4 207.4L1033.5 202.9L1035.6 198.4L1037.7 194.0L1039.9 189.7L1042.0 185.5L1044.1 181.3L1046.2 177.3L1048.3 173.3L1050.4 169.3L1052.5 165.4L1054.6 161.6L1056.8 157.9L1058.9 154.2L1061.0 150.5L1063.1 146.9L1065.2 143.3L1067.3 139.8L1069.4 136.3L1071.5 132.8L1073.7 129.4L1075.8 126.0L1077.9 122.5L1080.0 119.1L1082.1 115.7" stroke="#dd2c45"/>
<path d="M911.0 442.2L913.1 438.7L915.2 435.2L917.3 431.7L919.4 428.1L921.6 424.6L923.7 421.0L925.8 417.5L927.9 413.9L930.0 410.2L932.1 406.6L934.2 402.9L936.3 399.1L938.5 395.3L940.6 391.5L942.7 387.6L944.8 383.6L946.9 379.6L949.0 375.5L951.1 371.4L953.2 367.2L955.4 362.9L957.5 358.5L959.6 354.1L961.7 349.6L963.8 345.0L965.9 340.4L968.0 335.7L970.1 330.9L972.3 326.0L974.4 321.1L976.5 316.1L978.6 311.1L980.7 306.0L982.8 300.9L984.9 295.7L987.0 290.5L989.2 285.2L991.3 279.9L993.4 274.6L995.5 269.3L997.6 264.0L999.7 258.7L1001.8 253.4L1003.9 248.1L1006.1 242.8L1008.2 237.5L1010.3 232.3L1012.4 227.1L1014.5 222.0L1016.6 216.9L1018.7 211.9L1020.8 207.0L1023.0 202.1L1025.1 197.2L1027.2 192.5L1029.3 187.8L1031.4 183.1L1033.5 178.6L1035.6 174.1L1037.7 169.7L1039.9 165.4L1042.0 161.1L1044.1 156.9L1046.2 152.8L1048.3 148.7L1050.4 144.7L1052.5 140.7L1054.6 136.9L1056.8 133.0L1058.9 129.2L1061.0 125.5L1063.1 121.8L1065.2 118.2L1067.3 114.5" stroke="#e03143"/>
<path d="M911.0 418.7L913.1 415.0L915.2 411.3L917.3 407.6L919.4 403.9L921.6 400.2L923.7 396.4L925.8 392.7L927.9 388.9L930.0 385.1L932.1 381.3L934.2 377.4L936.3 373.5L938.5 369.6L940.6 365.6L942.7 361.6L944.8 357.5L946.9 353.3L949.0 349.1L951.1 344.8L953.2 340.5L955.4 336.1L957.5 331.7L959.6 327.1L961.7 322.5L963.8 317.9L965.9 313.2L968.0 308.4L970.1 303.5L972.3 298.6L974.4 293.7L976.5 288.7L978.6 283.6L980.7 278.5L982.8 273.3L984.9 268.1L987.0 262.9L989.2 257.7L991.3 252.4L993.4 247.1L995.5 241.8L997.6 236.5L999.7 231.2L1001.8 225.9L1003.9 220.6L1006.1 215.4L1008.2 210.2L1010.3 205.0L1012.4 199.8L1014.5 194.7L1016.6 189.7L1018.7 184.7L1020.8 179.7L1023.0 174.8L1025.1 170.0L1027.2 165.2L1029.3 160.5L1031.4 155.9L1033.5 151.3L1035.6 146.8L1037.7 142.4L1039.9 138.0L1042.0 133.7L1044.1 129.4L1046.2 125.2L1048.3 121.1L1050.4 117.0L1052.5 112.9" stroke="#e33641"/>
<path d="M911.0 395.0L913.1 391.2L915.2 387.4L917.3 383.5L919.4 379.7L921.6 375.8L923.7 372.0L925.8 368.1L927.9 364.2L930.0 360.3L932.1 356.3L934.2 352.3L936.3 348.3L938.5 344.2L940.6 340.1L942.7 336.0L944.8 331.8L946.9 327.5L949.0 323.2L951.1 318.9L953.2 314.5L955.4 310.0L957.5 305.5L959.6 300.9L961.7 296.2L963.8 291.5L965.9 286.7L968.0 281.9L970.1 277.0L972.3 272.1L974.4 267.1L976.5 262.1L978.6 257.0L980.7 251.9L982.8 246.8L984.9 241.6L987.0 236.4L989.2 231.1L991.3 225.9L993.4 220.6L995.5 215.3L997.6 210.1L999.7 204.8L1001.8 199.5L1003.9 194.3L1006.1 189.1L1008.2 183.9L1010.3 178.7L1012.4 173.6L1014.5 168.5L1016.6 163.4L1018.7 158.5L1020.8 153.5L1023.0 148.6L1025.1 143.8L1027.2 139.0L1029.3 134.3L1031.4 129.6L1033.5 125.0L1035.6 120.5L1037.7 116.0" stroke="#e63b40"/>
<path d="M911.0 371.4L913.1 367.4L915.2 363.4L917.3 359.5L919.4 355.5L921.6 351.5L923.7 347.5L925.8 343.5L927.9 339.5L930.0 335.5L932.1 331.4L934.2 327.3L936.3 323.2L938.5 319.0L940.6 314.8L942.7 310.6L944.8 306.3L946.9 302.0L949.0 297.6L951.1 293.2L953.2 288.7L955.4 284.2L957.5 279.6L959.6 274.9L961.7 270.2L963.8 265.5L965.9 260.7L968.0 255.9L970.1 250.9L972.3 246.0L974.4 241.0L976.5 236.0L978.6 230.9L980.7 225.8L982.8 220.6L984.9 215.4L987.0 210.2L989.2 205.0L991.3 199.8L993.4 194.5L995.5 189.3L997.6 184.0L999.7 178.8L1001.8 173.6L1003.9 168.3L1006.1 163.1L1008.2 158.0L1010.3 152.8L1012.4 147.7L1014.5 142.6L1016.6 137.6L1018.7 132.6L1020.8 127.7L1023.0 122.8L1025.1 117.9L1027.2 113.1" stroke="#e8403e"/>
</g>
<g clip-path="url(#c2)" fill="none" stroke-width="9.0" stroke-linecap="butt">
<path d="M1468.5 1016.5H1932.5" stroke="#2a1636"/>
<path d="M1468.5 991.5H1932.5" stroke="#2e1739"/>
<path d="M1468.5 966.5H1932.5" stroke="#491d49"/>
<path d="M1468.5 941.4H1932.5" stroke="#4c1d4b"/>
</g>
<g fill="#4c4d4f">
<rect x="347.0" y="136.0" width="11.0" height="1110.0"/>
<rect x="304.0" y="1192.0" width="515.0" height="11.0"/>
<rect x="304.0" y="152.0" width="48.5" height="12.0"/>
<rect x="304.0" y="498.5" width="48.5" height="12.0"/>
<rect x="304.0" y="845.0" width="48.5" height="12.0"/>
<rect x="611.0" y="1197.5" width="11.0" height="48.5"/>
<rect x="905.5" y="136.0" width="11.0" height="1110.0"/>
<rect x="862.5" y="1192.0" width="515.0" height="11.0"/>
<rect x="862.5" y="152.0" width="48.5" height="12.0"/>
<rect x="862.5" y="498.5" width="48.5" height="12.0"/>
<rect x="862.5" y="845.0" width="48.5" height="12.0"/>
<rect x="1169.5" y="1197.5" width="11.0" height="48.5"/>
<rect x="1464.0" y="136.0" width="11.0" height="1110.0"/>
<rect x="1421.0" y="1192.0" width="515.0" height="11.0"/>
<rect x="1421.0" y="152.0" width="48.5" height="12.0"/>
<rect x="1421.0" y="498.5" width="48.5" height="12.0"/>
<rect x="1421.0" y="845.0" width="48.5" height="12.0"/>
<rect x="1728.0" y="1197.5" width="11.0" height="48.5"/>
</g>
<rect x="222.5" y="1505.5" width="1712.4" height="43.9" fill="url(#rk)"/>
<rect x="222.5" y="1505.5" width="1712.4" height="43.9" fill="none" stroke="#4c4d4f" stroke-width="11.0"/>
<rect x="217.0" y="1549.4" width="11.0" height="49.0" fill="#4c4d4f"/>
<rect x="1073.2" y="1549.4" width="11.0" height="49.0" fill="#4c4d4f"/>
<rect x="1929.4" y="1549.4" width="11.0" height="49.0" fill="#4c4d4f"/>
<text transform="scale(1.070,1)" x="496.7 526.2" y="93.0" font-size="101.5">IC</text>
<text transform="scale(1.090,1)" x="978.0 1050.5" y="93.0" font-size="101.5">NC</text>
<text transform="scale(1.070,1)" x="1555.1" y="93.0" font-size="101.5">C</text>
<text y="181.0" font-size="68.0"><tspan x="124.3">6</tspan><tspan x="161.5" class="it" font-size="74">π</tspan><tspan x="209.5" dy="6.5" font-size="82">/</tspan><tspan x="241.5" dy="-6.5">3</tspan></text>
<text y="527.5" font-size="68.0"><tspan x="123.0">4</tspan><tspan x="161.5" class="it" font-size="74">π</tspan><tspan x="209.5" dy="6.5" font-size="82">/</tspan><tspan x="241.5" dy="-6.5">3</tspan></text>
<text y="874.0" font-size="68.0"><tspan x="123.3">2</tspan><tspan x="161.5" class="it" font-size="74">π</tspan><tspan x="209.5" dy="6.5" font-size="82">/</tspan><tspan x="241.5" dy="-6.5">3</tspan></text>
<text x="277.0" y="1220.5" font-size="68.0" text-anchor="end">0</text>
<text x="353.0" y="1320.0" font-size="68.0" text-anchor="middle">0</text>
<text x="616.5" y="1320.0" font-size="68.0" text-anchor="middle">50</text>
<text x="911.5" y="1320.0" font-size="68.0" text-anchor="middle">0</text>
<text x="1175.0" y="1320.0" font-size="68.0" text-anchor="middle">50</text>
<text x="1470.0" y="1320.0" font-size="68.0" text-anchor="middle">0</text>
<text x="1733.5" y="1320.0" font-size="68.0" text-anchor="middle">50</text>
<text x="1141.5" y="1430.0" font-size="84.0" text-anchor="middle" class="it">x</text>
<text transform="translate(72.0,669.5) rotate(-90) scale(1.16,0.96)" font-size="84.0" text-anchor="middle" class="it">ϕ</text>
<text x="220.7" y="1673.0" font-size="68.0" text-anchor="middle" letter-spacing="-1.2">0.0</text>
<text x="1076.9" y="1673.0" font-size="68.0" text-anchor="middle" letter-spacing="-1.2">2.5</text>
<text x="1933.1" y="1673.0" font-size="68.0" text-anchor="middle" letter-spacing="-1.2">5.0</text>
<text x="1076.0" y="1781.0" font-size="84.0" text-anchor="middle" class="it">T</text>
</svg></body></html>
